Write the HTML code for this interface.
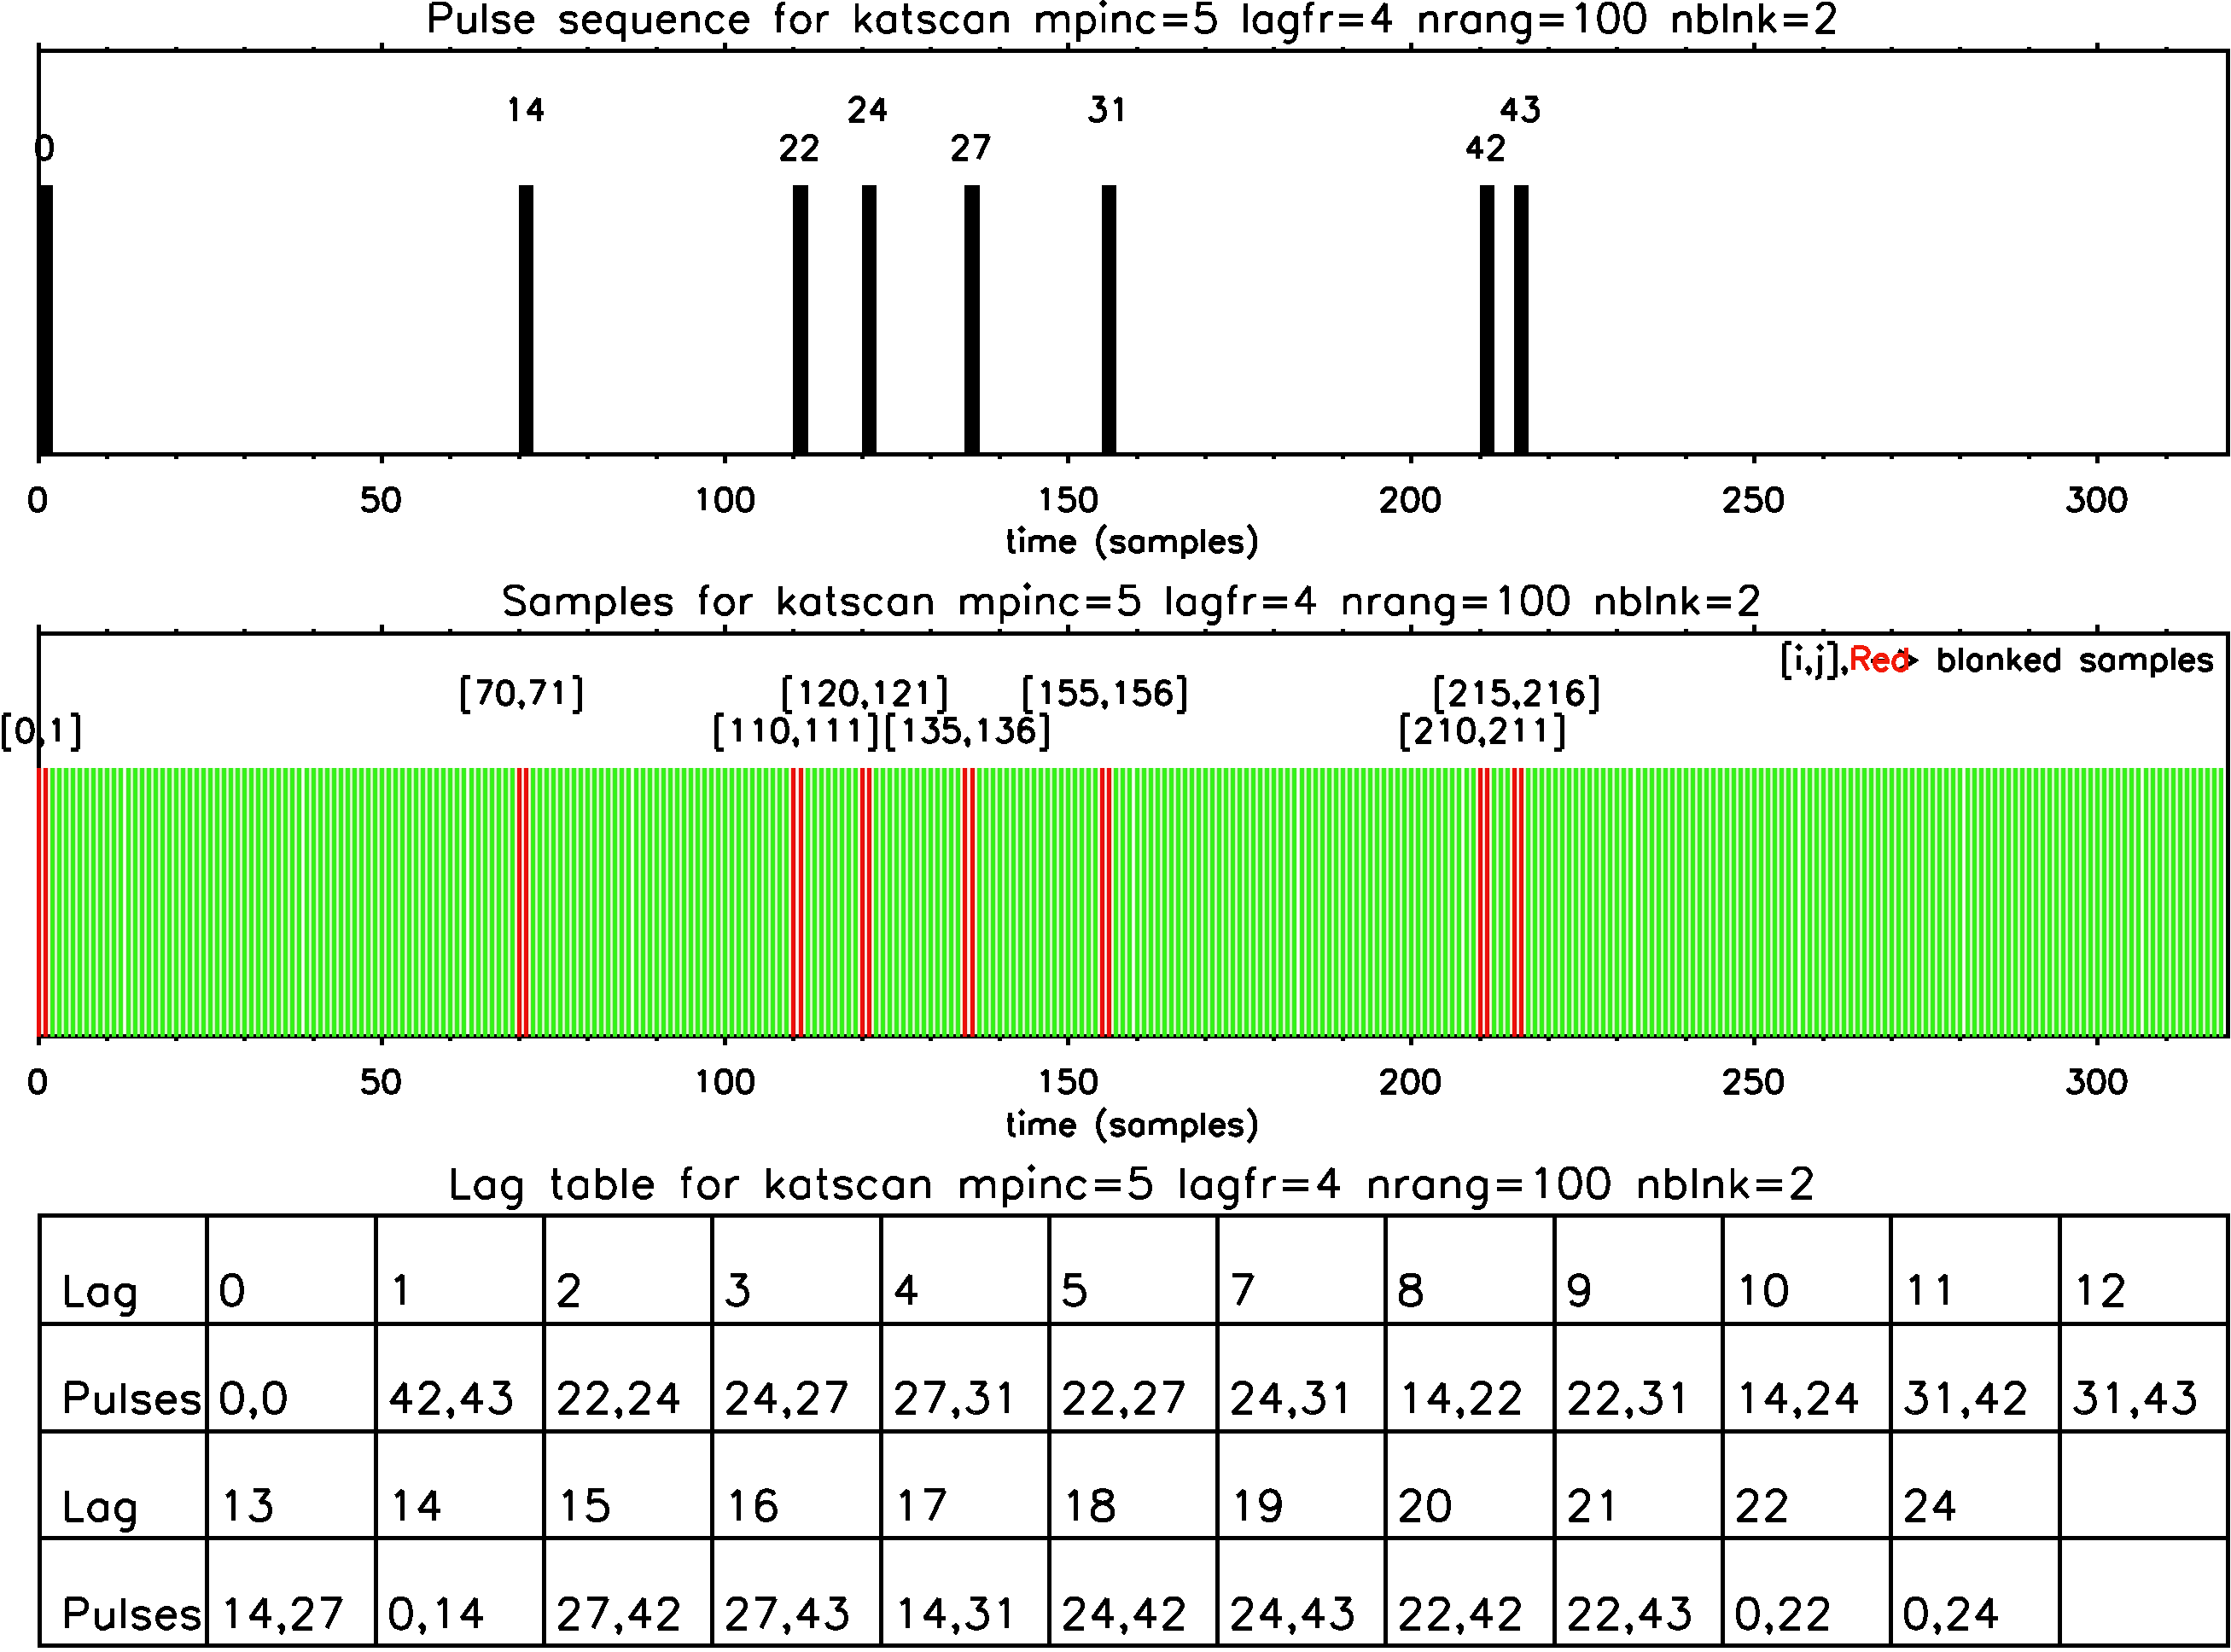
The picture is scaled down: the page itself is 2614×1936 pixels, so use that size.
<!DOCTYPE html>
<html><head><meta charset="utf-8"><title>katscan</title>
<style>html,body{margin:0;padding:0;background:#fff;overflow:hidden;font-family:"Liberation Sans",sans-serif;}svg{display:block;}</style>
</head><body>
<svg width="2614" height="1936" viewBox="0 0 2614 1936">
<rect x="0" y="0" width="2614" height="1936" fill="#fff"/>
<rect x="43.00" y="57.00" width="2570.00" height="5.00" fill="#000"/>
<rect x="43.00" y="530.00" width="2570.00" height="5.00" fill="#000"/>
<rect x="43.00" y="50.00" width="5.00" height="493.00" fill="#000"/>
<rect x="2608.00" y="57.00" width="5.00" height="478.00" fill="#000"/>
<rect x="43.00" y="50.00" width="5.00" height="8.00" fill="#000"/>
<rect x="43.00" y="534.00" width="5.00" height="9.00" fill="#000"/>
<rect x="123.00" y="55.00" width="5.00" height="3.00" fill="#000"/>
<rect x="123.00" y="534.00" width="5.00" height="4.00" fill="#000"/>
<rect x="204.00" y="55.00" width="5.00" height="3.00" fill="#000"/>
<rect x="204.00" y="534.00" width="5.00" height="4.00" fill="#000"/>
<rect x="284.00" y="55.00" width="5.00" height="3.00" fill="#000"/>
<rect x="284.00" y="534.00" width="5.00" height="4.00" fill="#000"/>
<rect x="365.00" y="55.00" width="5.00" height="3.00" fill="#000"/>
<rect x="365.00" y="534.00" width="5.00" height="4.00" fill="#000"/>
<rect x="445.00" y="50.00" width="5.00" height="8.00" fill="#000"/>
<rect x="445.00" y="534.00" width="5.00" height="9.00" fill="#000"/>
<rect x="525.00" y="55.00" width="5.00" height="3.00" fill="#000"/>
<rect x="525.00" y="534.00" width="5.00" height="4.00" fill="#000"/>
<rect x="606.00" y="55.00" width="5.00" height="3.00" fill="#000"/>
<rect x="606.00" y="534.00" width="5.00" height="4.00" fill="#000"/>
<rect x="686.00" y="55.00" width="5.00" height="3.00" fill="#000"/>
<rect x="686.00" y="534.00" width="5.00" height="4.00" fill="#000"/>
<rect x="767.00" y="55.00" width="5.00" height="3.00" fill="#000"/>
<rect x="767.00" y="534.00" width="5.00" height="4.00" fill="#000"/>
<rect x="847.00" y="50.00" width="5.00" height="8.00" fill="#000"/>
<rect x="847.00" y="534.00" width="5.00" height="9.00" fill="#000"/>
<rect x="927.00" y="55.00" width="5.00" height="3.00" fill="#000"/>
<rect x="927.00" y="534.00" width="5.00" height="4.00" fill="#000"/>
<rect x="1008.00" y="55.00" width="5.00" height="3.00" fill="#000"/>
<rect x="1008.00" y="534.00" width="5.00" height="4.00" fill="#000"/>
<rect x="1088.00" y="55.00" width="5.00" height="3.00" fill="#000"/>
<rect x="1088.00" y="534.00" width="5.00" height="4.00" fill="#000"/>
<rect x="1169.00" y="55.00" width="5.00" height="3.00" fill="#000"/>
<rect x="1169.00" y="534.00" width="5.00" height="4.00" fill="#000"/>
<rect x="1249.00" y="50.00" width="5.00" height="8.00" fill="#000"/>
<rect x="1249.00" y="534.00" width="5.00" height="9.00" fill="#000"/>
<rect x="1330.00" y="55.00" width="5.00" height="3.00" fill="#000"/>
<rect x="1330.00" y="534.00" width="5.00" height="4.00" fill="#000"/>
<rect x="1410.00" y="55.00" width="5.00" height="3.00" fill="#000"/>
<rect x="1410.00" y="534.00" width="5.00" height="4.00" fill="#000"/>
<rect x="1490.00" y="55.00" width="5.00" height="3.00" fill="#000"/>
<rect x="1490.00" y="534.00" width="5.00" height="4.00" fill="#000"/>
<rect x="1571.00" y="55.00" width="5.00" height="3.00" fill="#000"/>
<rect x="1571.00" y="534.00" width="5.00" height="4.00" fill="#000"/>
<rect x="1651.00" y="50.00" width="5.00" height="8.00" fill="#000"/>
<rect x="1651.00" y="534.00" width="5.00" height="9.00" fill="#000"/>
<rect x="1732.00" y="55.00" width="5.00" height="3.00" fill="#000"/>
<rect x="1732.00" y="534.00" width="5.00" height="4.00" fill="#000"/>
<rect x="1812.00" y="55.00" width="5.00" height="3.00" fill="#000"/>
<rect x="1812.00" y="534.00" width="5.00" height="4.00" fill="#000"/>
<rect x="1892.00" y="55.00" width="5.00" height="3.00" fill="#000"/>
<rect x="1892.00" y="534.00" width="5.00" height="4.00" fill="#000"/>
<rect x="1973.00" y="55.00" width="5.00" height="3.00" fill="#000"/>
<rect x="1973.00" y="534.00" width="5.00" height="4.00" fill="#000"/>
<rect x="2053.00" y="50.00" width="5.00" height="8.00" fill="#000"/>
<rect x="2053.00" y="534.00" width="5.00" height="9.00" fill="#000"/>
<rect x="2134.00" y="55.00" width="5.00" height="3.00" fill="#000"/>
<rect x="2134.00" y="534.00" width="5.00" height="4.00" fill="#000"/>
<rect x="2214.00" y="55.00" width="5.00" height="3.00" fill="#000"/>
<rect x="2214.00" y="534.00" width="5.00" height="4.00" fill="#000"/>
<rect x="2294.00" y="55.00" width="5.00" height="3.00" fill="#000"/>
<rect x="2294.00" y="534.00" width="5.00" height="4.00" fill="#000"/>
<rect x="2375.00" y="55.00" width="5.00" height="3.00" fill="#000"/>
<rect x="2375.00" y="534.00" width="5.00" height="4.00" fill="#000"/>
<rect x="2455.00" y="50.00" width="5.00" height="8.00" fill="#000"/>
<rect x="2455.00" y="534.00" width="5.00" height="9.00" fill="#000"/>
<rect x="2536.00" y="55.00" width="5.00" height="3.00" fill="#000"/>
<rect x="2536.00" y="534.00" width="5.00" height="4.00" fill="#000"/>
<rect x="43.00" y="217.00" width="19.00" height="313.00" fill="#000"/>
<rect x="608.00" y="217.00" width="17.00" height="313.00" fill="#000"/>
<rect x="929.00" y="217.00" width="18.00" height="313.00" fill="#000"/>
<rect x="1010.00" y="217.00" width="17.00" height="313.00" fill="#000"/>
<rect x="1130.00" y="217.00" width="18.00" height="313.00" fill="#000"/>
<rect x="1291.00" y="217.00" width="17.00" height="313.00" fill="#000"/>
<rect x="1734.00" y="217.00" width="17.00" height="313.00" fill="#000"/>
<rect x="1774.00" y="217.00" width="17.00" height="313.00" fill="#000"/>
<path fill="#f8d8d0" d="M48 900h1v315h-1zM50 900h1v315h-1zM611 900h1v315h-1zM613 900h1v315h-1zM932 900h1v315h-1zM935 900h1v315h-1zM1013 900h1v315h-1zM1015 900h1v315h-1zM1133 900h1v315h-1zM1136 900h1v315h-1zM1294 900h1v315h-1zM1296 900h1v315h-1zM1737 900h1v315h-1zM1739 900h1v315h-1zM1777 900h1v315h-1zM1779 900h1v315h-1z"/>
<path fill="#fff0ee" d="M49 900h1v315h-1zM612 900h1v315h-1zM933 900h2v315h-2zM1014 900h1v315h-1zM1134 900h2v315h-2zM1295 900h1v315h-1zM1738 900h1v315h-1zM1778 900h1v315h-1z"/>
<path fill="#f0e8c8" d="M56 900h1v315h-1zM58 900h1v315h-1zM603 900h1v315h-1zM605 900h1v315h-1zM619 900h1v315h-1zM621 900h1v315h-1zM924 900h1v315h-1zM926 900h1v315h-1zM941 900h1v315h-1zM943 900h1v315h-1zM1005 900h1v315h-1zM1007 900h1v315h-1zM1021 900h1v315h-1zM1023 900h1v315h-1zM1125 900h1v315h-1zM1127 900h1v315h-1zM1142 900h1v315h-1zM1144 900h1v315h-1zM1286 900h1v315h-1zM1288 900h1v315h-1zM1302 900h1v315h-1zM1304 900h1v315h-1zM1729 900h1v315h-1zM1731 900h1v315h-1zM1745 900h1v315h-1zM1747 900h1v315h-1zM1769 900h1v315h-1zM1771 900h1v315h-1zM1785 900h1v315h-1zM1787 900h1v315h-1z"/>
<path fill="#fbf8e8" d="M57 900h1v315h-1zM604 900h1v315h-1zM620 900h1v315h-1zM925 900h1v315h-1zM942 900h1v315h-1zM1006 900h1v315h-1zM1022 900h1v315h-1zM1126 900h1v315h-1zM1143 900h1v315h-1zM1287 900h1v315h-1zM1303 900h1v315h-1zM1730 900h1v315h-1zM1746 900h1v315h-1zM1770 900h1v315h-1zM1786 900h1v315h-1z"/>
<path fill="#c4f6b0" d="M64 900h1v315h-1zM66 900h1v315h-1zM72 900h1v315h-1zM74 900h1v315h-1zM80 900h1v315h-1zM82 900h1v315h-1zM88 900h1v315h-1zM90 900h1v315h-1zM96 900h1v315h-1zM98 900h1v315h-1zM104 900h1v315h-1zM106 900h1v315h-1zM112 900h1v315h-1zM114 900h1v315h-1zM120 900h1v315h-1zM122 900h1v315h-1zM128 900h1v315h-1zM130 900h1v315h-1zM136 900h1v315h-1zM138 900h1v315h-1zM153 900h1v315h-1zM155 900h1v315h-1zM161 900h1v315h-1zM163 900h1v315h-1zM169 900h1v315h-1zM171 900h1v315h-1zM177 900h1v315h-1zM179 900h1v315h-1zM185 900h1v315h-1zM187 900h1v315h-1zM193 900h1v315h-1zM195 900h1v315h-1zM201 900h1v315h-1zM203 900h1v315h-1zM209 900h1v315h-1zM211 900h1v315h-1zM217 900h1v315h-1zM219 900h1v315h-1zM225 900h1v315h-1zM227 900h1v315h-1zM233 900h1v315h-1zM235 900h1v315h-1zM241 900h1v315h-1zM243 900h1v315h-1zM249 900h1v315h-1zM251 900h1v315h-1zM257 900h1v315h-1zM259 900h1v315h-1zM265 900h1v315h-1zM267 900h1v315h-1zM273 900h1v315h-1zM275 900h1v315h-1zM281 900h1v315h-1zM283 900h1v315h-1zM289 900h1v315h-1zM291 900h1v315h-1zM297 900h1v315h-1zM299 900h1v315h-1zM305 900h1v315h-1zM307 900h1v315h-1zM313 900h1v315h-1zM315 900h1v315h-1zM321 900h1v315h-1zM323 900h1v315h-1zM329 900h1v315h-1zM331 900h1v315h-1zM337 900h1v315h-1zM339 900h1v315h-1zM345 900h1v315h-1zM347 900h1v315h-1zM362 900h1v315h-1zM364 900h1v315h-1zM370 900h1v315h-1zM372 900h1v315h-1zM378 900h1v315h-1zM380 900h1v315h-1zM386 900h1v315h-1zM388 900h1v315h-1zM394 900h1v315h-1zM396 900h1v315h-1zM402 900h1v315h-1zM404 900h1v315h-1zM410 900h1v315h-1zM412 900h1v315h-1zM418 900h1v315h-1zM420 900h1v315h-1zM426 900h1v315h-1zM428 900h1v315h-1zM434 900h1v315h-1zM436 900h1v315h-1zM442 900h1v315h-1zM444 900h1v315h-1zM450 900h1v315h-1zM452 900h1v315h-1zM458 900h1v315h-1zM460 900h1v315h-1zM466 900h1v315h-1zM468 900h1v315h-1zM474 900h1v315h-1zM476 900h1v315h-1zM482 900h1v315h-1zM484 900h1v315h-1zM490 900h1v315h-1zM492 900h1v315h-1zM498 900h1v315h-1zM500 900h1v315h-1zM506 900h1v315h-1zM508 900h1v315h-1zM514 900h1v315h-1zM516 900h1v315h-1zM522 900h1v315h-1zM524 900h1v315h-1zM530 900h1v315h-1zM532 900h1v315h-1zM538 900h1v315h-1zM540 900h1v315h-1zM555 900h1v315h-1zM557 900h1v315h-1zM563 900h1v315h-1zM565 900h1v315h-1zM571 900h1v315h-1zM573 900h1v315h-1zM579 900h1v315h-1zM581 900h1v315h-1zM587 900h1v315h-1zM589 900h1v315h-1zM595 900h1v315h-1zM597 900h1v315h-1zM627 900h1v315h-1zM629 900h1v315h-1zM635 900h1v315h-1zM637 900h1v315h-1zM643 900h1v315h-1zM645 900h1v315h-1zM651 900h1v315h-1zM653 900h1v315h-1zM659 900h1v315h-1zM661 900h1v315h-1zM667 900h1v315h-1zM669 900h1v315h-1zM675 900h1v315h-1zM677 900h1v315h-1zM683 900h1v315h-1zM685 900h1v315h-1zM691 900h1v315h-1zM693 900h1v315h-1zM699 900h1v315h-1zM701 900h1v315h-1zM707 900h1v315h-1zM709 900h1v315h-1zM715 900h1v315h-1zM717 900h1v315h-1zM723 900h1v315h-1zM725 900h1v315h-1zM731 900h1v315h-1zM733 900h1v315h-1zM748 900h1v315h-1zM750 900h1v315h-1zM756 900h1v315h-1zM758 900h1v315h-1zM764 900h1v315h-1zM766 900h1v315h-1zM772 900h1v315h-1zM774 900h1v315h-1zM780 900h1v315h-1zM782 900h1v315h-1zM788 900h1v315h-1zM790 900h1v315h-1zM796 900h1v315h-1zM798 900h1v315h-1zM804 900h1v315h-1zM806 900h1v315h-1zM812 900h1v315h-1zM814 900h1v315h-1zM820 900h1v315h-1zM822 900h1v315h-1zM828 900h1v315h-1zM830 900h1v315h-1zM836 900h1v315h-1zM838 900h1v315h-1zM844 900h1v315h-1zM846 900h1v315h-1zM852 900h1v315h-1zM854 900h1v315h-1zM860 900h1v315h-1zM862 900h1v315h-1zM868 900h1v315h-1zM870 900h1v315h-1zM876 900h1v315h-1zM878 900h1v315h-1zM884 900h1v315h-1zM886 900h1v315h-1zM892 900h1v315h-1zM894 900h1v315h-1zM900 900h1v315h-1zM902 900h1v315h-1zM908 900h1v315h-1zM910 900h1v315h-1zM916 900h1v315h-1zM918 900h1v315h-1zM949 900h1v315h-1zM951 900h1v315h-1zM957 900h1v315h-1zM959 900h1v315h-1zM965 900h1v315h-1zM967 900h1v315h-1zM973 900h1v315h-1zM975 900h1v315h-1zM981 900h1v315h-1zM983 900h1v315h-1zM989 900h1v315h-1zM991 900h1v315h-1zM997 900h1v315h-1zM999 900h1v315h-1zM1029 900h1v315h-1zM1031 900h1v315h-1zM1037 900h1v315h-1zM1039 900h1v315h-1zM1045 900h1v315h-1zM1047 900h1v315h-1zM1053 900h1v315h-1zM1055 900h1v315h-1zM1061 900h1v315h-1zM1063 900h1v315h-1zM1069 900h1v315h-1zM1071 900h1v315h-1zM1077 900h1v315h-1zM1079 900h1v315h-1zM1085 900h1v315h-1zM1087 900h1v315h-1zM1093 900h1v315h-1zM1095 900h1v315h-1zM1101 900h1v315h-1zM1103 900h1v315h-1zM1109 900h1v315h-1zM1111 900h1v315h-1zM1117 900h1v315h-1zM1119 900h1v315h-1zM1150 900h1v315h-1zM1152 900h1v315h-1zM1158 900h1v315h-1zM1160 900h1v315h-1zM1166 900h1v315h-1zM1168 900h1v315h-1zM1174 900h1v315h-1zM1176 900h1v315h-1zM1182 900h1v315h-1zM1184 900h1v315h-1zM1190 900h1v315h-1zM1192 900h1v315h-1zM1198 900h1v315h-1zM1200 900h1v315h-1zM1206 900h1v315h-1zM1208 900h1v315h-1zM1214 900h1v315h-1zM1216 900h1v315h-1zM1222 900h1v315h-1zM1224 900h1v315h-1zM1230 900h1v315h-1zM1232 900h1v315h-1zM1238 900h1v315h-1zM1240 900h1v315h-1zM1246 900h1v315h-1zM1248 900h1v315h-1zM1254 900h1v315h-1zM1256 900h1v315h-1zM1262 900h1v315h-1zM1264 900h1v315h-1zM1270 900h1v315h-1zM1272 900h1v315h-1zM1278 900h1v315h-1zM1280 900h1v315h-1zM1310 900h1v315h-1zM1312 900h1v315h-1zM1318 900h1v315h-1zM1320 900h1v315h-1zM1335 900h1v315h-1zM1337 900h1v315h-1zM1343 900h1v315h-1zM1345 900h1v315h-1zM1351 900h1v315h-1zM1353 900h1v315h-1zM1359 900h1v315h-1zM1361 900h1v315h-1zM1367 900h1v315h-1zM1369 900h1v315h-1zM1375 900h1v315h-1zM1377 900h1v315h-1zM1383 900h1v315h-1zM1385 900h1v315h-1zM1391 900h1v315h-1zM1393 900h1v315h-1zM1399 900h1v315h-1zM1401 900h1v315h-1zM1407 900h1v315h-1zM1409 900h1v315h-1zM1415 900h1v315h-1zM1417 900h1v315h-1zM1423 900h1v315h-1zM1425 900h1v315h-1zM1431 900h1v315h-1zM1433 900h1v315h-1zM1439 900h1v315h-1zM1441 900h1v315h-1zM1447 900h1v315h-1zM1449 900h1v315h-1zM1455 900h1v315h-1zM1457 900h1v315h-1zM1463 900h1v315h-1zM1465 900h1v315h-1zM1471 900h1v315h-1zM1473 900h1v315h-1zM1479 900h1v315h-1zM1481 900h1v315h-1zM1487 900h1v315h-1zM1489 900h1v315h-1zM1495 900h1v315h-1zM1497 900h1v315h-1zM1503 900h1v315h-1zM1505 900h1v315h-1zM1511 900h1v315h-1zM1513 900h1v315h-1zM1528 900h1v315h-1zM1530 900h1v315h-1zM1536 900h1v315h-1zM1538 900h1v315h-1zM1544 900h1v315h-1zM1546 900h1v315h-1zM1552 900h1v315h-1zM1554 900h1v315h-1zM1560 900h1v315h-1zM1562 900h1v315h-1zM1568 900h1v315h-1zM1570 900h1v315h-1zM1576 900h1v315h-1zM1578 900h1v315h-1zM1584 900h1v315h-1zM1586 900h1v315h-1zM1592 900h1v315h-1zM1594 900h1v315h-1zM1600 900h1v315h-1zM1602 900h1v315h-1zM1608 900h1v315h-1zM1610 900h1v315h-1zM1616 900h1v315h-1zM1618 900h1v315h-1zM1624 900h1v315h-1zM1626 900h1v315h-1zM1632 900h1v315h-1zM1634 900h1v315h-1zM1640 900h1v315h-1zM1642 900h1v315h-1zM1648 900h1v315h-1zM1650 900h1v315h-1zM1656 900h1v315h-1zM1658 900h1v315h-1zM1664 900h1v315h-1zM1666 900h1v315h-1zM1672 900h1v315h-1zM1674 900h1v315h-1zM1680 900h1v315h-1zM1682 900h1v315h-1zM1688 900h1v315h-1zM1690 900h1v315h-1zM1696 900h1v315h-1zM1698 900h1v315h-1zM1704 900h1v315h-1zM1706 900h1v315h-1zM1721 900h1v315h-1zM1723 900h1v315h-1zM1753 900h1v315h-1zM1755 900h1v315h-1zM1761 900h1v315h-1zM1763 900h1v315h-1zM1793 900h1v315h-1zM1795 900h1v315h-1zM1801 900h1v315h-1zM1803 900h1v315h-1zM1809 900h1v315h-1zM1811 900h1v315h-1zM1817 900h1v315h-1zM1819 900h1v315h-1zM1825 900h1v315h-1zM1827 900h1v315h-1zM1833 900h1v315h-1zM1835 900h1v315h-1zM1841 900h1v315h-1zM1843 900h1v315h-1zM1849 900h1v315h-1zM1851 900h1v315h-1zM1857 900h1v315h-1zM1859 900h1v315h-1zM1865 900h1v315h-1zM1867 900h1v315h-1zM1873 900h1v315h-1zM1875 900h1v315h-1zM1881 900h1v315h-1zM1883 900h1v315h-1zM1889 900h1v315h-1zM1891 900h1v315h-1zM1897 900h1v315h-1zM1899 900h1v315h-1zM1905 900h1v315h-1zM1907 900h1v315h-1zM1922 900h1v315h-1zM1924 900h1v315h-1zM1930 900h1v315h-1zM1932 900h1v315h-1zM1938 900h1v315h-1zM1940 900h1v315h-1zM1946 900h1v315h-1zM1948 900h1v315h-1zM1954 900h1v315h-1zM1956 900h1v315h-1zM1962 900h1v315h-1zM1964 900h1v315h-1zM1970 900h1v315h-1zM1972 900h1v315h-1zM1978 900h1v315h-1zM1980 900h1v315h-1zM1986 900h1v315h-1zM1988 900h1v315h-1zM1994 900h1v315h-1zM1996 900h1v315h-1zM2002 900h1v315h-1zM2004 900h1v315h-1zM2010 900h1v315h-1zM2012 900h1v315h-1zM2018 900h1v315h-1zM2020 900h1v315h-1zM2026 900h1v315h-1zM2028 900h1v315h-1zM2034 900h1v315h-1zM2036 900h1v315h-1zM2042 900h1v315h-1zM2044 900h1v315h-1zM2050 900h1v315h-1zM2052 900h1v315h-1zM2058 900h1v315h-1zM2060 900h1v315h-1zM2066 900h1v315h-1zM2068 900h1v315h-1zM2074 900h1v315h-1zM2076 900h1v315h-1zM2082 900h1v315h-1zM2084 900h1v315h-1zM2090 900h1v315h-1zM2092 900h1v315h-1zM2098 900h1v315h-1zM2100 900h1v315h-1zM2115 900h1v315h-1zM2117 900h1v315h-1zM2123 900h1v315h-1zM2125 900h1v315h-1zM2131 900h1v315h-1zM2133 900h1v315h-1zM2139 900h1v315h-1zM2141 900h1v315h-1zM2147 900h1v315h-1zM2149 900h1v315h-1zM2155 900h1v315h-1zM2157 900h1v315h-1zM2163 900h1v315h-1zM2165 900h1v315h-1zM2171 900h1v315h-1zM2173 900h1v315h-1zM2179 900h1v315h-1zM2181 900h1v315h-1zM2187 900h1v315h-1zM2189 900h1v315h-1zM2195 900h1v315h-1zM2197 900h1v315h-1zM2203 900h1v315h-1zM2205 900h1v315h-1zM2211 900h1v315h-1zM2213 900h1v315h-1zM2219 900h1v315h-1zM2221 900h1v315h-1zM2227 900h1v315h-1zM2229 900h1v315h-1zM2235 900h1v315h-1zM2237 900h1v315h-1zM2243 900h1v315h-1zM2245 900h1v315h-1zM2251 900h1v315h-1zM2253 900h1v315h-1zM2259 900h1v315h-1zM2261 900h1v315h-1zM2267 900h1v315h-1zM2269 900h1v315h-1zM2275 900h1v315h-1zM2277 900h1v315h-1zM2283 900h1v315h-1zM2285 900h1v315h-1zM2291 900h1v315h-1zM2293 900h1v315h-1zM2308 900h1v315h-1zM2310 900h1v315h-1zM2316 900h1v315h-1zM2318 900h1v315h-1zM2324 900h1v315h-1zM2326 900h1v315h-1zM2332 900h1v315h-1zM2334 900h1v315h-1zM2340 900h1v315h-1zM2342 900h1v315h-1zM2348 900h1v315h-1zM2350 900h1v315h-1zM2356 900h1v315h-1zM2358 900h1v315h-1zM2364 900h1v315h-1zM2366 900h1v315h-1zM2372 900h1v315h-1zM2374 900h1v315h-1zM2380 900h1v315h-1zM2382 900h1v315h-1zM2388 900h1v315h-1zM2390 900h1v315h-1zM2396 900h1v315h-1zM2398 900h1v315h-1zM2404 900h1v315h-1zM2406 900h1v315h-1zM2412 900h1v315h-1zM2414 900h1v315h-1zM2420 900h1v315h-1zM2422 900h1v315h-1zM2428 900h1v315h-1zM2430 900h1v315h-1zM2436 900h1v315h-1zM2438 900h1v315h-1zM2444 900h1v315h-1zM2446 900h1v315h-1zM2452 900h1v315h-1zM2454 900h1v315h-1zM2460 900h1v315h-1zM2462 900h1v315h-1zM2468 900h1v315h-1zM2470 900h1v315h-1zM2476 900h1v315h-1zM2478 900h1v315h-1zM2484 900h1v315h-1zM2486 900h1v315h-1zM2492 900h1v315h-1zM2494 900h1v315h-1zM2500 900h1v315h-1zM2502 900h1v315h-1zM2517 900h1v315h-1zM2519 900h1v315h-1zM2525 900h1v315h-1zM2527 900h1v315h-1zM2533 900h1v315h-1zM2535 900h1v315h-1zM2541 900h1v315h-1zM2543 900h1v315h-1zM2549 900h1v315h-1zM2551 900h1v315h-1zM2557 900h1v315h-1zM2559 900h1v315h-1zM2565 900h1v315h-1zM2567 900h1v315h-1zM2573 900h1v315h-1zM2575 900h1v315h-1zM2581 900h1v315h-1zM2583 900h1v315h-1zM2589 900h1v315h-1zM2591 900h1v315h-1zM2597 900h1v315h-1zM2599 900h1v315h-1z"/>
<path fill="#e0fcd4" d="M65 900h1v315h-1zM73 900h1v315h-1zM81 900h1v315h-1zM89 900h1v315h-1zM97 900h1v315h-1zM105 900h1v315h-1zM113 900h1v315h-1zM121 900h1v315h-1zM129 900h1v315h-1zM137 900h1v315h-1zM154 900h1v315h-1zM162 900h1v315h-1zM170 900h1v315h-1zM178 900h1v315h-1zM186 900h1v315h-1zM194 900h1v315h-1zM202 900h1v315h-1zM210 900h1v315h-1zM218 900h1v315h-1zM226 900h1v315h-1zM234 900h1v315h-1zM242 900h1v315h-1zM250 900h1v315h-1zM258 900h1v315h-1zM266 900h1v315h-1zM274 900h1v315h-1zM282 900h1v315h-1zM290 900h1v315h-1zM298 900h1v315h-1zM306 900h1v315h-1zM314 900h1v315h-1zM322 900h1v315h-1zM330 900h1v315h-1zM338 900h1v315h-1zM346 900h1v315h-1zM363 900h1v315h-1zM371 900h1v315h-1zM379 900h1v315h-1zM387 900h1v315h-1zM395 900h1v315h-1zM403 900h1v315h-1zM411 900h1v315h-1zM419 900h1v315h-1zM427 900h1v315h-1zM435 900h1v315h-1zM443 900h1v315h-1zM451 900h1v315h-1zM459 900h1v315h-1zM467 900h1v315h-1zM475 900h1v315h-1zM483 900h1v315h-1zM491 900h1v315h-1zM499 900h1v315h-1zM507 900h1v315h-1zM515 900h1v315h-1zM523 900h1v315h-1zM531 900h1v315h-1zM539 900h1v315h-1zM556 900h1v315h-1zM564 900h1v315h-1zM572 900h1v315h-1zM580 900h1v315h-1zM588 900h1v315h-1zM596 900h1v315h-1zM628 900h1v315h-1zM636 900h1v315h-1zM644 900h1v315h-1zM652 900h1v315h-1zM660 900h1v315h-1zM668 900h1v315h-1zM676 900h1v315h-1zM684 900h1v315h-1zM692 900h1v315h-1zM700 900h1v315h-1zM708 900h1v315h-1zM716 900h1v315h-1zM724 900h1v315h-1zM732 900h1v315h-1zM749 900h1v315h-1zM757 900h1v315h-1zM765 900h1v315h-1zM773 900h1v315h-1zM781 900h1v315h-1zM789 900h1v315h-1zM797 900h1v315h-1zM805 900h1v315h-1zM813 900h1v315h-1zM821 900h1v315h-1zM829 900h1v315h-1zM837 900h1v315h-1zM845 900h1v315h-1zM853 900h1v315h-1zM861 900h1v315h-1zM869 900h1v315h-1zM877 900h1v315h-1zM885 900h1v315h-1zM893 900h1v315h-1zM901 900h1v315h-1zM909 900h1v315h-1zM917 900h1v315h-1zM950 900h1v315h-1zM958 900h1v315h-1zM966 900h1v315h-1zM974 900h1v315h-1zM982 900h1v315h-1zM990 900h1v315h-1zM998 900h1v315h-1zM1030 900h1v315h-1zM1038 900h1v315h-1zM1046 900h1v315h-1zM1054 900h1v315h-1zM1062 900h1v315h-1zM1070 900h1v315h-1zM1078 900h1v315h-1zM1086 900h1v315h-1zM1094 900h1v315h-1zM1102 900h1v315h-1zM1110 900h1v315h-1zM1118 900h1v315h-1zM1151 900h1v315h-1zM1159 900h1v315h-1zM1167 900h1v315h-1zM1175 900h1v315h-1zM1183 900h1v315h-1zM1191 900h1v315h-1zM1199 900h1v315h-1zM1207 900h1v315h-1zM1215 900h1v315h-1zM1223 900h1v315h-1zM1231 900h1v315h-1zM1239 900h1v315h-1zM1247 900h1v315h-1zM1255 900h1v315h-1zM1263 900h1v315h-1zM1271 900h1v315h-1zM1279 900h1v315h-1zM1311 900h1v315h-1zM1319 900h1v315h-1zM1336 900h1v315h-1zM1344 900h1v315h-1zM1352 900h1v315h-1zM1360 900h1v315h-1zM1368 900h1v315h-1zM1376 900h1v315h-1zM1384 900h1v315h-1zM1392 900h1v315h-1zM1400 900h1v315h-1zM1408 900h1v315h-1zM1416 900h1v315h-1zM1424 900h1v315h-1zM1432 900h1v315h-1zM1440 900h1v315h-1zM1448 900h1v315h-1zM1456 900h1v315h-1zM1464 900h1v315h-1zM1472 900h1v315h-1zM1480 900h1v315h-1zM1488 900h1v315h-1zM1496 900h1v315h-1zM1504 900h1v315h-1zM1512 900h1v315h-1zM1529 900h1v315h-1zM1537 900h1v315h-1zM1545 900h1v315h-1zM1553 900h1v315h-1zM1561 900h1v315h-1zM1569 900h1v315h-1zM1577 900h1v315h-1zM1585 900h1v315h-1zM1593 900h1v315h-1zM1601 900h1v315h-1zM1609 900h1v315h-1zM1617 900h1v315h-1zM1625 900h1v315h-1zM1633 900h1v315h-1zM1641 900h1v315h-1zM1649 900h1v315h-1zM1657 900h1v315h-1zM1665 900h1v315h-1zM1673 900h1v315h-1zM1681 900h1v315h-1zM1689 900h1v315h-1zM1697 900h1v315h-1zM1705 900h1v315h-1zM1722 900h1v315h-1zM1754 900h1v315h-1zM1762 900h1v315h-1zM1794 900h1v315h-1zM1802 900h1v315h-1zM1810 900h1v315h-1zM1818 900h1v315h-1zM1826 900h1v315h-1zM1834 900h1v315h-1zM1842 900h1v315h-1zM1850 900h1v315h-1zM1858 900h1v315h-1zM1866 900h1v315h-1zM1874 900h1v315h-1zM1882 900h1v315h-1zM1890 900h1v315h-1zM1898 900h1v315h-1zM1906 900h1v315h-1zM1923 900h1v315h-1zM1931 900h1v315h-1zM1939 900h1v315h-1zM1947 900h1v315h-1zM1955 900h1v315h-1zM1963 900h1v315h-1zM1971 900h1v315h-1zM1979 900h1v315h-1zM1987 900h1v315h-1zM1995 900h1v315h-1zM2003 900h1v315h-1zM2011 900h1v315h-1zM2019 900h1v315h-1zM2027 900h1v315h-1zM2035 900h1v315h-1zM2043 900h1v315h-1zM2051 900h1v315h-1zM2059 900h1v315h-1zM2067 900h1v315h-1zM2075 900h1v315h-1zM2083 900h1v315h-1zM2091 900h1v315h-1zM2099 900h1v315h-1zM2116 900h1v315h-1zM2124 900h1v315h-1zM2132 900h1v315h-1zM2140 900h1v315h-1zM2148 900h1v315h-1zM2156 900h1v315h-1zM2164 900h1v315h-1zM2172 900h1v315h-1zM2180 900h1v315h-1zM2188 900h1v315h-1zM2196 900h1v315h-1zM2204 900h1v315h-1zM2212 900h1v315h-1zM2220 900h1v315h-1zM2228 900h1v315h-1zM2236 900h1v315h-1zM2244 900h1v315h-1zM2252 900h1v315h-1zM2260 900h1v315h-1zM2268 900h1v315h-1zM2276 900h1v315h-1zM2284 900h1v315h-1zM2292 900h1v315h-1zM2309 900h1v315h-1zM2317 900h1v315h-1zM2325 900h1v315h-1zM2333 900h1v315h-1zM2341 900h1v315h-1zM2349 900h1v315h-1zM2357 900h1v315h-1zM2365 900h1v315h-1zM2373 900h1v315h-1zM2381 900h1v315h-1zM2389 900h1v315h-1zM2397 900h1v315h-1zM2405 900h1v315h-1zM2413 900h1v315h-1zM2421 900h1v315h-1zM2429 900h1v315h-1zM2437 900h1v315h-1zM2445 900h1v315h-1zM2453 900h1v315h-1zM2461 900h1v315h-1zM2469 900h1v315h-1zM2477 900h1v315h-1zM2485 900h1v315h-1zM2493 900h1v315h-1zM2501 900h1v315h-1zM2518 900h1v315h-1zM2526 900h1v315h-1zM2534 900h1v315h-1zM2542 900h1v315h-1zM2550 900h1v315h-1zM2558 900h1v315h-1zM2566 900h1v315h-1zM2574 900h1v315h-1zM2582 900h1v315h-1zM2590 900h1v315h-1zM2598 900h1v315h-1z"/>
<path fill="#d8fac8" d="M144 900h1v315h-1zM147 900h1v315h-1zM353 900h1v315h-1zM356 900h1v315h-1zM546 900h1v315h-1zM549 900h1v315h-1zM739 900h1v315h-1zM742 900h1v315h-1zM1326 900h1v315h-1zM1329 900h1v315h-1zM1519 900h1v315h-1zM1522 900h1v315h-1zM1712 900h1v315h-1zM1715 900h1v315h-1zM1913 900h1v315h-1zM1916 900h1v315h-1zM2106 900h1v315h-1zM2109 900h1v315h-1zM2299 900h1v315h-1zM2302 900h1v315h-1zM2508 900h1v315h-1zM2511 900h1v315h-1z"/>
<path fill="#f6fff2" d="M145 900h2v315h-2zM354 900h2v315h-2zM547 900h2v315h-2zM740 900h2v315h-2zM1327 900h2v315h-2zM1520 900h2v315h-2zM1713 900h2v315h-2zM1914 900h2v315h-2zM2107 900h2v315h-2zM2300 900h2v315h-2zM2509 900h2v315h-2z"/>
<rect x="43.00" y="740.00" width="2570.00" height="5.00" fill="#000"/>
<rect x="43.00" y="1212.00" width="2570.00" height="5.00" fill="#000"/>
<rect x="43.00" y="732.00" width="5.00" height="493.00" fill="#000"/>
<rect x="2608.00" y="740.00" width="5.00" height="477.00" fill="#000"/>
<rect x="43.00" y="732.00" width="5.00" height="9.00" fill="#000"/>
<rect x="43.00" y="1216.00" width="5.00" height="9.00" fill="#000"/>
<rect x="123.00" y="737.00" width="5.00" height="4.00" fill="#000"/>
<rect x="123.00" y="1216.00" width="5.00" height="4.00" fill="#000"/>
<rect x="204.00" y="737.00" width="5.00" height="4.00" fill="#000"/>
<rect x="204.00" y="1216.00" width="5.00" height="4.00" fill="#000"/>
<rect x="284.00" y="737.00" width="5.00" height="4.00" fill="#000"/>
<rect x="284.00" y="1216.00" width="5.00" height="4.00" fill="#000"/>
<rect x="365.00" y="737.00" width="5.00" height="4.00" fill="#000"/>
<rect x="365.00" y="1216.00" width="5.00" height="4.00" fill="#000"/>
<rect x="445.00" y="732.00" width="5.00" height="9.00" fill="#000"/>
<rect x="445.00" y="1216.00" width="5.00" height="9.00" fill="#000"/>
<rect x="525.00" y="737.00" width="5.00" height="4.00" fill="#000"/>
<rect x="525.00" y="1216.00" width="5.00" height="4.00" fill="#000"/>
<rect x="606.00" y="737.00" width="5.00" height="4.00" fill="#000"/>
<rect x="606.00" y="1216.00" width="5.00" height="4.00" fill="#000"/>
<rect x="686.00" y="737.00" width="5.00" height="4.00" fill="#000"/>
<rect x="686.00" y="1216.00" width="5.00" height="4.00" fill="#000"/>
<rect x="767.00" y="737.00" width="5.00" height="4.00" fill="#000"/>
<rect x="767.00" y="1216.00" width="5.00" height="4.00" fill="#000"/>
<rect x="847.00" y="732.00" width="5.00" height="9.00" fill="#000"/>
<rect x="847.00" y="1216.00" width="5.00" height="9.00" fill="#000"/>
<rect x="927.00" y="737.00" width="5.00" height="4.00" fill="#000"/>
<rect x="927.00" y="1216.00" width="5.00" height="4.00" fill="#000"/>
<rect x="1008.00" y="737.00" width="5.00" height="4.00" fill="#000"/>
<rect x="1008.00" y="1216.00" width="5.00" height="4.00" fill="#000"/>
<rect x="1088.00" y="737.00" width="5.00" height="4.00" fill="#000"/>
<rect x="1088.00" y="1216.00" width="5.00" height="4.00" fill="#000"/>
<rect x="1169.00" y="737.00" width="5.00" height="4.00" fill="#000"/>
<rect x="1169.00" y="1216.00" width="5.00" height="4.00" fill="#000"/>
<rect x="1249.00" y="732.00" width="5.00" height="9.00" fill="#000"/>
<rect x="1249.00" y="1216.00" width="5.00" height="9.00" fill="#000"/>
<rect x="1330.00" y="737.00" width="5.00" height="4.00" fill="#000"/>
<rect x="1330.00" y="1216.00" width="5.00" height="4.00" fill="#000"/>
<rect x="1410.00" y="737.00" width="5.00" height="4.00" fill="#000"/>
<rect x="1410.00" y="1216.00" width="5.00" height="4.00" fill="#000"/>
<rect x="1490.00" y="737.00" width="5.00" height="4.00" fill="#000"/>
<rect x="1490.00" y="1216.00" width="5.00" height="4.00" fill="#000"/>
<rect x="1571.00" y="737.00" width="5.00" height="4.00" fill="#000"/>
<rect x="1571.00" y="1216.00" width="5.00" height="4.00" fill="#000"/>
<rect x="1651.00" y="732.00" width="5.00" height="9.00" fill="#000"/>
<rect x="1651.00" y="1216.00" width="5.00" height="9.00" fill="#000"/>
<rect x="1732.00" y="737.00" width="5.00" height="4.00" fill="#000"/>
<rect x="1732.00" y="1216.00" width="5.00" height="4.00" fill="#000"/>
<rect x="1812.00" y="737.00" width="5.00" height="4.00" fill="#000"/>
<rect x="1812.00" y="1216.00" width="5.00" height="4.00" fill="#000"/>
<rect x="1892.00" y="737.00" width="5.00" height="4.00" fill="#000"/>
<rect x="1892.00" y="1216.00" width="5.00" height="4.00" fill="#000"/>
<rect x="1973.00" y="737.00" width="5.00" height="4.00" fill="#000"/>
<rect x="1973.00" y="1216.00" width="5.00" height="4.00" fill="#000"/>
<rect x="2053.00" y="732.00" width="5.00" height="9.00" fill="#000"/>
<rect x="2053.00" y="1216.00" width="5.00" height="9.00" fill="#000"/>
<rect x="2134.00" y="737.00" width="5.00" height="4.00" fill="#000"/>
<rect x="2134.00" y="1216.00" width="5.00" height="4.00" fill="#000"/>
<rect x="2214.00" y="737.00" width="5.00" height="4.00" fill="#000"/>
<rect x="2214.00" y="1216.00" width="5.00" height="4.00" fill="#000"/>
<rect x="2294.00" y="737.00" width="5.00" height="4.00" fill="#000"/>
<rect x="2294.00" y="1216.00" width="5.00" height="4.00" fill="#000"/>
<rect x="2375.00" y="737.00" width="5.00" height="4.00" fill="#000"/>
<rect x="2375.00" y="1216.00" width="5.00" height="4.00" fill="#000"/>
<rect x="2455.00" y="732.00" width="5.00" height="9.00" fill="#000"/>
<rect x="2455.00" y="1216.00" width="5.00" height="9.00" fill="#000"/>
<rect x="2536.00" y="737.00" width="5.00" height="4.00" fill="#000"/>
<rect x="2536.00" y="1216.00" width="5.00" height="4.00" fill="#000"/>
<path fill="#ee0e0a" d="M43 900h5v315h-5zM51 900h5v315h-5zM606 900h5v315h-5zM614 900h5v315h-5zM927 900h5v315h-5zM936 900h5v315h-5zM1008 900h5v315h-5zM1016 900h5v315h-5zM1128 900h5v315h-5zM1137 900h5v315h-5zM1289 900h5v315h-5zM1297 900h5v315h-5zM1732 900h5v315h-5zM1740 900h5v315h-5zM1772 900h5v315h-5zM1780 900h5v315h-5z"/>
<path fill="#d01008" d="M47 900h1v315h-1zM55 900h1v315h-1zM610 900h1v315h-1zM618 900h1v315h-1zM931 900h1v315h-1zM940 900h1v315h-1zM1012 900h1v315h-1zM1020 900h1v315h-1zM1132 900h1v315h-1zM1141 900h1v315h-1zM1293 900h1v315h-1zM1301 900h1v315h-1zM1736 900h1v315h-1zM1744 900h1v315h-1zM1776 900h1v315h-1zM1784 900h1v315h-1z"/>
<path fill="#30f712" d="M60 900h3v315h-3zM68 900h3v315h-3zM76 900h3v315h-3zM84 900h3v315h-3zM92 900h3v315h-3zM100 900h3v315h-3zM108 900h3v315h-3zM116 900h3v315h-3zM124 900h3v315h-3zM132 900h3v315h-3zM140 900h3v315h-3zM149 900h3v315h-3zM157 900h3v315h-3zM165 900h3v315h-3zM173 900h3v315h-3zM181 900h3v315h-3zM189 900h3v315h-3zM197 900h3v315h-3zM205 900h3v315h-3zM213 900h3v315h-3zM221 900h3v315h-3zM229 900h3v315h-3zM237 900h3v315h-3zM245 900h3v315h-3zM253 900h3v315h-3zM261 900h3v315h-3zM269 900h3v315h-3zM277 900h3v315h-3zM285 900h3v315h-3zM293 900h3v315h-3zM301 900h3v315h-3zM309 900h3v315h-3zM317 900h3v315h-3zM325 900h3v315h-3zM333 900h3v315h-3zM341 900h3v315h-3zM349 900h3v315h-3zM358 900h3v315h-3zM366 900h3v315h-3zM374 900h3v315h-3zM382 900h3v315h-3zM390 900h3v315h-3zM398 900h3v315h-3zM406 900h3v315h-3zM414 900h3v315h-3zM422 900h3v315h-3zM430 900h3v315h-3zM438 900h3v315h-3zM446 900h3v315h-3zM454 900h3v315h-3zM462 900h3v315h-3zM470 900h3v315h-3zM478 900h3v315h-3zM486 900h3v315h-3zM494 900h3v315h-3zM502 900h3v315h-3zM510 900h3v315h-3zM518 900h3v315h-3zM526 900h3v315h-3zM534 900h3v315h-3zM542 900h3v315h-3zM551 900h3v315h-3zM559 900h3v315h-3zM567 900h3v315h-3zM575 900h3v315h-3zM583 900h3v315h-3zM591 900h3v315h-3zM599 900h3v315h-3zM623 900h3v315h-3zM631 900h3v315h-3zM639 900h3v315h-3zM647 900h3v315h-3zM655 900h3v315h-3zM663 900h3v315h-3zM671 900h3v315h-3zM679 900h3v315h-3zM687 900h3v315h-3zM695 900h3v315h-3zM703 900h3v315h-3zM711 900h3v315h-3zM719 900h3v315h-3zM727 900h3v315h-3zM735 900h3v315h-3zM744 900h3v315h-3zM752 900h3v315h-3zM760 900h3v315h-3zM768 900h3v315h-3zM776 900h3v315h-3zM784 900h3v315h-3zM792 900h3v315h-3zM800 900h3v315h-3zM808 900h3v315h-3zM816 900h3v315h-3zM824 900h3v315h-3zM832 900h3v315h-3zM840 900h3v315h-3zM848 900h3v315h-3zM856 900h3v315h-3zM864 900h3v315h-3zM872 900h3v315h-3zM880 900h3v315h-3zM888 900h3v315h-3zM896 900h3v315h-3zM904 900h3v315h-3zM912 900h3v315h-3zM920 900h3v315h-3zM945 900h3v315h-3zM953 900h3v315h-3zM961 900h3v315h-3zM969 900h3v315h-3zM977 900h3v315h-3zM985 900h3v315h-3zM993 900h3v315h-3zM1001 900h3v315h-3zM1025 900h3v315h-3zM1033 900h3v315h-3zM1041 900h3v315h-3zM1049 900h3v315h-3zM1057 900h3v315h-3zM1065 900h3v315h-3zM1073 900h3v315h-3zM1081 900h3v315h-3zM1089 900h3v315h-3zM1097 900h3v315h-3zM1105 900h3v315h-3zM1113 900h3v315h-3zM1121 900h3v315h-3zM1146 900h3v315h-3zM1154 900h3v315h-3zM1162 900h3v315h-3zM1170 900h3v315h-3zM1178 900h3v315h-3zM1186 900h3v315h-3zM1194 900h3v315h-3zM1202 900h3v315h-3zM1210 900h3v315h-3zM1218 900h3v315h-3zM1226 900h3v315h-3zM1234 900h3v315h-3zM1242 900h3v315h-3zM1250 900h3v315h-3zM1258 900h3v315h-3zM1266 900h3v315h-3zM1274 900h3v315h-3zM1282 900h3v315h-3zM1306 900h3v315h-3zM1314 900h3v315h-3zM1322 900h3v315h-3zM1331 900h3v315h-3zM1339 900h3v315h-3zM1347 900h3v315h-3zM1355 900h3v315h-3zM1363 900h3v315h-3zM1371 900h3v315h-3zM1379 900h3v315h-3zM1387 900h3v315h-3zM1395 900h3v315h-3zM1403 900h3v315h-3zM1411 900h3v315h-3zM1419 900h3v315h-3zM1427 900h3v315h-3zM1435 900h3v315h-3zM1443 900h3v315h-3zM1451 900h3v315h-3zM1459 900h3v315h-3zM1467 900h3v315h-3zM1475 900h3v315h-3zM1483 900h3v315h-3zM1491 900h3v315h-3zM1499 900h3v315h-3zM1507 900h3v315h-3zM1515 900h3v315h-3zM1524 900h3v315h-3zM1532 900h3v315h-3zM1540 900h3v315h-3zM1548 900h3v315h-3zM1556 900h3v315h-3zM1564 900h3v315h-3zM1572 900h3v315h-3zM1580 900h3v315h-3zM1588 900h3v315h-3zM1596 900h3v315h-3zM1604 900h3v315h-3zM1612 900h3v315h-3zM1620 900h3v315h-3zM1628 900h3v315h-3zM1636 900h3v315h-3zM1644 900h3v315h-3zM1652 900h3v315h-3zM1660 900h3v315h-3zM1668 900h3v315h-3zM1676 900h3v315h-3zM1684 900h3v315h-3zM1692 900h3v315h-3zM1700 900h3v315h-3zM1708 900h3v315h-3zM1717 900h3v315h-3zM1725 900h3v315h-3zM1749 900h3v315h-3zM1757 900h3v315h-3zM1765 900h3v315h-3zM1789 900h3v315h-3zM1797 900h3v315h-3zM1805 900h3v315h-3zM1813 900h3v315h-3zM1821 900h3v315h-3zM1829 900h3v315h-3zM1837 900h3v315h-3zM1845 900h3v315h-3zM1853 900h3v315h-3zM1861 900h3v315h-3zM1869 900h3v315h-3zM1877 900h3v315h-3zM1885 900h3v315h-3zM1893 900h3v315h-3zM1901 900h3v315h-3zM1909 900h3v315h-3zM1918 900h3v315h-3zM1926 900h3v315h-3zM1934 900h3v315h-3zM1942 900h3v315h-3zM1950 900h3v315h-3zM1958 900h3v315h-3zM1966 900h3v315h-3zM1974 900h3v315h-3zM1982 900h3v315h-3zM1990 900h3v315h-3zM1998 900h3v315h-3zM2006 900h3v315h-3zM2014 900h3v315h-3zM2022 900h3v315h-3zM2030 900h3v315h-3zM2038 900h3v315h-3zM2046 900h3v315h-3zM2054 900h3v315h-3zM2062 900h3v315h-3zM2070 900h3v315h-3zM2078 900h3v315h-3zM2086 900h3v315h-3zM2094 900h3v315h-3zM2102 900h3v315h-3zM2111 900h3v315h-3zM2119 900h3v315h-3zM2127 900h3v315h-3zM2135 900h3v315h-3zM2143 900h3v315h-3zM2151 900h3v315h-3zM2159 900h3v315h-3zM2167 900h3v315h-3zM2175 900h3v315h-3zM2183 900h3v315h-3zM2191 900h3v315h-3zM2199 900h3v315h-3zM2207 900h3v315h-3zM2215 900h3v315h-3zM2223 900h3v315h-3zM2231 900h3v315h-3zM2239 900h3v315h-3zM2247 900h3v315h-3zM2255 900h3v315h-3zM2263 900h3v315h-3zM2271 900h3v315h-3zM2279 900h3v315h-3zM2287 900h3v315h-3zM2295 900h3v315h-3zM2304 900h3v315h-3zM2312 900h3v315h-3zM2320 900h3v315h-3zM2328 900h3v315h-3zM2336 900h3v315h-3zM2344 900h3v315h-3zM2352 900h3v315h-3zM2360 900h3v315h-3zM2368 900h3v315h-3zM2376 900h3v315h-3zM2384 900h3v315h-3zM2392 900h3v315h-3zM2400 900h3v315h-3zM2408 900h3v315h-3zM2416 900h3v315h-3zM2424 900h3v315h-3zM2432 900h3v315h-3zM2440 900h3v315h-3zM2448 900h3v315h-3zM2456 900h3v315h-3zM2464 900h3v315h-3zM2472 900h3v315h-3zM2480 900h3v315h-3zM2488 900h3v315h-3zM2496 900h3v315h-3zM2504 900h3v315h-3zM2513 900h3v315h-3zM2521 900h3v315h-3zM2529 900h3v315h-3zM2537 900h3v315h-3zM2545 900h3v315h-3zM2553 900h3v315h-3zM2561 900h3v315h-3zM2569 900h3v315h-3zM2577 900h3v315h-3zM2585 900h3v315h-3zM2593 900h3v315h-3zM2601 900h3v315h-3z"/>
<path fill="#4cdc36" d="M59 900h1v315h-1zM67 900h1v315h-1zM75 900h1v315h-1zM83 900h1v315h-1zM91 900h1v315h-1zM99 900h1v315h-1zM107 900h1v315h-1zM115 900h1v315h-1zM123 900h1v315h-1zM131 900h1v315h-1zM139 900h1v315h-1zM148 900h1v315h-1zM156 900h1v315h-1zM164 900h1v315h-1zM172 900h1v315h-1zM180 900h1v315h-1zM188 900h1v315h-1zM196 900h1v315h-1zM204 900h1v315h-1zM212 900h1v315h-1zM220 900h1v315h-1zM228 900h1v315h-1zM236 900h1v315h-1zM244 900h1v315h-1zM252 900h1v315h-1zM260 900h1v315h-1zM268 900h1v315h-1zM276 900h1v315h-1zM284 900h1v315h-1zM292 900h1v315h-1zM300 900h1v315h-1zM308 900h1v315h-1zM316 900h1v315h-1zM324 900h1v315h-1zM332 900h1v315h-1zM340 900h1v315h-1zM348 900h1v315h-1zM357 900h1v315h-1zM365 900h1v315h-1zM373 900h1v315h-1zM381 900h1v315h-1zM389 900h1v315h-1zM397 900h1v315h-1zM405 900h1v315h-1zM413 900h1v315h-1zM421 900h1v315h-1zM429 900h1v315h-1zM437 900h1v315h-1zM445 900h1v315h-1zM453 900h1v315h-1zM461 900h1v315h-1zM469 900h1v315h-1zM477 900h1v315h-1zM485 900h1v315h-1zM493 900h1v315h-1zM501 900h1v315h-1zM509 900h1v315h-1zM517 900h1v315h-1zM525 900h1v315h-1zM533 900h1v315h-1zM541 900h1v315h-1zM550 900h1v315h-1zM558 900h1v315h-1zM566 900h1v315h-1zM574 900h1v315h-1zM582 900h1v315h-1zM590 900h1v315h-1zM598 900h1v315h-1zM622 900h1v315h-1zM630 900h1v315h-1zM638 900h1v315h-1zM646 900h1v315h-1zM654 900h1v315h-1zM662 900h1v315h-1zM670 900h1v315h-1zM678 900h1v315h-1zM686 900h1v315h-1zM694 900h1v315h-1zM702 900h1v315h-1zM710 900h1v315h-1zM718 900h1v315h-1zM726 900h1v315h-1zM734 900h1v315h-1zM743 900h1v315h-1zM751 900h1v315h-1zM759 900h1v315h-1zM767 900h1v315h-1zM775 900h1v315h-1zM783 900h1v315h-1zM791 900h1v315h-1zM799 900h1v315h-1zM807 900h1v315h-1zM815 900h1v315h-1zM823 900h1v315h-1zM831 900h1v315h-1zM839 900h1v315h-1zM847 900h1v315h-1zM855 900h1v315h-1zM863 900h1v315h-1zM871 900h1v315h-1zM879 900h1v315h-1zM887 900h1v315h-1zM895 900h1v315h-1zM903 900h1v315h-1zM911 900h1v315h-1zM919 900h1v315h-1zM944 900h1v315h-1zM952 900h1v315h-1zM960 900h1v315h-1zM968 900h1v315h-1zM976 900h1v315h-1zM984 900h1v315h-1zM992 900h1v315h-1zM1000 900h1v315h-1zM1024 900h1v315h-1zM1032 900h1v315h-1zM1040 900h1v315h-1zM1048 900h1v315h-1zM1056 900h1v315h-1zM1064 900h1v315h-1zM1072 900h1v315h-1zM1080 900h1v315h-1zM1088 900h1v315h-1zM1096 900h1v315h-1zM1104 900h1v315h-1zM1112 900h1v315h-1zM1120 900h1v315h-1zM1145 900h1v315h-1zM1153 900h1v315h-1zM1161 900h1v315h-1zM1169 900h1v315h-1zM1177 900h1v315h-1zM1185 900h1v315h-1zM1193 900h1v315h-1zM1201 900h1v315h-1zM1209 900h1v315h-1zM1217 900h1v315h-1zM1225 900h1v315h-1zM1233 900h1v315h-1zM1241 900h1v315h-1zM1249 900h1v315h-1zM1257 900h1v315h-1zM1265 900h1v315h-1zM1273 900h1v315h-1zM1281 900h1v315h-1zM1305 900h1v315h-1zM1313 900h1v315h-1zM1321 900h1v315h-1zM1330 900h1v315h-1zM1338 900h1v315h-1zM1346 900h1v315h-1zM1354 900h1v315h-1zM1362 900h1v315h-1zM1370 900h1v315h-1zM1378 900h1v315h-1zM1386 900h1v315h-1zM1394 900h1v315h-1zM1402 900h1v315h-1zM1410 900h1v315h-1zM1418 900h1v315h-1zM1426 900h1v315h-1zM1434 900h1v315h-1zM1442 900h1v315h-1zM1450 900h1v315h-1zM1458 900h1v315h-1zM1466 900h1v315h-1zM1474 900h1v315h-1zM1482 900h1v315h-1zM1490 900h1v315h-1zM1498 900h1v315h-1zM1506 900h1v315h-1zM1514 900h1v315h-1zM1523 900h1v315h-1zM1531 900h1v315h-1zM1539 900h1v315h-1zM1547 900h1v315h-1zM1555 900h1v315h-1zM1563 900h1v315h-1zM1571 900h1v315h-1zM1579 900h1v315h-1zM1587 900h1v315h-1zM1595 900h1v315h-1zM1603 900h1v315h-1zM1611 900h1v315h-1zM1619 900h1v315h-1zM1627 900h1v315h-1zM1635 900h1v315h-1zM1643 900h1v315h-1zM1651 900h1v315h-1zM1659 900h1v315h-1zM1667 900h1v315h-1zM1675 900h1v315h-1zM1683 900h1v315h-1zM1691 900h1v315h-1zM1699 900h1v315h-1zM1707 900h1v315h-1zM1716 900h1v315h-1zM1724 900h1v315h-1zM1748 900h1v315h-1zM1756 900h1v315h-1zM1764 900h1v315h-1zM1788 900h1v315h-1zM1796 900h1v315h-1zM1804 900h1v315h-1zM1812 900h1v315h-1zM1820 900h1v315h-1zM1828 900h1v315h-1zM1836 900h1v315h-1zM1844 900h1v315h-1zM1852 900h1v315h-1zM1860 900h1v315h-1zM1868 900h1v315h-1zM1876 900h1v315h-1zM1884 900h1v315h-1zM1892 900h1v315h-1zM1900 900h1v315h-1zM1908 900h1v315h-1zM1917 900h1v315h-1zM1925 900h1v315h-1zM1933 900h1v315h-1zM1941 900h1v315h-1zM1949 900h1v315h-1zM1957 900h1v315h-1zM1965 900h1v315h-1zM1973 900h1v315h-1zM1981 900h1v315h-1zM1989 900h1v315h-1zM1997 900h1v315h-1zM2005 900h1v315h-1zM2013 900h1v315h-1zM2021 900h1v315h-1zM2029 900h1v315h-1zM2037 900h1v315h-1zM2045 900h1v315h-1zM2053 900h1v315h-1zM2061 900h1v315h-1zM2069 900h1v315h-1zM2077 900h1v315h-1zM2085 900h1v315h-1zM2093 900h1v315h-1zM2101 900h1v315h-1zM2110 900h1v315h-1zM2118 900h1v315h-1zM2126 900h1v315h-1zM2134 900h1v315h-1zM2142 900h1v315h-1zM2150 900h1v315h-1zM2158 900h1v315h-1zM2166 900h1v315h-1zM2174 900h1v315h-1zM2182 900h1v315h-1zM2190 900h1v315h-1zM2198 900h1v315h-1zM2206 900h1v315h-1zM2214 900h1v315h-1zM2222 900h1v315h-1zM2230 900h1v315h-1zM2238 900h1v315h-1zM2246 900h1v315h-1zM2254 900h1v315h-1zM2262 900h1v315h-1zM2270 900h1v315h-1zM2278 900h1v315h-1zM2286 900h1v315h-1zM2294 900h1v315h-1zM2303 900h1v315h-1zM2311 900h1v315h-1zM2319 900h1v315h-1zM2327 900h1v315h-1zM2335 900h1v315h-1zM2343 900h1v315h-1zM2351 900h1v315h-1zM2359 900h1v315h-1zM2367 900h1v315h-1zM2375 900h1v315h-1zM2383 900h1v315h-1zM2391 900h1v315h-1zM2399 900h1v315h-1zM2407 900h1v315h-1zM2415 900h1v315h-1zM2423 900h1v315h-1zM2431 900h1v315h-1zM2439 900h1v315h-1zM2447 900h1v315h-1zM2455 900h1v315h-1zM2463 900h1v315h-1zM2471 900h1v315h-1zM2479 900h1v315h-1zM2487 900h1v315h-1zM2495 900h1v315h-1zM2503 900h1v315h-1zM2512 900h1v315h-1zM2520 900h1v315h-1zM2528 900h1v315h-1zM2536 900h1v315h-1zM2544 900h1v315h-1zM2552 900h1v315h-1zM2560 900h1v315h-1zM2568 900h1v315h-1zM2576 900h1v315h-1zM2584 900h1v315h-1zM2592 900h1v315h-1zM2600 900h1v315h-1z"/>
<path fill="#44e030" d="M63 900h1v315h-1zM71 900h1v315h-1zM79 900h1v315h-1zM87 900h1v315h-1zM95 900h1v315h-1zM103 900h1v315h-1zM111 900h1v315h-1zM119 900h1v315h-1zM127 900h1v315h-1zM135 900h1v315h-1zM143 900h1v315h-1zM152 900h1v315h-1zM160 900h1v315h-1zM168 900h1v315h-1zM176 900h1v315h-1zM184 900h1v315h-1zM192 900h1v315h-1zM200 900h1v315h-1zM208 900h1v315h-1zM216 900h1v315h-1zM224 900h1v315h-1zM232 900h1v315h-1zM240 900h1v315h-1zM248 900h1v315h-1zM256 900h1v315h-1zM264 900h1v315h-1zM272 900h1v315h-1zM280 900h1v315h-1zM288 900h1v315h-1zM296 900h1v315h-1zM304 900h1v315h-1zM312 900h1v315h-1zM320 900h1v315h-1zM328 900h1v315h-1zM336 900h1v315h-1zM344 900h1v315h-1zM352 900h1v315h-1zM361 900h1v315h-1zM369 900h1v315h-1zM377 900h1v315h-1zM385 900h1v315h-1zM393 900h1v315h-1zM401 900h1v315h-1zM409 900h1v315h-1zM417 900h1v315h-1zM425 900h1v315h-1zM433 900h1v315h-1zM441 900h1v315h-1zM449 900h1v315h-1zM457 900h1v315h-1zM465 900h1v315h-1zM473 900h1v315h-1zM481 900h1v315h-1zM489 900h1v315h-1zM497 900h1v315h-1zM505 900h1v315h-1zM513 900h1v315h-1zM521 900h1v315h-1zM529 900h1v315h-1zM537 900h1v315h-1zM545 900h1v315h-1zM554 900h1v315h-1zM562 900h1v315h-1zM570 900h1v315h-1zM578 900h1v315h-1zM586 900h1v315h-1zM594 900h1v315h-1zM602 900h1v315h-1zM626 900h1v315h-1zM634 900h1v315h-1zM642 900h1v315h-1zM650 900h1v315h-1zM658 900h1v315h-1zM666 900h1v315h-1zM674 900h1v315h-1zM682 900h1v315h-1zM690 900h1v315h-1zM698 900h1v315h-1zM706 900h1v315h-1zM714 900h1v315h-1zM722 900h1v315h-1zM730 900h1v315h-1zM738 900h1v315h-1zM747 900h1v315h-1zM755 900h1v315h-1zM763 900h1v315h-1zM771 900h1v315h-1zM779 900h1v315h-1zM787 900h1v315h-1zM795 900h1v315h-1zM803 900h1v315h-1zM811 900h1v315h-1zM819 900h1v315h-1zM827 900h1v315h-1zM835 900h1v315h-1zM843 900h1v315h-1zM851 900h1v315h-1zM859 900h1v315h-1zM867 900h1v315h-1zM875 900h1v315h-1zM883 900h1v315h-1zM891 900h1v315h-1zM899 900h1v315h-1zM907 900h1v315h-1zM915 900h1v315h-1zM923 900h1v315h-1zM948 900h1v315h-1zM956 900h1v315h-1zM964 900h1v315h-1zM972 900h1v315h-1zM980 900h1v315h-1zM988 900h1v315h-1zM996 900h1v315h-1zM1004 900h1v315h-1zM1028 900h1v315h-1zM1036 900h1v315h-1zM1044 900h1v315h-1zM1052 900h1v315h-1zM1060 900h1v315h-1zM1068 900h1v315h-1zM1076 900h1v315h-1zM1084 900h1v315h-1zM1092 900h1v315h-1zM1100 900h1v315h-1zM1108 900h1v315h-1zM1116 900h1v315h-1zM1124 900h1v315h-1zM1149 900h1v315h-1zM1157 900h1v315h-1zM1165 900h1v315h-1zM1173 900h1v315h-1zM1181 900h1v315h-1zM1189 900h1v315h-1zM1197 900h1v315h-1zM1205 900h1v315h-1zM1213 900h1v315h-1zM1221 900h1v315h-1zM1229 900h1v315h-1zM1237 900h1v315h-1zM1245 900h1v315h-1zM1253 900h1v315h-1zM1261 900h1v315h-1zM1269 900h1v315h-1zM1277 900h1v315h-1zM1285 900h1v315h-1zM1309 900h1v315h-1zM1317 900h1v315h-1zM1325 900h1v315h-1zM1334 900h1v315h-1zM1342 900h1v315h-1zM1350 900h1v315h-1zM1358 900h1v315h-1zM1366 900h1v315h-1zM1374 900h1v315h-1zM1382 900h1v315h-1zM1390 900h1v315h-1zM1398 900h1v315h-1zM1406 900h1v315h-1zM1414 900h1v315h-1zM1422 900h1v315h-1zM1430 900h1v315h-1zM1438 900h1v315h-1zM1446 900h1v315h-1zM1454 900h1v315h-1zM1462 900h1v315h-1zM1470 900h1v315h-1zM1478 900h1v315h-1zM1486 900h1v315h-1zM1494 900h1v315h-1zM1502 900h1v315h-1zM1510 900h1v315h-1zM1518 900h1v315h-1zM1527 900h1v315h-1zM1535 900h1v315h-1zM1543 900h1v315h-1zM1551 900h1v315h-1zM1559 900h1v315h-1zM1567 900h1v315h-1zM1575 900h1v315h-1zM1583 900h1v315h-1zM1591 900h1v315h-1zM1599 900h1v315h-1zM1607 900h1v315h-1zM1615 900h1v315h-1zM1623 900h1v315h-1zM1631 900h1v315h-1zM1639 900h1v315h-1zM1647 900h1v315h-1zM1655 900h1v315h-1zM1663 900h1v315h-1zM1671 900h1v315h-1zM1679 900h1v315h-1zM1687 900h1v315h-1zM1695 900h1v315h-1zM1703 900h1v315h-1zM1711 900h1v315h-1zM1720 900h1v315h-1zM1728 900h1v315h-1zM1752 900h1v315h-1zM1760 900h1v315h-1zM1768 900h1v315h-1zM1792 900h1v315h-1zM1800 900h1v315h-1zM1808 900h1v315h-1zM1816 900h1v315h-1zM1824 900h1v315h-1zM1832 900h1v315h-1zM1840 900h1v315h-1zM1848 900h1v315h-1zM1856 900h1v315h-1zM1864 900h1v315h-1zM1872 900h1v315h-1zM1880 900h1v315h-1zM1888 900h1v315h-1zM1896 900h1v315h-1zM1904 900h1v315h-1zM1912 900h1v315h-1zM1921 900h1v315h-1zM1929 900h1v315h-1zM1937 900h1v315h-1zM1945 900h1v315h-1zM1953 900h1v315h-1zM1961 900h1v315h-1zM1969 900h1v315h-1zM1977 900h1v315h-1zM1985 900h1v315h-1zM1993 900h1v315h-1zM2001 900h1v315h-1zM2009 900h1v315h-1zM2017 900h1v315h-1zM2025 900h1v315h-1zM2033 900h1v315h-1zM2041 900h1v315h-1zM2049 900h1v315h-1zM2057 900h1v315h-1zM2065 900h1v315h-1zM2073 900h1v315h-1zM2081 900h1v315h-1zM2089 900h1v315h-1zM2097 900h1v315h-1zM2105 900h1v315h-1zM2114 900h1v315h-1zM2122 900h1v315h-1zM2130 900h1v315h-1zM2138 900h1v315h-1zM2146 900h1v315h-1zM2154 900h1v315h-1zM2162 900h1v315h-1zM2170 900h1v315h-1zM2178 900h1v315h-1zM2186 900h1v315h-1zM2194 900h1v315h-1zM2202 900h1v315h-1zM2210 900h1v315h-1zM2218 900h1v315h-1zM2226 900h1v315h-1zM2234 900h1v315h-1zM2242 900h1v315h-1zM2250 900h1v315h-1zM2258 900h1v315h-1zM2266 900h1v315h-1zM2274 900h1v315h-1zM2282 900h1v315h-1zM2290 900h1v315h-1zM2298 900h1v315h-1zM2307 900h1v315h-1zM2315 900h1v315h-1zM2323 900h1v315h-1zM2331 900h1v315h-1zM2339 900h1v315h-1zM2347 900h1v315h-1zM2355 900h1v315h-1zM2363 900h1v315h-1zM2371 900h1v315h-1zM2379 900h1v315h-1zM2387 900h1v315h-1zM2395 900h1v315h-1zM2403 900h1v315h-1zM2411 900h1v315h-1zM2419 900h1v315h-1zM2427 900h1v315h-1zM2435 900h1v315h-1zM2443 900h1v315h-1zM2451 900h1v315h-1zM2459 900h1v315h-1zM2467 900h1v315h-1zM2475 900h1v315h-1zM2483 900h1v315h-1zM2491 900h1v315h-1zM2499 900h1v315h-1zM2507 900h1v315h-1zM2516 900h1v315h-1zM2524 900h1v315h-1zM2532 900h1v315h-1zM2540 900h1v315h-1zM2548 900h1v315h-1zM2556 900h1v315h-1zM2564 900h1v315h-1zM2572 900h1v315h-1zM2580 900h1v315h-1zM2588 900h1v315h-1zM2596 900h1v315h-1zM2604 900h1v315h-1z"/>
<rect x="44.00" y="1422.00" width="5.00" height="509.00" fill="#000"/>
<rect x="240.00" y="1422.00" width="5.00" height="509.00" fill="#000"/>
<rect x="438.00" y="1422.00" width="5.00" height="509.00" fill="#000"/>
<rect x="635.00" y="1422.00" width="5.00" height="509.00" fill="#000"/>
<rect x="832.00" y="1422.00" width="5.00" height="509.00" fill="#000"/>
<rect x="1030.00" y="1422.00" width="5.00" height="509.00" fill="#000"/>
<rect x="1227.00" y="1422.00" width="5.00" height="509.00" fill="#000"/>
<rect x="1424.00" y="1422.00" width="5.00" height="509.00" fill="#000"/>
<rect x="1621.00" y="1422.00" width="5.00" height="509.00" fill="#000"/>
<rect x="1819.00" y="1422.00" width="5.00" height="509.00" fill="#000"/>
<rect x="2016.00" y="1422.00" width="5.00" height="509.00" fill="#000"/>
<rect x="2213.00" y="1422.00" width="5.00" height="509.00" fill="#000"/>
<rect x="2411.00" y="1422.00" width="5.00" height="509.00" fill="#000"/>
<rect x="2608.00" y="1422.00" width="5.00" height="509.00" fill="#000"/>
<rect x="44.00" y="1422.00" width="2569.00" height="5.00" fill="#000"/>
<rect x="44.00" y="1549.00" width="2569.00" height="5.00" fill="#000"/>
<rect x="44.00" y="1675.00" width="2569.00" height="5.00" fill="#000"/>
<rect x="44.00" y="1800.00" width="2569.00" height="5.00" fill="#000"/>
<rect x="44.00" y="1926.00" width="2569.00" height="5.00" fill="#000"/>
<path d="M505.5 4.0 L505.5 37.8M505.5 4.0 L519.5 4.0 L524.1 5.6 L525.7 7.2 L527.3 10.4 L527.3 15.3 L525.7 18.5 L524.1 20.1 L519.5 21.7 L505.5 21.7M538.1 15.3 L538.1 31.4 L539.7 36.2 L542.8 37.8 L547.4 37.8 L550.5 36.2 L555.2 31.4M555.2 15.3 L555.2 37.8M567.6 4.0 L567.6 37.8M595.6 20.1 L594.0 16.9 L589.4 15.3 L584.7 15.3 L580.1 16.9 L578.5 20.1 L580.1 23.3 L583.2 24.9 L590.9 26.5 L594.0 28.1 L595.6 31.4 L595.6 33.0 L594.0 36.2 L589.4 37.8 L584.7 37.8 L580.1 36.2 L578.5 33.0M604.9 24.9 L623.5 24.9 L623.5 21.7 L622.0 18.5 L620.4 16.9 L617.3 15.3 L612.7 15.3 L609.6 16.9 L606.5 20.1 L604.9 24.9 L604.9 28.1 L606.5 33.0 L609.6 36.2 L612.7 37.8 L617.3 37.8 L620.4 36.2 L623.5 33.0M674.8 20.1 L673.2 16.9 L668.6 15.3 L663.9 15.3 L659.3 16.9 L657.7 20.1 L659.3 23.3 L662.4 24.9 L670.1 26.5 L673.2 28.1 L674.8 31.4 L674.8 33.0 L673.2 36.2 L668.6 37.8 L663.9 37.8 L659.3 36.2 L657.7 33.0M684.1 24.9 L702.7 24.9 L702.7 21.7 L701.2 18.5 L699.6 16.9 L696.5 15.3 L691.9 15.3 L688.8 16.9 L685.7 20.1 L684.1 24.9 L684.1 28.1 L685.7 33.0 L688.8 36.2 L691.9 37.8 L696.5 37.8 L699.6 36.2 L702.7 33.0M730.7 15.3 L730.7 49.1M730.7 20.1 L727.6 16.9 L724.5 15.3 L719.8 15.3 L716.7 16.9 L713.6 20.1 L712.1 24.9 L712.1 28.1 L713.6 33.0 L716.7 36.2 L719.8 37.8 L724.5 37.8 L727.6 36.2 L730.7 33.0M743.1 15.3 L743.1 31.4 L744.7 36.2 L747.8 37.8 L752.4 37.8 L755.5 36.2 L760.2 31.4M760.2 15.3 L760.2 37.8M771.1 24.9 L789.7 24.9 L789.7 21.7 L788.2 18.5 L786.6 16.9 L783.5 15.3 L778.8 15.3 L775.7 16.9 L772.6 20.1 L771.1 24.9 L771.1 28.1 L772.6 33.0 L775.7 36.2 L778.8 37.8 L783.5 37.8 L786.6 36.2 L789.7 33.0M800.6 15.3 L800.6 37.8M800.6 21.7 L805.2 16.9 L808.3 15.3 L813.0 15.3 L816.1 16.9 L817.7 21.7 L817.7 37.8M847.2 20.1 L844.1 16.9 L841.0 15.3 L836.3 15.3 L833.2 16.9 L830.1 20.1 L828.5 24.9 L828.5 28.1 L830.1 33.0 L833.2 36.2 L836.3 37.8 L841.0 37.8 L844.1 36.2 L847.2 33.0M856.5 24.9 L875.1 24.9 L875.1 21.7 L873.6 18.5 L872.0 16.9 L868.9 15.3 L864.3 15.3 L861.1 16.9 L858.0 20.1 L856.5 24.9 L856.5 28.1 L858.0 33.0 L861.1 36.2 L864.3 37.8 L868.9 37.8 L872.0 36.2 L875.1 33.0M920.2 4.0 L917.1 4.0 L914.0 5.6 L912.4 10.4 L912.4 37.8M907.7 15.3 L918.6 15.3M935.7 15.3 L932.6 16.9 L929.5 20.1 L927.9 24.9 L927.9 28.1 L929.5 33.0 L932.6 36.2 L935.7 37.8 L940.4 37.8 L943.5 36.2 L946.6 33.0 L948.1 28.1 L948.1 24.9 L946.6 20.1 L943.5 16.9 L940.4 15.3ZM959.0 15.3 L959.0 37.8M959.0 24.9 L960.5 20.1 L963.6 16.9 L966.8 15.3 L971.4 15.3M1004.0 4.0 L1004.0 37.8M1019.6 15.3 L1004.0 31.4M1010.2 24.9 L1021.1 37.8M1047.5 15.3 L1047.5 37.8M1047.5 20.1 L1044.4 16.9 L1041.3 15.3 L1036.6 15.3 L1033.5 16.9 L1030.4 20.1 L1028.9 24.9 L1028.9 28.1 L1030.4 33.0 L1033.5 36.2 L1036.6 37.8 L1041.3 37.8 L1044.4 36.2 L1047.5 33.0M1061.5 4.0 L1061.5 31.4 L1063.0 36.2 L1066.1 37.8 L1069.3 37.8M1056.8 15.3 L1067.7 15.3M1094.1 20.1 L1092.5 16.9 L1087.9 15.3 L1083.2 15.3 L1078.6 16.9 L1077.0 20.1 L1078.6 23.3 L1081.7 24.9 L1089.4 26.5 L1092.5 28.1 L1094.1 31.4 L1094.1 33.0 L1092.5 36.2 L1087.9 37.8 L1083.2 37.8 L1078.6 36.2 L1077.0 33.0M1122.1 20.1 L1118.9 16.9 L1115.8 15.3 L1111.2 15.3 L1108.1 16.9 L1105.0 20.1 L1103.4 24.9 L1103.4 28.1 L1105.0 33.0 L1108.1 36.2 L1111.2 37.8 L1115.8 37.8 L1118.9 36.2 L1122.1 33.0M1150.0 15.3 L1150.0 37.8M1150.0 20.1 L1146.9 16.9 L1143.8 15.3 L1139.1 15.3 L1136.0 16.9 L1132.9 20.1 L1131.4 24.9 L1131.4 28.1 L1132.9 33.0 L1136.0 36.2 L1139.1 37.8 L1143.8 37.8 L1146.9 36.2 L1150.0 33.0M1162.4 15.3 L1162.4 37.8M1162.4 21.7 L1167.1 16.9 L1170.2 15.3 L1174.9 15.3 L1178.0 16.9 L1179.5 21.7 L1179.5 37.8M1216.8 15.3 L1216.8 37.8M1216.8 21.7 L1221.4 16.9 L1224.6 15.3 L1229.2 15.3 L1232.3 16.9 L1233.9 21.7 L1233.9 37.8M1233.9 21.7 L1238.5 16.9 L1241.6 15.3 L1246.3 15.3 L1249.4 16.9 L1251.0 21.7 L1251.0 37.8M1263.4 15.3 L1263.4 49.1M1263.4 20.1 L1266.5 16.9 L1269.6 15.3 L1274.2 15.3 L1277.4 16.9 L1280.5 20.1 L1282.0 24.9 L1282.0 28.1 L1280.5 33.0 L1277.4 36.2 L1274.2 37.8 L1269.6 37.8 L1266.5 36.2 L1263.4 33.0M1291.3 4.0 L1292.9 5.6 L1294.4 4.0 L1292.9 2.4ZM1292.9 15.3 L1292.9 37.8M1305.3 15.3 L1305.3 37.8M1305.3 21.7 L1310.0 16.9 L1313.1 15.3 L1317.7 15.3 L1320.8 16.9 L1322.4 21.7 L1322.4 37.8M1351.9 20.1 L1348.8 16.9 L1345.7 15.3 L1341.0 15.3 L1337.9 16.9 L1334.8 20.1 L1333.3 24.9 L1333.3 28.1 L1334.8 33.0 L1337.9 36.2 L1341.0 37.8 L1345.7 37.8 L1348.8 36.2 L1351.9 33.0M1362.8 18.5 L1390.7 18.5M1362.8 28.1 L1390.7 28.1M1420.2 4.0 L1404.7 4.0 L1403.1 18.5 L1404.7 16.9 L1409.4 15.3 L1414.0 15.3 L1418.7 16.9 L1421.8 20.1 L1423.3 24.9 L1423.3 28.1 L1421.8 33.0 L1418.7 36.2 L1414.0 37.8 L1409.4 37.8 L1404.7 36.2 L1403.1 34.6 L1401.6 31.4M1459.1 4.0 L1459.1 37.8M1488.6 15.3 L1488.6 37.8M1488.6 20.1 L1485.5 16.9 L1482.3 15.3 L1477.7 15.3 L1474.6 16.9 L1471.5 20.1 L1469.9 24.9 L1469.9 28.1 L1471.5 33.0 L1474.6 36.2 L1477.7 37.8 L1482.3 37.8 L1485.5 36.2 L1488.6 33.0M1518.1 15.3 L1518.1 41.0 L1516.5 45.8 L1515.0 47.5 L1511.9 49.1 L1507.2 49.1 L1504.1 47.5M1518.1 20.1 L1515.0 16.9 L1511.9 15.3 L1507.2 15.3 L1504.1 16.9 L1501.0 20.1 L1499.4 24.9 L1499.4 28.1 L1501.0 33.0 L1504.1 36.2 L1507.2 37.8 L1511.9 37.8 L1515.0 36.2 L1518.1 33.0M1539.8 4.0 L1536.7 4.0 L1533.6 5.6 L1532.0 10.4 L1532.0 37.8M1527.4 15.3 L1538.3 15.3M1549.1 15.3 L1549.1 37.8M1549.1 24.9 L1550.7 20.1 L1553.8 16.9 L1556.9 15.3 L1561.6 15.3M1569.3 18.5 L1597.3 18.5M1569.3 28.1 L1597.3 28.1M1623.7 4.0 L1608.1 26.5 L1631.4 26.5M1623.7 4.0 L1623.7 37.8M1665.6 15.3 L1665.6 37.8M1665.6 21.7 L1670.3 16.9 L1673.4 15.3 L1678.0 15.3 L1681.1 16.9 L1682.7 21.7 L1682.7 37.8M1695.1 15.3 L1695.1 37.8M1695.1 24.9 L1696.7 20.1 L1699.8 16.9 L1702.9 15.3 L1707.5 15.3M1732.4 15.3 L1732.4 37.8M1732.4 20.1 L1729.3 16.9 L1726.2 15.3 L1721.5 15.3 L1718.4 16.9 L1715.3 20.1 L1713.7 24.9 L1713.7 28.1 L1715.3 33.0 L1718.4 36.2 L1721.5 37.8 L1726.2 37.8 L1729.3 36.2 L1732.4 33.0M1744.8 15.3 L1744.8 37.8M1744.8 21.7 L1749.5 16.9 L1752.6 15.3 L1757.2 15.3 L1760.3 16.9 L1761.9 21.7 L1761.9 37.8M1791.4 15.3 L1791.4 41.0 L1789.8 45.8 L1788.3 47.5 L1785.2 49.1 L1780.5 49.1 L1777.4 47.5M1791.4 20.1 L1788.3 16.9 L1785.2 15.3 L1780.5 15.3 L1777.4 16.9 L1774.3 20.1 L1772.8 24.9 L1772.8 28.1 L1774.3 33.0 L1777.4 36.2 L1780.5 37.8 L1785.2 37.8 L1788.3 36.2 L1791.4 33.0M1803.8 18.5 L1831.8 18.5M1803.8 28.1 L1831.8 28.1M1847.3 10.4 L1850.4 8.8 L1855.1 4.0 L1855.1 37.8M1883.0 4.0 L1878.4 5.6 L1875.3 10.4 L1873.7 18.5 L1873.7 23.3 L1875.3 31.4 L1878.4 36.2 L1883.0 37.8 L1886.1 37.8 L1890.8 36.2 L1893.9 31.4 L1895.4 23.3 L1895.4 18.5 L1893.9 10.4 L1890.8 5.6 L1886.1 4.0ZM1914.1 4.0 L1909.4 5.6 L1906.3 10.4 L1904.8 18.5 L1904.8 23.3 L1906.3 31.4 L1909.4 36.2 L1914.1 37.8 L1917.2 37.8 L1921.8 36.2 L1925.0 31.4 L1926.5 23.3 L1926.5 18.5 L1925.0 10.4 L1921.8 5.6 L1917.2 4.0ZM1962.2 15.3 L1962.2 37.8M1962.2 21.7 L1966.9 16.9 L1970.0 15.3 L1974.6 15.3 L1977.8 16.9 L1979.3 21.7 L1979.3 37.8M1991.7 4.0 L1991.7 37.8M1991.7 20.1 L1994.8 16.9 L1997.9 15.3 L2002.6 15.3 L2005.7 16.9 L2008.8 20.1 L2010.4 24.9 L2010.4 28.1 L2008.8 33.0 L2005.7 36.2 L2002.6 37.8 L1997.9 37.8 L1994.8 36.2 L1991.7 33.0M2021.2 4.0 L2021.2 37.8M2033.7 15.3 L2033.7 37.8M2033.7 21.7 L2038.3 16.9 L2041.4 15.3 L2046.1 15.3 L2049.2 16.9 L2050.7 21.7 L2050.7 37.8M2063.2 4.0 L2063.2 37.8M2078.7 15.3 L2063.2 31.4M2069.4 24.9 L2080.3 37.8M2089.6 18.5 L2117.5 18.5M2089.6 28.1 L2117.5 28.1M2129.9 12.0 L2129.9 10.4 L2131.5 7.2 L2133.1 5.6 L2136.2 4.0 L2142.4 4.0 L2145.5 5.6 L2147.0 7.2 L2148.6 10.4 L2148.6 13.6 L2147.0 16.9 L2143.9 21.7 L2128.4 37.8 L2150.1 37.8M613.7 691.7 L610.6 688.6 L605.9 687.0 L599.7 687.0 L595.1 688.6 L592.0 691.7 L592.0 694.8 L593.5 698.0 L595.1 699.5 L598.2 701.1 L607.5 704.2 L610.6 705.8 L612.1 707.3 L613.7 710.4 L613.7 715.1 L610.6 718.2 L605.9 719.8 L599.7 719.8 L595.1 718.2 L592.0 715.1M641.6 698.0 L641.6 719.8M641.6 702.6 L638.5 699.5 L635.4 698.0 L630.8 698.0 L627.7 699.5 L624.5 702.6 L623.0 707.3 L623.0 710.4 L624.5 715.1 L627.7 718.2 L630.8 719.8 L635.4 719.8 L638.5 718.2 L641.6 715.1M654.0 698.0 L654.0 719.8M654.0 704.2 L658.7 699.5 L661.8 698.0 L666.5 698.0 L669.6 699.5 L671.1 704.2 L671.1 719.8M671.1 704.2 L675.8 699.5 L678.9 698.0 L683.5 698.0 L686.6 699.5 L688.2 704.2 L688.2 719.8M700.6 698.0 L700.6 730.7M700.6 702.6 L703.7 699.5 L706.8 698.0 L711.5 698.0 L714.6 699.5 L717.7 702.6 L719.2 707.3 L719.2 710.4 L717.7 715.1 L714.6 718.2 L711.5 719.8 L706.8 719.8 L703.7 718.2 L700.6 715.1M730.1 687.0 L730.1 719.8M740.9 707.3 L759.6 707.3 L759.6 704.2 L758.0 701.1 L756.5 699.5 L753.4 698.0 L748.7 698.0 L745.6 699.5 L742.5 702.6 L740.9 707.3 L740.9 710.4 L742.5 715.1 L745.6 718.2 L748.7 719.8 L753.4 719.8 L756.5 718.2 L759.6 715.1M786.0 702.6 L784.4 699.5 L779.7 698.0 L775.1 698.0 L770.4 699.5 L768.9 702.6 L770.4 705.8 L773.5 707.3 L781.3 708.9 L784.4 710.4 L786.0 713.6 L786.0 715.1 L784.4 718.2 L779.7 719.8 L775.1 719.8 L770.4 718.2 L768.9 715.1M831.0 687.0 L827.9 687.0 L824.8 688.6 L823.2 693.3 L823.2 719.8M818.5 698.0 L829.4 698.0M846.5 698.0 L843.4 699.5 L840.3 702.6 L838.7 707.3 L838.7 710.4 L840.3 715.1 L843.4 718.2 L846.5 719.8 L851.1 719.8 L854.2 718.2 L857.3 715.1 L858.9 710.4 L858.9 707.3 L857.3 702.6 L854.2 699.5 L851.1 698.0ZM869.8 698.0 L869.8 719.8M869.8 707.3 L871.3 702.6 L874.4 699.5 L877.5 698.0 L882.2 698.0M914.8 687.0 L914.8 719.8M930.3 698.0 L914.8 713.6M921.0 707.3 L931.8 719.8M958.2 698.0 L958.2 719.8M958.2 702.6 L955.1 699.5 L952.0 698.0 L947.4 698.0 L944.3 699.5 L941.2 702.6 L939.6 707.3 L939.6 710.4 L941.2 715.1 L944.3 718.2 L947.4 719.8 L952.0 719.8 L955.1 718.2 L958.2 715.1M972.2 687.0 L972.2 713.6 L973.7 718.2 L976.9 719.8 L980.0 719.8M967.5 698.0 L978.4 698.0M1004.8 702.6 L1003.2 699.5 L998.6 698.0 L993.9 698.0 L989.3 699.5 L987.7 702.6 L989.3 705.8 L992.4 707.3 L1000.1 708.9 L1003.2 710.4 L1004.8 713.6 L1004.8 715.1 L1003.2 718.2 L998.6 719.8 L993.9 719.8 L989.3 718.2 L987.7 715.1M1032.7 702.6 L1029.6 699.5 L1026.5 698.0 L1021.9 698.0 L1018.8 699.5 L1015.7 702.6 L1014.1 707.3 L1014.1 710.4 L1015.7 715.1 L1018.8 718.2 L1021.9 719.8 L1026.5 719.8 L1029.6 718.2 L1032.7 715.1M1060.7 698.0 L1060.7 719.8M1060.7 702.6 L1057.6 699.5 L1054.5 698.0 L1049.8 698.0 L1046.7 699.5 L1043.6 702.6 L1042.0 707.3 L1042.0 710.4 L1043.6 715.1 L1046.7 718.2 L1049.8 719.8 L1054.5 719.8 L1057.6 718.2 L1060.7 715.1M1073.1 698.0 L1073.1 719.8M1073.1 704.2 L1077.7 699.5 L1080.8 698.0 L1085.5 698.0 L1088.6 699.5 L1090.1 704.2 L1090.1 719.8M1127.4 698.0 L1127.4 719.8M1127.4 704.2 L1132.1 699.5 L1135.2 698.0 L1139.8 698.0 L1142.9 699.5 L1144.5 704.2 L1144.5 719.8M1144.5 704.2 L1149.1 699.5 L1152.2 698.0 L1156.9 698.0 L1160.0 699.5 L1161.5 704.2 L1161.5 719.8M1174.0 698.0 L1174.0 730.7M1174.0 702.6 L1177.1 699.5 L1180.2 698.0 L1184.8 698.0 L1187.9 699.5 L1191.0 702.6 L1192.6 707.3 L1192.6 710.4 L1191.0 715.1 L1187.9 718.2 L1184.8 719.8 L1180.2 719.8 L1177.1 718.2 L1174.0 715.1M1201.9 687.0 L1203.4 688.6 L1205.0 687.0 L1203.4 685.5ZM1203.4 698.0 L1203.4 719.8M1215.9 698.0 L1215.9 719.8M1215.9 704.2 L1220.5 699.5 L1223.6 698.0 L1228.3 698.0 L1231.4 699.5 L1232.9 704.2 L1232.9 719.8M1262.4 702.6 L1259.3 699.5 L1256.2 698.0 L1251.6 698.0 L1248.5 699.5 L1245.3 702.6 L1243.8 707.3 L1243.8 710.4 L1245.3 715.1 L1248.5 718.2 L1251.6 719.8 L1256.2 719.8 L1259.3 718.2 L1262.4 715.1M1273.3 701.1 L1301.2 701.1M1273.3 710.4 L1301.2 710.4M1330.7 687.0 L1315.2 687.0 L1313.6 701.1 L1315.2 699.5 L1319.8 698.0 L1324.5 698.0 L1329.2 699.5 L1332.3 702.6 L1333.8 707.3 L1333.8 710.4 L1332.3 715.1 L1329.2 718.2 L1324.5 719.8 L1319.8 719.8 L1315.2 718.2 L1313.6 716.7 L1312.1 713.6M1369.5 687.0 L1369.5 719.8M1399.0 698.0 L1399.0 719.8M1399.0 702.6 L1395.9 699.5 L1392.8 698.0 L1388.1 698.0 L1385.0 699.5 L1381.9 702.6 L1380.4 707.3 L1380.4 710.4 L1381.9 715.1 L1385.0 718.2 L1388.1 719.8 L1392.8 719.8 L1395.9 718.2 L1399.0 715.1M1428.5 698.0 L1428.5 722.9 L1426.9 727.6 L1425.4 729.2 L1422.3 730.7 L1417.6 730.7 L1414.5 729.2M1428.5 702.6 L1425.4 699.5 L1422.3 698.0 L1417.6 698.0 L1414.5 699.5 L1411.4 702.6 L1409.9 707.3 L1409.9 710.4 L1411.4 715.1 L1414.5 718.2 L1417.6 719.8 L1422.3 719.8 L1425.4 718.2 L1428.5 715.1M1450.2 687.0 L1447.1 687.0 L1444.0 688.6 L1442.5 693.3 L1442.5 719.8M1437.8 698.0 L1448.7 698.0M1459.5 698.0 L1459.5 719.8M1459.5 707.3 L1461.1 702.6 L1464.2 699.5 L1467.3 698.0 L1471.9 698.0M1479.7 701.1 L1507.6 701.1M1479.7 710.4 L1507.6 710.4M1534.0 687.0 L1518.5 708.9 L1541.8 708.9M1534.0 687.0 L1534.0 719.8M1575.9 698.0 L1575.9 719.8M1575.9 704.2 L1580.6 699.5 L1583.7 698.0 L1588.3 698.0 L1591.4 699.5 L1593.0 704.2 L1593.0 719.8M1605.4 698.0 L1605.4 719.8M1605.4 707.3 L1607.0 702.6 L1610.1 699.5 L1613.2 698.0 L1617.8 698.0M1642.7 698.0 L1642.7 719.8M1642.7 702.6 L1639.6 699.5 L1636.5 698.0 L1631.8 698.0 L1628.7 699.5 L1625.6 702.6 L1624.0 707.3 L1624.0 710.4 L1625.6 715.1 L1628.7 718.2 L1631.8 719.8 L1636.5 719.8 L1639.6 718.2 L1642.7 715.1M1655.1 698.0 L1655.1 719.8M1655.1 704.2 L1659.7 699.5 L1662.8 698.0 L1667.5 698.0 L1670.6 699.5 L1672.1 704.2 L1672.1 719.8M1701.6 698.0 L1701.6 722.9 L1700.1 727.6 L1698.5 729.2 L1695.4 730.7 L1690.8 730.7 L1687.7 729.2M1701.6 702.6 L1698.5 699.5 L1695.4 698.0 L1690.8 698.0 L1687.7 699.5 L1684.6 702.6 L1683.0 707.3 L1683.0 710.4 L1684.6 715.1 L1687.7 718.2 L1690.8 719.8 L1695.4 719.8 L1698.5 718.2 L1701.6 715.1M1714.1 701.1 L1742.0 701.1M1714.1 710.4 L1742.0 710.4M1757.5 693.3 L1760.6 691.7 L1765.3 687.0 L1765.3 719.8M1793.2 687.0 L1788.5 688.6 L1785.4 693.3 L1783.9 701.1 L1783.9 705.8 L1785.4 713.6 L1788.5 718.2 L1793.2 719.8 L1796.3 719.8 L1801.0 718.2 L1804.1 713.6 L1805.6 705.8 L1805.6 701.1 L1804.1 693.3 L1801.0 688.6 L1796.3 687.0ZM1824.2 687.0 L1819.6 688.6 L1816.5 693.3 L1814.9 701.1 L1814.9 705.8 L1816.5 713.6 L1819.6 718.2 L1824.2 719.8 L1827.3 719.8 L1832.0 718.2 L1835.1 713.6 L1836.7 705.8 L1836.7 701.1 L1835.1 693.3 L1832.0 688.6 L1827.3 687.0ZM1872.4 698.0 L1872.4 719.8M1872.4 704.2 L1877.0 699.5 L1880.1 698.0 L1884.8 698.0 L1887.9 699.5 L1889.4 704.2 L1889.4 719.8M1901.8 687.0 L1901.8 719.8M1901.8 702.6 L1904.9 699.5 L1908.1 698.0 L1912.7 698.0 L1915.8 699.5 L1918.9 702.6 L1920.5 707.3 L1920.5 710.4 L1918.9 715.1 L1915.8 718.2 L1912.7 719.8 L1908.1 719.8 L1904.9 718.2 L1901.8 715.1M1931.3 687.0 L1931.3 719.8M1943.7 698.0 L1943.7 719.8M1943.7 704.2 L1948.4 699.5 L1951.5 698.0 L1956.2 698.0 L1959.3 699.5 L1960.8 704.2 L1960.8 719.8M1973.2 687.0 L1973.2 719.8M1988.8 698.0 L1973.2 713.6M1979.4 707.3 L1990.3 719.8M1999.6 701.1 L2027.6 701.1M1999.6 710.4 L2027.6 710.4M2040.0 694.8 L2040.0 693.3 L2041.5 690.2 L2043.1 688.6 L2046.2 687.0 L2052.4 687.0 L2055.5 688.6 L2057.0 690.2 L2058.6 693.3 L2058.6 696.4 L2057.0 699.5 L2053.9 704.2 L2038.4 719.8 L2060.1 719.8M531.3 1368.9 L531.3 1403.8M531.3 1403.8 L551.2 1403.8M577.7 1380.6 L577.7 1403.8M577.7 1385.5 L574.4 1382.2 L571.1 1380.6 L566.1 1380.6 L562.8 1382.2 L559.5 1385.5 L557.8 1390.5 L557.8 1393.8 L559.5 1398.8 L562.8 1402.1 L566.1 1403.8 L571.1 1403.8 L574.4 1402.1 L577.7 1398.8M609.2 1380.6 L609.2 1407.1 L607.5 1412.1 L605.8 1413.8 L602.5 1415.4 L597.6 1415.4 L594.3 1413.8M609.2 1385.5 L605.8 1382.2 L602.5 1380.6 L597.6 1380.6 L594.3 1382.2 L590.9 1385.5 L589.3 1390.5 L589.3 1393.8 L590.9 1398.8 L594.3 1402.1 L597.6 1403.8 L602.5 1403.8 L605.8 1402.1 L609.2 1398.8M650.6 1368.9 L650.6 1397.2 L652.2 1402.1 L655.5 1403.8 L658.8 1403.8M645.6 1380.6 L657.2 1380.6M687.0 1380.6 L687.0 1403.8M687.0 1385.5 L683.7 1382.2 L680.4 1380.6 L675.4 1380.6 L672.1 1382.2 L668.8 1385.5 L667.1 1390.5 L667.1 1393.8 L668.8 1398.8 L672.1 1402.1 L675.4 1403.8 L680.4 1403.8 L683.7 1402.1 L687.0 1398.8M700.2 1368.9 L700.2 1403.8M700.2 1385.5 L703.5 1382.2 L706.9 1380.6 L711.8 1380.6 L715.1 1382.2 L718.5 1385.5 L720.1 1390.5 L720.1 1393.8 L718.5 1398.8 L715.1 1402.1 L711.8 1403.8 L706.9 1403.8 L703.5 1402.1 L700.2 1398.8M731.7 1368.9 L731.7 1403.8M743.3 1390.5 L763.2 1390.5 L763.2 1387.2 L761.5 1383.9 L759.9 1382.2 L756.5 1380.6 L751.6 1380.6 L748.3 1382.2 L744.9 1385.5 L743.3 1390.5 L743.3 1393.8 L744.9 1398.8 L748.3 1402.1 L751.6 1403.8 L756.5 1403.8 L759.9 1402.1 L763.2 1398.8M811.2 1368.9 L807.9 1368.9 L804.6 1370.6 L802.9 1375.6 L802.9 1403.8M797.9 1380.6 L809.5 1380.6M827.7 1380.6 L824.4 1382.2 L821.1 1385.5 L819.5 1390.5 L819.5 1393.8 L821.1 1398.8 L824.4 1402.1 L827.7 1403.8 L832.7 1403.8 L836.0 1402.1 L839.3 1398.8 L841.0 1393.8 L841.0 1390.5 L839.3 1385.5 L836.0 1382.2 L832.7 1380.6ZM852.6 1380.6 L852.6 1403.8M852.6 1390.5 L854.2 1385.5 L857.6 1382.2 L860.9 1380.6 L865.8 1380.6M900.6 1368.9 L900.6 1403.8M917.2 1380.6 L900.6 1397.2M907.2 1390.5 L918.8 1403.8M947.0 1380.6 L947.0 1403.8M947.0 1385.5 L943.7 1382.2 L940.4 1380.6 L935.4 1380.6 L932.1 1382.2 L928.8 1385.5 L927.1 1390.5 L927.1 1393.8 L928.8 1398.8 L932.1 1402.1 L935.4 1403.8 L940.4 1403.8 L943.7 1402.1 L947.0 1398.8M961.9 1368.9 L961.9 1397.2 L963.5 1402.1 L966.9 1403.8 L970.2 1403.8M956.9 1380.6 L968.5 1380.6M996.7 1385.5 L995.0 1382.2 L990.0 1380.6 L985.1 1380.6 L980.1 1382.2 L978.4 1385.5 L980.1 1388.9 L983.4 1390.5 L991.7 1392.2 L995.0 1393.8 L996.7 1397.2 L996.7 1398.8 L995.0 1402.1 L990.0 1403.8 L985.1 1403.8 L980.1 1402.1 L978.4 1398.8M1026.5 1385.5 L1023.2 1382.2 L1019.8 1380.6 L1014.9 1380.6 L1011.6 1382.2 L1008.3 1385.5 L1006.6 1390.5 L1006.6 1393.8 L1008.3 1398.8 L1011.6 1402.1 L1014.9 1403.8 L1019.8 1403.8 L1023.2 1402.1 L1026.5 1398.8M1056.3 1380.6 L1056.3 1403.8M1056.3 1385.5 L1053.0 1382.2 L1049.7 1380.6 L1044.7 1380.6 L1041.4 1382.2 L1038.1 1385.5 L1036.4 1390.5 L1036.4 1393.8 L1038.1 1398.8 L1041.4 1402.1 L1044.7 1403.8 L1049.7 1403.8 L1053.0 1402.1 L1056.3 1398.8M1069.5 1380.6 L1069.5 1403.8M1069.5 1387.2 L1074.5 1382.2 L1077.8 1380.6 L1082.8 1380.6 L1086.1 1382.2 L1087.7 1387.2 L1087.7 1403.8M1127.5 1380.6 L1127.5 1403.8M1127.5 1387.2 L1132.5 1382.2 L1135.8 1380.6 L1140.7 1380.6 L1144.0 1382.2 L1145.7 1387.2 L1145.7 1403.8M1145.7 1387.2 L1150.7 1382.2 L1154.0 1380.6 L1158.9 1380.6 L1162.3 1382.2 L1163.9 1387.2 L1163.9 1403.8M1177.2 1380.6 L1177.2 1415.4M1177.2 1385.5 L1180.5 1382.2 L1183.8 1380.6 L1188.8 1380.6 L1192.1 1382.2 L1195.4 1385.5 L1197.0 1390.5 L1197.0 1393.8 L1195.4 1398.8 L1192.1 1402.1 L1188.8 1403.8 L1183.8 1403.8 L1180.5 1402.1 L1177.2 1398.8M1207.0 1368.9 L1208.6 1370.6 L1210.3 1368.9 L1208.6 1367.3ZM1208.6 1380.6 L1208.6 1403.8M1221.9 1380.6 L1221.9 1403.8M1221.9 1387.2 L1226.8 1382.2 L1230.2 1380.6 L1235.1 1380.6 L1238.4 1382.2 L1240.1 1387.2 L1240.1 1403.8M1271.6 1385.5 L1268.2 1382.2 L1264.9 1380.6 L1260.0 1380.6 L1256.7 1382.2 L1253.3 1385.5 L1251.7 1390.5 L1251.7 1393.8 L1253.3 1398.8 L1256.7 1402.1 L1260.0 1403.8 L1264.9 1403.8 L1268.2 1402.1 L1271.6 1398.8M1283.1 1383.9 L1313.0 1383.9M1283.1 1393.8 L1313.0 1393.8M1344.4 1368.9 L1327.9 1368.9 L1326.2 1383.9 L1327.9 1382.2 L1332.8 1380.6 L1337.8 1380.6 L1342.8 1382.2 L1346.1 1385.5 L1347.7 1390.5 L1347.7 1393.8 L1346.1 1398.8 L1342.8 1402.1 L1337.8 1403.8 L1332.8 1403.8 L1327.9 1402.1 L1326.2 1400.5 L1324.5 1397.2M1385.8 1368.9 L1385.8 1403.8M1417.3 1380.6 L1417.3 1403.8M1417.3 1385.5 L1414.0 1382.2 L1410.7 1380.6 L1405.7 1380.6 L1402.4 1382.2 L1399.1 1385.5 L1397.4 1390.5 L1397.4 1393.8 L1399.1 1398.8 L1402.4 1402.1 L1405.7 1403.8 L1410.7 1403.8 L1414.0 1402.1 L1417.3 1398.8M1448.7 1380.6 L1448.7 1407.1 L1447.1 1412.1 L1445.4 1413.8 L1442.1 1415.4 L1437.2 1415.4 L1433.8 1413.8M1448.7 1385.5 L1445.4 1382.2 L1442.1 1380.6 L1437.2 1380.6 L1433.8 1382.2 L1430.5 1385.5 L1428.9 1390.5 L1428.9 1393.8 L1430.5 1398.8 L1433.8 1402.1 L1437.2 1403.8 L1442.1 1403.8 L1445.4 1402.1 L1448.7 1398.8M1471.9 1368.9 L1468.6 1368.9 L1465.3 1370.6 L1463.7 1375.6 L1463.7 1403.8M1458.7 1380.6 L1470.3 1380.6M1481.9 1380.6 L1481.9 1403.8M1481.9 1390.5 L1483.5 1385.5 L1486.8 1382.2 L1490.1 1380.6 L1495.1 1380.6M1503.4 1383.9 L1533.2 1383.9M1503.4 1393.8 L1533.2 1393.8M1561.4 1368.9 L1544.8 1392.2 L1569.6 1392.2M1561.4 1368.9 L1561.4 1403.8M1606.1 1380.6 L1606.1 1403.8M1606.1 1387.2 L1611.0 1382.2 L1614.3 1380.6 L1619.3 1380.6 L1622.6 1382.2 L1624.3 1387.2 L1624.3 1403.8M1637.5 1380.6 L1637.5 1403.8M1637.5 1390.5 L1639.2 1385.5 L1642.5 1382.2 L1645.8 1380.6 L1650.8 1380.6M1677.3 1380.6 L1677.3 1403.8M1677.3 1385.5 L1674.0 1382.2 L1670.7 1380.6 L1665.7 1380.6 L1662.4 1382.2 L1659.1 1385.5 L1657.4 1390.5 L1657.4 1393.8 L1659.1 1398.8 L1662.4 1402.1 L1665.7 1403.8 L1670.7 1403.8 L1674.0 1402.1 L1677.3 1398.8M1690.5 1380.6 L1690.5 1403.8M1690.5 1387.2 L1695.5 1382.2 L1698.8 1380.6 L1703.8 1380.6 L1707.1 1382.2 L1708.7 1387.2 L1708.7 1403.8M1740.2 1380.6 L1740.2 1407.1 L1738.5 1412.1 L1736.9 1413.8 L1733.6 1415.4 L1728.6 1415.4 L1725.3 1413.8M1740.2 1385.5 L1736.9 1382.2 L1733.6 1380.6 L1728.6 1380.6 L1725.3 1382.2 L1722.0 1385.5 L1720.3 1390.5 L1720.3 1393.8 L1722.0 1398.8 L1725.3 1402.1 L1728.6 1403.8 L1733.6 1403.8 L1736.9 1402.1 L1740.2 1398.8M1753.5 1383.9 L1783.3 1383.9M1753.5 1393.8 L1783.3 1393.8M1799.8 1375.6 L1803.1 1373.9 L1808.1 1368.9 L1808.1 1403.8M1837.9 1368.9 L1832.9 1370.6 L1829.6 1375.6 L1828.0 1383.9 L1828.0 1388.9 L1829.6 1397.2 L1832.9 1402.1 L1837.9 1403.8 L1841.2 1403.8 L1846.2 1402.1 L1849.5 1397.2 L1851.2 1388.9 L1851.2 1383.9 L1849.5 1375.6 L1846.2 1370.6 L1841.2 1368.9ZM1871.0 1368.9 L1866.1 1370.6 L1862.7 1375.6 L1861.1 1383.9 L1861.1 1388.9 L1862.7 1397.2 L1866.1 1402.1 L1871.0 1403.8 L1874.3 1403.8 L1879.3 1402.1 L1882.6 1397.2 L1884.3 1388.9 L1884.3 1383.9 L1882.6 1375.6 L1879.3 1370.6 L1874.3 1368.9ZM1922.4 1380.6 L1922.4 1403.8M1922.4 1387.2 L1927.3 1382.2 L1930.6 1380.6 L1935.6 1380.6 L1938.9 1382.2 L1940.6 1387.2 L1940.6 1403.8M1953.8 1368.9 L1953.8 1403.8M1953.8 1385.5 L1957.1 1382.2 L1960.5 1380.6 L1965.4 1380.6 L1968.7 1382.2 L1972.0 1385.5 L1973.7 1390.5 L1973.7 1393.8 L1972.0 1398.8 L1968.7 1402.1 L1965.4 1403.8 L1960.5 1403.8 L1957.1 1402.1 L1953.8 1398.8M1985.3 1368.9 L1985.3 1403.8M1998.5 1380.6 L1998.5 1403.8M1998.5 1387.2 L2003.5 1382.2 L2006.8 1380.6 L2011.8 1380.6 L2015.1 1382.2 L2016.8 1387.2 L2016.8 1403.8M2030.0 1368.9 L2030.0 1403.8M2046.6 1380.6 L2030.0 1397.2M2036.6 1390.5 L2048.2 1403.8M2058.2 1383.9 L2088.0 1383.9M2058.2 1393.8 L2088.0 1393.8M2101.2 1377.2 L2101.2 1375.6 L2102.9 1372.3 L2104.5 1370.6 L2107.8 1368.9 L2114.5 1368.9 L2117.8 1370.6 L2119.4 1372.3 L2121.1 1375.6 L2121.1 1378.9 L2119.4 1382.2 L2116.1 1387.2 L2099.6 1403.8 L2122.7 1403.8" fill="none" stroke="#000" stroke-width="4.80" shape-rendering="crispEdges" stroke-linecap="butt" stroke-linejoin="miter" stroke-miterlimit="2"/>
<path d="M42.9 572.3 L39.1 573.5 L36.6 577.2 L35.4 583.5 L35.4 587.2 L36.6 593.4 L39.1 597.2 L42.9 598.4 L45.3 598.4 L49.1 597.2 L51.6 593.4 L52.8 587.2 L52.8 583.5 L51.6 577.2 L49.1 573.5 L45.3 572.3ZM439.9 572.3 L427.5 572.3 L426.2 583.5 L427.5 582.2 L431.2 581.0 L434.9 581.0 L438.7 582.2 L441.2 584.7 L442.4 588.4 L442.4 590.9 L441.2 594.7 L438.7 597.2 L434.9 598.4 L431.2 598.4 L427.5 597.2 L426.2 595.9 L425.0 593.4M457.3 572.3 L453.6 573.5 L451.1 577.2 L449.9 583.5 L449.9 587.2 L451.1 593.4 L453.6 597.2 L457.3 598.4 L459.8 598.4 L463.6 597.2 L466.1 593.4 L467.3 587.2 L467.3 583.5 L466.1 577.2 L463.6 573.5 L459.8 572.3ZM818.3 577.2 L820.8 576.0 L824.5 572.3 L824.5 598.4M846.9 572.3 L843.2 573.5 L840.7 577.2 L839.5 583.5 L839.5 587.2 L840.7 593.4 L843.2 597.2 L846.9 598.4 L849.4 598.4 L853.2 597.2 L855.7 593.4 L856.9 587.2 L856.9 583.5 L855.7 577.2 L853.2 573.5 L849.4 572.3ZM871.8 572.3 L868.1 573.5 L865.6 577.2 L864.4 583.5 L864.4 587.2 L865.6 593.4 L868.1 597.2 L871.8 598.4 L874.3 598.4 L878.1 597.2 L880.6 593.4 L881.8 587.2 L881.8 583.5 L880.6 577.2 L878.1 573.5 L874.3 572.3ZM1220.3 577.2 L1222.8 576.0 L1226.6 572.3 L1226.6 598.4M1256.4 572.3 L1244.0 572.3 L1242.8 583.5 L1244.0 582.2 L1247.7 581.0 L1251.5 581.0 L1255.2 582.2 L1257.7 584.7 L1258.9 588.4 L1258.9 590.9 L1257.7 594.7 L1255.2 597.2 L1251.5 598.4 L1247.7 598.4 L1244.0 597.2 L1242.8 595.9 L1241.5 593.4M1273.9 572.3 L1270.1 573.5 L1267.7 577.2 L1266.4 583.5 L1266.4 587.2 L1267.7 593.4 L1270.1 597.2 L1273.9 598.4 L1276.4 598.4 L1280.1 597.2 L1282.6 593.4 L1283.8 587.2 L1283.8 583.5 L1282.6 577.2 L1280.1 573.5 L1276.4 572.3ZM1619.9 578.5 L1619.9 577.2 L1621.1 574.7 L1622.4 573.5 L1624.9 572.3 L1629.9 572.3 L1632.3 573.5 L1633.6 574.7 L1634.8 577.2 L1634.8 579.7 L1633.6 582.2 L1631.1 585.9 L1618.6 598.4 L1636.1 598.4M1651.0 572.3 L1647.3 573.5 L1644.8 577.2 L1643.5 583.5 L1643.5 587.2 L1644.8 593.4 L1647.3 597.2 L1651.0 598.4 L1653.5 598.4 L1657.2 597.2 L1659.7 593.4 L1661.0 587.2 L1661.0 583.5 L1659.7 577.2 L1657.2 573.5 L1653.5 572.3ZM1675.9 572.3 L1672.2 573.5 L1669.7 577.2 L1668.4 583.5 L1668.4 587.2 L1669.7 593.4 L1672.2 597.2 L1675.9 598.4 L1678.4 598.4 L1682.1 597.2 L1684.6 593.4 L1685.9 587.2 L1685.9 583.5 L1684.6 577.2 L1682.1 573.5 L1678.4 572.3ZM2021.9 578.5 L2021.9 577.2 L2023.2 574.7 L2024.4 573.5 L2026.9 572.3 L2031.9 572.3 L2034.4 573.5 L2035.6 574.7 L2036.9 577.2 L2036.9 579.7 L2035.6 582.2 L2033.1 585.9 L2020.7 598.4 L2038.1 598.4M2060.5 572.3 L2048.1 572.3 L2046.8 583.5 L2048.1 582.2 L2051.8 581.0 L2055.5 581.0 L2059.3 582.2 L2061.8 584.7 L2063.0 588.4 L2063.0 590.9 L2061.8 594.7 L2059.3 597.2 L2055.5 598.4 L2051.8 598.4 L2048.1 597.2 L2046.8 595.9 L2045.6 593.4M2078.0 572.3 L2074.2 573.5 L2071.7 577.2 L2070.5 583.5 L2070.5 587.2 L2071.7 593.4 L2074.2 597.2 L2078.0 598.4 L2080.4 598.4 L2084.2 597.2 L2086.7 593.4 L2087.9 587.2 L2087.9 583.5 L2086.7 577.2 L2084.2 573.5 L2080.4 572.3ZM2425.2 572.3 L2438.9 572.3 L2431.4 582.2 L2435.2 582.2 L2437.7 583.5 L2438.9 584.7 L2440.2 588.4 L2440.2 590.9 L2438.9 594.7 L2436.4 597.2 L2432.7 598.4 L2429.0 598.4 L2425.2 597.2 L2424.0 595.9 L2422.7 593.4M2455.1 572.3 L2451.4 573.5 L2448.9 577.2 L2447.6 583.5 L2447.6 587.2 L2448.9 593.4 L2451.4 597.2 L2455.1 598.4 L2457.6 598.4 L2461.3 597.2 L2463.8 593.4 L2465.1 587.2 L2465.1 583.5 L2463.8 577.2 L2461.3 573.5 L2457.6 572.3ZM2480.0 572.3 L2476.3 573.5 L2473.8 577.2 L2472.5 583.5 L2472.5 587.2 L2473.8 593.4 L2476.3 597.2 L2480.0 598.4 L2482.5 598.4 L2486.2 597.2 L2488.7 593.4 L2490.0 587.2 L2490.0 583.5 L2488.7 577.2 L2486.2 573.5 L2482.5 572.3ZM1183.3 620.4 L1183.3 641.5 L1184.6 645.3 L1187.1 646.5 L1189.5 646.5M1179.6 629.1 L1188.3 629.1M1195.8 620.4 L1197.0 621.6 L1198.3 620.4 L1197.0 619.1ZM1197.0 629.1 L1197.0 646.5M1207.0 629.1 L1207.0 646.5M1207.0 634.0 L1210.7 630.3 L1213.2 629.1 L1216.9 629.1 L1219.4 630.3 L1220.7 634.0 L1220.7 646.5M1220.7 634.0 L1224.4 630.3 L1226.9 629.1 L1230.6 629.1 L1233.1 630.3 L1234.4 634.0 L1234.4 646.5M1243.1 636.5 L1258.0 636.5 L1258.0 634.0 L1256.8 631.6 L1255.5 630.3 L1253.0 629.1 L1249.3 629.1 L1246.8 630.3 L1244.3 632.8 L1243.1 636.5 L1243.1 639.0 L1244.3 642.8 L1246.8 645.3 L1249.3 646.5 L1253.0 646.5 L1255.5 645.3 L1258.0 642.8M1295.4 615.4 L1292.9 617.9 L1290.4 621.6 L1287.9 626.6 L1286.7 632.8 L1286.7 637.8 L1287.9 644.0 L1290.4 649.0 L1292.9 652.7 L1295.4 655.2M1316.5 632.8 L1315.3 630.3 L1311.6 629.1 L1307.8 629.1 L1304.1 630.3 L1302.8 632.8 L1304.1 635.3 L1306.6 636.5 L1312.8 637.8 L1315.3 639.0 L1316.5 641.5 L1316.5 642.8 L1315.3 645.3 L1311.6 646.5 L1307.8 646.5 L1304.1 645.3 L1302.8 642.8M1338.9 629.1 L1338.9 646.5M1338.9 632.8 L1336.5 630.3 L1334.0 629.1 L1330.2 629.1 L1327.7 630.3 L1325.3 632.8 L1324.0 636.5 L1324.0 639.0 L1325.3 642.8 L1327.7 645.3 L1330.2 646.5 L1334.0 646.5 L1336.5 645.3 L1338.9 642.8M1348.9 629.1 L1348.9 646.5M1348.9 634.0 L1352.6 630.3 L1355.1 629.1 L1358.9 629.1 L1361.4 630.3 L1362.6 634.0 L1362.6 646.5M1362.6 634.0 L1366.3 630.3 L1368.8 629.1 L1372.6 629.1 L1375.1 630.3 L1376.3 634.0 L1376.3 646.5M1386.3 629.1 L1386.3 655.2M1386.3 632.8 L1388.8 630.3 L1391.2 629.1 L1395.0 629.1 L1397.5 630.3 L1400.0 632.8 L1401.2 636.5 L1401.2 639.0 L1400.0 642.8 L1397.5 645.3 L1395.0 646.5 L1391.2 646.5 L1388.8 645.3 L1386.3 642.8M1409.9 620.4 L1409.9 646.5M1418.6 636.5 L1433.6 636.5 L1433.6 634.0 L1432.3 631.6 L1431.1 630.3 L1428.6 629.1 L1424.9 629.1 L1422.4 630.3 L1419.9 632.8 L1418.6 636.5 L1418.6 639.0 L1419.9 642.8 L1422.4 645.3 L1424.9 646.5 L1428.6 646.5 L1431.1 645.3 L1433.6 642.8M1454.7 632.8 L1453.5 630.3 L1449.8 629.1 L1446.0 629.1 L1442.3 630.3 L1441.0 632.8 L1442.3 635.3 L1444.8 636.5 L1451.0 637.8 L1453.5 639.0 L1454.7 641.5 L1454.7 642.8 L1453.5 645.3 L1449.8 646.5 L1446.0 646.5 L1442.3 645.3 L1441.0 642.8M1462.2 615.4 L1464.7 617.9 L1467.2 621.6 L1469.7 626.6 L1470.9 632.8 L1470.9 637.8 L1469.7 644.0 L1467.2 649.0 L1464.7 652.7 L1462.2 655.2M50.7 159.6 L47.0 160.9 L44.5 164.7 L43.2 171.1 L43.2 174.9 L44.5 181.2 L47.0 185.0 L50.7 186.3 L53.2 186.3 L56.9 185.0 L59.4 181.2 L60.7 174.9 L60.7 171.1 L59.4 164.7 L56.9 160.9 L53.2 159.6ZM597.4 120.0 L599.9 118.7 L603.6 114.9 L603.6 141.6M631.0 114.9 L618.5 132.7 L637.2 132.7M631.0 114.9 L631.0 141.6M916.5 166.0 L916.5 164.7 L917.8 162.2 L919.0 160.9 L921.5 159.6 L926.5 159.6 L929.0 160.9 L930.2 162.2 L931.4 164.7 L931.4 167.2 L930.2 169.8 L927.7 173.6 L915.3 186.3 L932.7 186.3M941.4 166.0 L941.4 164.7 L942.7 162.2 L943.9 160.9 L946.4 159.6 L951.4 159.6 L953.9 160.9 L955.1 162.2 L956.3 164.7 L956.3 167.2 L955.1 169.8 L952.6 173.6 L940.2 186.3 L957.6 186.3M996.9 121.3 L996.9 120.0 L998.2 117.5 L999.4 116.2 L1001.9 114.9 L1006.9 114.9 L1009.4 116.2 L1010.6 117.5 L1011.9 120.0 L1011.9 122.5 L1010.6 125.1 L1008.1 128.9 L995.7 141.6 L1013.1 141.6M1033.0 114.9 L1020.6 132.7 L1039.2 132.7M1033.0 114.9 L1033.0 141.6M1117.5 166.0 L1117.5 164.7 L1118.8 162.2 L1120.0 160.9 L1122.5 159.6 L1127.5 159.6 L1130.0 160.9 L1131.2 162.2 L1132.5 164.7 L1132.5 167.2 L1131.2 169.8 L1128.7 173.6 L1116.3 186.3 L1133.7 186.3M1158.6 159.6 L1146.2 186.3M1141.2 159.6 L1158.6 159.6M1279.6 114.9 L1293.3 114.9 L1285.8 125.1 L1289.5 125.1 L1292.0 126.4 L1293.3 127.6 L1294.5 131.4 L1294.5 134.0 L1293.3 137.8 L1290.8 140.3 L1287.1 141.6 L1283.3 141.6 L1279.6 140.3 L1278.3 139.1 L1277.1 136.5M1305.7 120.0 L1308.2 118.7 L1312.0 114.9 L1312.0 141.6M1731.8 159.6 L1719.3 177.4 L1738.0 177.4M1731.8 159.6 L1731.8 186.3M1745.5 166.0 L1745.5 164.7 L1746.7 162.2 L1748.0 160.9 L1750.5 159.6 L1755.4 159.6 L1757.9 160.9 L1759.2 162.2 L1760.4 164.7 L1760.4 167.2 L1759.2 169.8 L1756.7 173.6 L1744.2 186.3 L1761.7 186.3M1772.0 114.9 L1759.5 132.7 L1778.2 132.7M1772.0 114.9 L1772.0 141.6M1786.9 114.9 L1800.6 114.9 L1793.2 125.1 L1796.9 125.1 L1799.4 126.4 L1800.6 127.6 L1801.9 131.4 L1801.9 134.0 L1800.6 137.8 L1798.1 140.3 L1794.4 141.6 L1790.7 141.6 L1786.9 140.3 L1785.7 139.1 L1784.4 136.5M42.9 1254.3 L39.1 1255.5 L36.6 1259.2 L35.4 1265.5 L35.4 1269.2 L36.6 1275.4 L39.1 1279.2 L42.9 1280.4 L45.3 1280.4 L49.1 1279.2 L51.6 1275.4 L52.8 1269.2 L52.8 1265.5 L51.6 1259.2 L49.1 1255.5 L45.3 1254.3ZM439.9 1254.3 L427.5 1254.3 L426.2 1265.5 L427.5 1264.2 L431.2 1263.0 L434.9 1263.0 L438.7 1264.2 L441.2 1266.7 L442.4 1270.4 L442.4 1272.9 L441.2 1276.7 L438.7 1279.2 L434.9 1280.4 L431.2 1280.4 L427.5 1279.2 L426.2 1277.9 L425.0 1275.4M457.3 1254.3 L453.6 1255.5 L451.1 1259.2 L449.9 1265.5 L449.9 1269.2 L451.1 1275.4 L453.6 1279.2 L457.3 1280.4 L459.8 1280.4 L463.6 1279.2 L466.1 1275.4 L467.3 1269.2 L467.3 1265.5 L466.1 1259.2 L463.6 1255.5 L459.8 1254.3ZM818.3 1259.2 L820.8 1258.0 L824.5 1254.3 L824.5 1280.4M846.9 1254.3 L843.2 1255.5 L840.7 1259.2 L839.5 1265.5 L839.5 1269.2 L840.7 1275.4 L843.2 1279.2 L846.9 1280.4 L849.4 1280.4 L853.2 1279.2 L855.7 1275.4 L856.9 1269.2 L856.9 1265.5 L855.7 1259.2 L853.2 1255.5 L849.4 1254.3ZM871.8 1254.3 L868.1 1255.5 L865.6 1259.2 L864.4 1265.5 L864.4 1269.2 L865.6 1275.4 L868.1 1279.2 L871.8 1280.4 L874.3 1280.4 L878.1 1279.2 L880.6 1275.4 L881.8 1269.2 L881.8 1265.5 L880.6 1259.2 L878.1 1255.5 L874.3 1254.3ZM1220.3 1259.2 L1222.8 1258.0 L1226.6 1254.3 L1226.6 1280.4M1256.4 1254.3 L1244.0 1254.3 L1242.8 1265.5 L1244.0 1264.2 L1247.7 1263.0 L1251.5 1263.0 L1255.2 1264.2 L1257.7 1266.7 L1258.9 1270.4 L1258.9 1272.9 L1257.7 1276.7 L1255.2 1279.2 L1251.5 1280.4 L1247.7 1280.4 L1244.0 1279.2 L1242.8 1277.9 L1241.5 1275.4M1273.9 1254.3 L1270.1 1255.5 L1267.7 1259.2 L1266.4 1265.5 L1266.4 1269.2 L1267.7 1275.4 L1270.1 1279.2 L1273.9 1280.4 L1276.4 1280.4 L1280.1 1279.2 L1282.6 1275.4 L1283.8 1269.2 L1283.8 1265.5 L1282.6 1259.2 L1280.1 1255.5 L1276.4 1254.3ZM1619.9 1260.5 L1619.9 1259.2 L1621.1 1256.7 L1622.4 1255.5 L1624.9 1254.3 L1629.9 1254.3 L1632.3 1255.5 L1633.6 1256.7 L1634.8 1259.2 L1634.8 1261.7 L1633.6 1264.2 L1631.1 1268.0 L1618.6 1280.4 L1636.1 1280.4M1651.0 1254.3 L1647.3 1255.5 L1644.8 1259.2 L1643.5 1265.5 L1643.5 1269.2 L1644.8 1275.4 L1647.3 1279.2 L1651.0 1280.4 L1653.5 1280.4 L1657.2 1279.2 L1659.7 1275.4 L1661.0 1269.2 L1661.0 1265.5 L1659.7 1259.2 L1657.2 1255.5 L1653.5 1254.3ZM1675.9 1254.3 L1672.2 1255.5 L1669.7 1259.2 L1668.4 1265.5 L1668.4 1269.2 L1669.7 1275.4 L1672.2 1279.2 L1675.9 1280.4 L1678.4 1280.4 L1682.1 1279.2 L1684.6 1275.4 L1685.9 1269.2 L1685.9 1265.5 L1684.6 1259.2 L1682.1 1255.5 L1678.4 1254.3ZM2021.9 1260.5 L2021.9 1259.2 L2023.2 1256.7 L2024.4 1255.5 L2026.9 1254.3 L2031.9 1254.3 L2034.4 1255.5 L2035.6 1256.7 L2036.9 1259.2 L2036.9 1261.7 L2035.6 1264.2 L2033.1 1268.0 L2020.7 1280.4 L2038.1 1280.4M2060.5 1254.3 L2048.1 1254.3 L2046.8 1265.5 L2048.1 1264.2 L2051.8 1263.0 L2055.5 1263.0 L2059.3 1264.2 L2061.8 1266.7 L2063.0 1270.4 L2063.0 1272.9 L2061.8 1276.7 L2059.3 1279.2 L2055.5 1280.4 L2051.8 1280.4 L2048.1 1279.2 L2046.8 1277.9 L2045.6 1275.4M2078.0 1254.3 L2074.2 1255.5 L2071.7 1259.2 L2070.5 1265.5 L2070.5 1269.2 L2071.7 1275.4 L2074.2 1279.2 L2078.0 1280.4 L2080.4 1280.4 L2084.2 1279.2 L2086.7 1275.4 L2087.9 1269.2 L2087.9 1265.5 L2086.7 1259.2 L2084.2 1255.5 L2080.4 1254.3ZM2425.2 1254.3 L2438.9 1254.3 L2431.4 1264.2 L2435.2 1264.2 L2437.7 1265.5 L2438.9 1266.7 L2440.2 1270.4 L2440.2 1272.9 L2438.9 1276.7 L2436.4 1279.2 L2432.7 1280.4 L2429.0 1280.4 L2425.2 1279.2 L2424.0 1277.9 L2422.7 1275.4M2455.1 1254.3 L2451.4 1255.5 L2448.9 1259.2 L2447.6 1265.5 L2447.6 1269.2 L2448.9 1275.4 L2451.4 1279.2 L2455.1 1280.4 L2457.6 1280.4 L2461.3 1279.2 L2463.8 1275.4 L2465.1 1269.2 L2465.1 1265.5 L2463.8 1259.2 L2461.3 1255.5 L2457.6 1254.3ZM2480.0 1254.3 L2476.3 1255.5 L2473.8 1259.2 L2472.5 1265.5 L2472.5 1269.2 L2473.8 1275.4 L2476.3 1279.2 L2480.0 1280.4 L2482.5 1280.4 L2486.2 1279.2 L2488.7 1275.4 L2490.0 1269.2 L2490.0 1265.5 L2488.7 1259.2 L2486.2 1255.5 L2482.5 1254.3ZM1183.3 1303.9 L1183.3 1325.0 L1184.6 1328.8 L1187.1 1330.0 L1189.5 1330.0M1179.6 1312.6 L1188.3 1312.6M1195.8 1303.9 L1197.0 1305.1 L1198.3 1303.9 L1197.0 1302.6ZM1197.0 1312.6 L1197.0 1330.0M1207.0 1312.6 L1207.0 1330.0M1207.0 1317.5 L1210.7 1313.8 L1213.2 1312.6 L1216.9 1312.6 L1219.4 1313.8 L1220.7 1317.5 L1220.7 1330.0M1220.7 1317.5 L1224.4 1313.8 L1226.9 1312.6 L1230.6 1312.6 L1233.1 1313.8 L1234.4 1317.5 L1234.4 1330.0M1243.1 1320.0 L1258.0 1320.0 L1258.0 1317.5 L1256.8 1315.1 L1255.5 1313.8 L1253.0 1312.6 L1249.3 1312.6 L1246.8 1313.8 L1244.3 1316.3 L1243.1 1320.0 L1243.1 1322.5 L1244.3 1326.3 L1246.8 1328.8 L1249.3 1330.0 L1253.0 1330.0 L1255.5 1328.8 L1258.0 1326.3M1295.4 1298.9 L1292.9 1301.4 L1290.4 1305.1 L1287.9 1310.1 L1286.7 1316.3 L1286.7 1321.3 L1287.9 1327.5 L1290.4 1332.5 L1292.9 1336.2 L1295.4 1338.7M1316.5 1316.3 L1315.3 1313.8 L1311.6 1312.6 L1307.8 1312.6 L1304.1 1313.8 L1302.8 1316.3 L1304.1 1318.8 L1306.6 1320.0 L1312.8 1321.3 L1315.3 1322.5 L1316.5 1325.0 L1316.5 1326.3 L1315.3 1328.8 L1311.6 1330.0 L1307.8 1330.0 L1304.1 1328.8 L1302.8 1326.3M1338.9 1312.6 L1338.9 1330.0M1338.9 1316.3 L1336.5 1313.8 L1334.0 1312.6 L1330.2 1312.6 L1327.7 1313.8 L1325.3 1316.3 L1324.0 1320.0 L1324.0 1322.5 L1325.3 1326.3 L1327.7 1328.8 L1330.2 1330.0 L1334.0 1330.0 L1336.5 1328.8 L1338.9 1326.3M1348.9 1312.6 L1348.9 1330.0M1348.9 1317.5 L1352.6 1313.8 L1355.1 1312.6 L1358.9 1312.6 L1361.4 1313.8 L1362.6 1317.5 L1362.6 1330.0M1362.6 1317.5 L1366.3 1313.8 L1368.8 1312.6 L1372.6 1312.6 L1375.1 1313.8 L1376.3 1317.5 L1376.3 1330.0M1386.3 1312.6 L1386.3 1338.7M1386.3 1316.3 L1388.8 1313.8 L1391.2 1312.6 L1395.0 1312.6 L1397.5 1313.8 L1400.0 1316.3 L1401.2 1320.0 L1401.2 1322.5 L1400.0 1326.3 L1397.5 1328.8 L1395.0 1330.0 L1391.2 1330.0 L1388.8 1328.8 L1386.3 1326.3M1409.9 1303.9 L1409.9 1330.0M1418.6 1320.0 L1433.6 1320.0 L1433.6 1317.5 L1432.3 1315.1 L1431.1 1313.8 L1428.6 1312.6 L1424.9 1312.6 L1422.4 1313.8 L1419.9 1316.3 L1418.6 1320.0 L1418.6 1322.5 L1419.9 1326.3 L1422.4 1328.8 L1424.9 1330.0 L1428.6 1330.0 L1431.1 1328.8 L1433.6 1326.3M1454.7 1316.3 L1453.5 1313.8 L1449.8 1312.6 L1446.0 1312.6 L1442.3 1313.8 L1441.0 1316.3 L1442.3 1318.8 L1444.8 1320.0 L1451.0 1321.3 L1453.5 1322.5 L1454.7 1325.0 L1454.7 1326.3 L1453.5 1328.8 L1449.8 1330.0 L1446.0 1330.0 L1442.3 1328.8 L1441.0 1326.3M1462.2 1298.9 L1464.7 1301.4 L1467.2 1305.1 L1469.7 1310.1 L1470.9 1316.3 L1470.9 1321.3 L1469.7 1327.5 L1467.2 1332.5 L1464.7 1336.2 L1462.2 1338.7M4.4 837.5 L4.4 878.2M4.4 837.5 L13.2 837.5M4.4 878.2 L13.2 878.2M28.1 842.6 L24.4 843.9 L21.9 847.7 L20.6 854.1 L20.6 857.9 L21.9 864.2 L24.4 868.0 L28.1 869.3 L30.6 869.3 L34.3 868.0 L36.8 864.2 L38.1 857.9 L38.1 854.1 L36.8 847.7 L34.3 843.9 L30.6 842.6ZM49.3 868.0 L48.0 869.3 L46.8 868.0 L48.0 866.8 L49.3 868.0 L49.3 870.6 L48.0 873.1 L46.8 874.4M61.7 847.7 L64.2 846.4 L67.9 842.6 L67.9 869.3M91.6 837.5 L91.6 878.2M82.9 837.5 L91.6 837.5M82.9 878.2 L91.6 878.2M542.4 793.5 L542.4 834.2M542.4 793.5 L551.1 793.5M542.4 834.2 L551.1 834.2M576.0 798.6 L563.6 825.3M558.6 798.6 L576.0 798.6M591.0 798.6 L587.2 799.9 L584.7 803.7 L583.5 810.1 L583.5 813.9 L584.7 820.2 L587.2 824.0 L591.0 825.3 L593.4 825.3 L597.2 824.0 L599.7 820.2 L600.9 813.9 L600.9 810.1 L599.7 803.7 L597.2 799.9 L593.4 798.6ZM612.1 824.0 L610.9 825.3 L609.6 824.0 L610.9 822.8 L612.1 824.0 L612.1 826.6 L610.9 829.1 L609.6 830.4M638.3 798.6 L625.8 825.3M620.8 798.6 L638.3 798.6M649.5 803.7 L652.0 802.4 L655.7 798.6 L655.7 825.3M679.4 793.5 L679.4 834.2M670.6 793.5 L679.4 793.5M670.6 834.2 L679.4 834.2M839.1 837.5 L839.1 878.2M839.1 837.5 L847.8 837.5M839.1 878.2 L847.8 878.2M859.1 847.7 L861.5 846.4 L865.3 842.6 L865.3 869.3M884.0 847.7 L886.4 846.4 L890.2 842.6 L890.2 869.3M912.6 842.6 L908.9 843.9 L906.4 847.7 L905.1 854.1 L905.1 857.9 L906.4 864.2 L908.9 868.0 L912.6 869.3 L915.1 869.3 L918.8 868.0 L921.3 864.2 L922.5 857.9 L922.5 854.1 L921.3 847.7 L918.8 843.9 L915.1 842.6ZM933.8 868.0 L932.5 869.3 L931.3 868.0 L932.5 866.8 L933.8 868.0 L933.8 870.6 L932.5 873.1 L931.3 874.4M946.2 847.7 L948.7 846.4 L952.4 842.6 L952.4 869.3M971.1 847.7 L973.6 846.4 L977.3 842.6 L977.3 869.3M996.0 847.7 L998.5 846.4 L1002.2 842.6 L1002.2 869.3M1025.9 837.5 L1025.9 878.2M1017.2 837.5 L1025.9 837.5M1017.2 878.2 L1025.9 878.2M919.5 793.5 L919.5 834.2M919.5 793.5 L928.3 793.5M919.5 834.2 L928.3 834.2M939.5 803.7 L942.0 802.4 L945.7 798.6 L945.7 825.3M961.9 805.0 L961.9 803.7 L963.1 801.2 L964.4 799.9 L966.9 798.6 L971.8 798.6 L974.3 799.9 L975.6 801.2 L976.8 803.7 L976.8 806.2 L975.6 808.8 L973.1 812.6 L960.6 825.3 L978.1 825.3M993.0 798.6 L989.3 799.9 L986.8 803.7 L985.5 810.1 L985.5 813.9 L986.8 820.2 L989.3 824.0 L993.0 825.3 L995.5 825.3 L999.2 824.0 L1001.7 820.2 L1003.0 813.9 L1003.0 810.1 L1001.7 803.7 L999.2 799.9 L995.5 798.6ZM1014.2 824.0 L1012.9 825.3 L1011.7 824.0 L1012.9 822.8 L1014.2 824.0 L1014.2 826.6 L1012.9 829.1 L1011.7 830.4M1026.6 803.7 L1029.1 802.4 L1032.8 798.6 L1032.8 825.3M1049.0 805.0 L1049.0 803.7 L1050.3 801.2 L1051.5 799.9 L1054.0 798.6 L1059.0 798.6 L1061.5 799.9 L1062.7 801.2 L1064.0 803.7 L1064.0 806.2 L1062.7 808.8 L1060.2 812.6 L1047.8 825.3 L1065.2 825.3M1076.4 803.7 L1078.9 802.4 L1082.6 798.6 L1082.6 825.3M1106.3 793.5 L1106.3 834.2M1097.6 793.5 L1106.3 793.5M1097.6 834.2 L1106.3 834.2M1040.2 837.5 L1040.2 878.2M1040.2 837.5 L1048.9 837.5M1040.2 878.2 L1048.9 878.2M1060.1 847.7 L1062.6 846.4 L1066.3 842.6 L1066.3 869.3M1083.7 842.6 L1097.4 842.6 L1090.0 852.8 L1093.7 852.8 L1096.2 854.1 L1097.4 855.3 L1098.7 859.1 L1098.7 861.7 L1097.4 865.5 L1094.9 868.0 L1091.2 869.3 L1087.5 869.3 L1083.7 868.0 L1082.5 866.8 L1081.2 864.2M1121.1 842.6 L1108.6 842.6 L1107.4 854.1 L1108.6 852.8 L1112.4 851.5 L1116.1 851.5 L1119.8 852.8 L1122.3 855.3 L1123.6 859.1 L1123.6 861.7 L1122.3 865.5 L1119.8 868.0 L1116.1 869.3 L1112.4 869.3 L1108.6 868.0 L1107.4 866.8 L1106.1 864.2M1134.8 868.0 L1133.5 869.3 L1132.3 868.0 L1133.5 866.8 L1134.8 868.0 L1134.8 870.6 L1133.5 873.1 L1132.3 874.4M1147.2 847.7 L1149.7 846.4 L1153.4 842.6 L1153.4 869.3M1170.9 842.6 L1184.6 842.6 L1177.1 852.8 L1180.8 852.8 L1183.3 854.1 L1184.6 855.3 L1185.8 859.1 L1185.8 861.7 L1184.6 865.5 L1182.1 868.0 L1178.3 869.3 L1174.6 869.3 L1170.9 868.0 L1169.6 866.8 L1168.4 864.2M1209.5 846.4 L1208.2 843.9 L1204.5 842.6 L1202.0 842.6 L1198.3 843.9 L1195.8 847.7 L1194.5 854.1 L1194.5 860.4 L1195.8 865.5 L1198.3 868.0 L1202.0 869.3 L1203.2 869.3 L1207.0 868.0 L1209.5 865.5 L1210.7 861.7 L1210.7 860.4 L1209.5 856.6 L1207.0 854.1 L1203.2 852.8 L1202.0 852.8 L1198.3 854.1 L1195.8 856.6 L1194.5 860.4M1226.9 837.5 L1226.9 878.2M1218.2 837.5 L1226.9 837.5M1218.2 878.2 L1226.9 878.2M1201.0 793.5 L1201.0 834.2M1201.0 793.5 L1209.7 793.5M1201.0 834.2 L1209.7 834.2M1220.9 803.7 L1223.4 802.4 L1227.1 798.6 L1227.1 825.3M1257.0 798.6 L1244.5 798.6 L1243.3 810.1 L1244.5 808.8 L1248.3 807.5 L1252.0 807.5 L1255.7 808.8 L1258.2 811.3 L1259.5 815.1 L1259.5 817.7 L1258.2 821.5 L1255.7 824.0 L1252.0 825.3 L1248.3 825.3 L1244.5 824.0 L1243.3 822.8 L1242.1 820.2M1281.9 798.6 L1269.4 798.6 L1268.2 810.1 L1269.4 808.8 L1273.2 807.5 L1276.9 807.5 L1280.6 808.8 L1283.1 811.3 L1284.4 815.1 L1284.4 817.7 L1283.1 821.5 L1280.6 824.0 L1276.9 825.3 L1273.2 825.3 L1269.4 824.0 L1268.2 822.8 L1267.0 820.2M1295.6 824.0 L1294.3 825.3 L1293.1 824.0 L1294.3 822.8 L1295.6 824.0 L1295.6 826.6 L1294.3 829.1 L1293.1 830.4M1308.0 803.7 L1310.5 802.4 L1314.3 798.6 L1314.3 825.3M1344.1 798.6 L1331.7 798.6 L1330.4 810.1 L1331.7 808.8 L1335.4 807.5 L1339.2 807.5 L1342.9 808.8 L1345.4 811.3 L1346.6 815.1 L1346.6 817.7 L1345.4 821.5 L1342.9 824.0 L1339.2 825.3 L1335.4 825.3 L1331.7 824.0 L1330.4 822.8 L1329.2 820.2M1370.3 802.4 L1369.0 799.9 L1365.3 798.6 L1362.8 798.6 L1359.1 799.9 L1356.6 803.7 L1355.3 810.1 L1355.3 816.4 L1356.6 821.5 L1359.1 824.0 L1362.8 825.3 L1364.1 825.3 L1367.8 824.0 L1370.3 821.5 L1371.5 817.7 L1371.5 816.4 L1370.3 812.6 L1367.8 810.1 L1364.1 808.8 L1362.8 808.8 L1359.1 810.1 L1356.6 812.6 L1355.3 816.4M1387.7 793.5 L1387.7 834.2M1379.0 793.5 L1387.7 793.5M1379.0 834.2 L1387.7 834.2M1643.2 837.5 L1643.2 878.2M1643.2 837.5 L1651.9 837.5M1643.2 878.2 L1651.9 878.2M1660.6 849.0 L1660.6 847.7 L1661.9 845.2 L1663.1 843.9 L1665.6 842.6 L1670.6 842.6 L1673.1 843.9 L1674.3 845.2 L1675.6 847.7 L1675.6 850.2 L1674.3 852.8 L1671.8 856.6 L1659.4 869.3 L1676.8 869.3M1688.0 847.7 L1690.5 846.4 L1694.3 842.6 L1694.3 869.3M1716.7 842.6 L1712.9 843.9 L1710.4 847.7 L1709.2 854.1 L1709.2 857.9 L1710.4 864.2 L1712.9 868.0 L1716.7 869.3 L1719.2 869.3 L1722.9 868.0 L1725.4 864.2 L1726.6 857.9 L1726.6 854.1 L1725.4 847.7 L1722.9 843.9 L1719.2 842.6ZM1737.8 868.0 L1736.6 869.3 L1735.3 868.0 L1736.6 866.8 L1737.8 868.0 L1737.8 870.6 L1736.6 873.1 L1735.3 874.4M1747.8 849.0 L1747.8 847.7 L1749.0 845.2 L1750.3 843.9 L1752.8 842.6 L1757.8 842.6 L1760.2 843.9 L1761.5 845.2 L1762.7 847.7 L1762.7 850.2 L1761.5 852.8 L1759.0 856.6 L1746.5 869.3 L1764.0 869.3M1775.2 847.7 L1777.7 846.4 L1781.4 842.6 L1781.4 869.3M1800.1 847.7 L1802.6 846.4 L1806.3 842.6 L1806.3 869.3M1830.0 837.5 L1830.0 878.2M1821.2 837.5 L1830.0 837.5M1821.2 878.2 L1830.0 878.2M1683.4 793.5 L1683.4 834.2M1683.4 793.5 L1692.1 793.5M1683.4 834.2 L1692.1 834.2M1700.8 805.0 L1700.8 803.7 L1702.1 801.2 L1703.3 799.9 L1705.8 798.6 L1710.8 798.6 L1713.3 799.9 L1714.5 801.2 L1715.8 803.7 L1715.8 806.2 L1714.5 808.8 L1712.1 812.6 L1699.6 825.3 L1717.0 825.3M1728.2 803.7 L1730.7 802.4 L1734.5 798.6 L1734.5 825.3M1764.3 798.6 L1751.9 798.6 L1750.6 810.1 L1751.9 808.8 L1755.6 807.5 L1759.4 807.5 L1763.1 808.8 L1765.6 811.3 L1766.8 815.1 L1766.8 817.7 L1765.6 821.5 L1763.1 824.0 L1759.4 825.3 L1755.6 825.3 L1751.9 824.0 L1750.6 822.8 L1749.4 820.2M1778.0 824.0 L1776.8 825.3 L1775.5 824.0 L1776.8 822.8 L1778.0 824.0 L1778.0 826.6 L1776.8 829.1 L1775.5 830.4M1788.0 805.0 L1788.0 803.7 L1789.2 801.2 L1790.5 799.9 L1793.0 798.6 L1798.0 798.6 L1800.4 799.9 L1801.7 801.2 L1802.9 803.7 L1802.9 806.2 L1801.7 808.8 L1799.2 812.6 L1786.8 825.3 L1804.2 825.3M1815.4 803.7 L1817.9 802.4 L1821.6 798.6 L1821.6 825.3M1852.7 802.4 L1851.5 799.9 L1847.8 798.6 L1845.3 798.6 L1841.5 799.9 L1839.0 803.7 L1837.8 810.1 L1837.8 816.4 L1839.0 821.5 L1841.5 824.0 L1845.3 825.3 L1846.5 825.3 L1850.2 824.0 L1852.7 821.5 L1854.0 817.7 L1854.0 816.4 L1852.7 812.6 L1850.2 810.1 L1846.5 808.8 L1845.3 808.8 L1841.5 810.1 L1839.0 812.6 L1837.8 816.4M1870.2 793.5 L1870.2 834.2M1861.5 793.5 L1870.2 793.5M1861.5 834.2 L1870.2 834.2M2090.6 753.6 L2090.6 794.3M2090.6 753.6 L2099.2 753.6M2090.6 794.3 L2099.2 794.3M2106.6 758.7 L2107.9 760.0 L2109.1 758.7 L2107.9 757.5ZM2107.9 767.6 L2107.9 785.4M2120.3 784.1 L2119.0 785.4 L2117.8 784.1 L2119.0 782.9 L2120.3 784.1 L2120.3 786.7 L2119.0 789.2 L2117.8 790.5M2131.4 758.7 L2132.6 760.0 L2133.9 758.7 L2132.6 757.5ZM2132.6 767.6 L2132.6 789.2 L2131.4 793.0 L2128.9 794.3 L2126.5 794.3M2150.0 753.6 L2150.0 794.3M2141.3 753.6 L2150.0 753.6M2141.3 794.3 L2150.0 794.3M2162.4 784.1 L2161.1 785.4 L2159.9 784.1 L2161.1 782.9 L2162.4 784.1 L2162.4 786.7 L2161.1 789.2 L2159.9 790.5M2192.1 774.0 L2214.4 774.0M2224.3 762.5 L2244.1 774.0 L2224.3 785.4M2273.8 758.7 L2273.8 785.4M2273.8 771.4 L2276.3 768.9 L2278.7 767.6 L2282.4 767.6 L2284.9 768.9 L2287.4 771.4 L2288.6 775.2 L2288.6 777.8 L2287.4 781.6 L2284.9 784.1 L2282.4 785.4 L2278.7 785.4 L2276.3 784.1 L2273.8 781.6M2297.3 758.7 L2297.3 785.4M2320.8 767.6 L2320.8 785.4M2320.8 771.4 L2318.3 768.9 L2315.9 767.6 L2312.2 767.6 L2309.7 768.9 L2307.2 771.4 L2306.0 775.2 L2306.0 777.8 L2307.2 781.6 L2309.7 784.1 L2312.2 785.4 L2315.9 785.4 L2318.3 784.1 L2320.8 781.6M2330.7 767.6 L2330.7 785.4M2330.7 772.7 L2334.4 768.9 L2336.9 767.6 L2340.6 767.6 L2343.1 768.9 L2344.3 772.7 L2344.3 785.4M2354.2 758.7 L2354.2 785.4M2366.6 767.6 L2354.2 780.3M2359.2 775.2 L2367.9 785.4M2374.1 775.2 L2388.9 775.2 L2388.9 772.7 L2387.7 770.2 L2386.4 768.9 L2384.0 767.6 L2380.2 767.6 L2377.8 768.9 L2375.3 771.4 L2374.1 775.2 L2374.1 777.8 L2375.3 781.6 L2377.8 784.1 L2380.2 785.4 L2384.0 785.4 L2386.4 784.1 L2388.9 781.6M2411.2 758.7 L2411.2 785.4M2411.2 771.4 L2408.7 768.9 L2406.2 767.6 L2402.5 767.6 L2400.1 768.9 L2397.6 771.4 L2396.3 775.2 L2396.3 777.8 L2397.6 781.6 L2400.1 784.1 L2402.5 785.4 L2406.2 785.4 L2408.7 784.1 L2411.2 781.6M2453.3 771.4 L2452.0 768.9 L2448.3 767.6 L2444.6 767.6 L2440.9 768.9 L2439.7 771.4 L2440.9 774.0 L2443.4 775.2 L2449.6 776.5 L2452.0 777.8 L2453.3 780.3 L2453.3 781.6 L2452.0 784.1 L2448.3 785.4 L2444.6 785.4 L2440.9 784.1 L2439.7 781.6M2475.6 767.6 L2475.6 785.4M2475.6 771.4 L2473.1 768.9 L2470.6 767.6 L2466.9 767.6 L2464.4 768.9 L2462.0 771.4 L2460.7 775.2 L2460.7 777.8 L2462.0 781.6 L2464.4 784.1 L2466.9 785.4 L2470.6 785.4 L2473.1 784.1 L2475.6 781.6M2485.5 767.6 L2485.5 785.4M2485.5 772.7 L2489.2 768.9 L2491.7 767.6 L2495.4 767.6 L2497.9 768.9 L2499.1 772.7 L2499.1 785.4M2499.1 772.7 L2502.8 768.9 L2505.3 767.6 L2509.0 767.6 L2511.5 768.9 L2512.7 772.7 L2512.7 785.4M2522.6 767.6 L2522.6 794.3M2522.6 771.4 L2525.1 768.9 L2527.6 767.6 L2531.3 767.6 L2533.8 768.9 L2536.2 771.4 L2537.5 775.2 L2537.5 777.8 L2536.2 781.6 L2533.8 784.1 L2531.3 785.4 L2527.6 785.4 L2525.1 784.1 L2522.6 781.6M2546.1 758.7 L2546.1 785.4M2554.8 775.2 L2569.7 775.2 L2569.7 772.7 L2568.4 770.2 L2567.2 768.9 L2564.7 767.6 L2561.0 767.6 L2558.5 768.9 L2556.0 771.4 L2554.8 775.2 L2554.8 777.8 L2556.0 781.6 L2558.5 784.1 L2561.0 785.4 L2564.7 785.4 L2567.2 784.1 L2569.7 781.6M2590.7 771.4 L2589.5 768.9 L2585.8 767.6 L2582.0 767.6 L2578.3 768.9 L2577.1 771.4 L2578.3 774.0 L2580.8 775.2 L2587.0 776.5 L2589.5 777.8 L2590.7 780.3 L2590.7 781.6 L2589.5 784.1 L2585.8 785.4 L2582.0 785.4 L2578.3 784.1 L2577.1 781.6M78.2 1494.3 L78.2 1529.2M78.2 1529.2 L98.2 1529.2M124.7 1506.0 L124.7 1529.2M124.7 1510.9 L121.4 1507.6 L118.1 1506.0 L113.1 1506.0 L109.8 1507.6 L106.5 1510.9 L104.8 1515.9 L104.8 1519.2 L106.5 1524.2 L109.8 1527.5 L113.1 1529.2 L118.1 1529.2 L121.4 1527.5 L124.7 1524.2M156.3 1506.0 L156.3 1532.5 L154.6 1537.5 L152.9 1539.2 L149.6 1540.8 L144.6 1540.8 L141.3 1539.2M156.3 1510.9 L152.9 1507.6 L149.6 1506.0 L144.6 1506.0 L141.3 1507.6 L138.0 1510.9 L136.3 1515.9 L136.3 1519.2 L138.0 1524.2 L141.3 1527.5 L144.6 1529.2 L149.6 1529.2 L152.9 1527.5 L156.3 1524.2M270.1 1494.3 L265.2 1496.0 L261.8 1501.0 L260.2 1509.3 L260.2 1514.3 L261.8 1522.6 L265.2 1527.5 L270.1 1529.2 L273.5 1529.2 L278.4 1527.5 L281.8 1522.6 L283.4 1514.3 L283.4 1509.3 L281.8 1501.0 L278.4 1496.0 L273.5 1494.3ZM463.2 1501.0 L466.5 1499.3 L471.5 1494.3 L471.5 1529.2M656.8 1502.6 L656.8 1501.0 L658.5 1497.7 L660.2 1496.0 L663.5 1494.3 L670.1 1494.3 L673.4 1496.0 L675.1 1497.7 L676.8 1501.0 L676.8 1504.3 L675.1 1507.6 L671.8 1512.6 L655.2 1529.2 L678.4 1529.2M855.5 1494.3 L873.8 1494.3 L863.8 1507.6 L868.8 1507.6 L872.1 1509.3 L873.8 1510.9 L875.4 1515.9 L875.4 1519.2 L873.8 1524.2 L870.4 1527.5 L865.5 1529.2 L860.5 1529.2 L855.5 1527.5 L853.8 1525.9 L852.2 1522.6M1066.8 1494.3 L1050.2 1517.6 L1075.1 1517.6M1066.8 1494.3 L1066.8 1529.2M1267.1 1494.3 L1250.5 1494.3 L1248.8 1509.3 L1250.5 1507.6 L1255.5 1506.0 L1260.5 1506.0 L1265.4 1507.6 L1268.8 1510.9 L1270.4 1515.9 L1270.4 1519.2 L1268.8 1524.2 L1265.4 1527.5 L1260.5 1529.2 L1255.5 1529.2 L1250.5 1527.5 L1248.8 1525.9 L1247.2 1522.6M1467.4 1494.3 L1450.8 1529.2M1444.2 1494.3 L1467.4 1494.3M1649.5 1494.3 L1644.5 1496.0 L1642.8 1499.3 L1642.8 1502.6 L1644.5 1506.0 L1647.8 1507.6 L1654.5 1509.3 L1659.4 1510.9 L1662.8 1514.3 L1664.4 1517.6 L1664.4 1522.6 L1662.8 1525.9 L1661.1 1527.5 L1656.1 1529.2 L1649.5 1529.2 L1644.5 1527.5 L1642.8 1525.9 L1641.2 1522.6 L1641.2 1517.6 L1642.8 1514.3 L1646.2 1510.9 L1651.1 1509.3 L1657.8 1507.6 L1661.1 1506.0 L1662.8 1502.6 L1662.8 1499.3 L1661.1 1496.0 L1656.1 1494.3ZM1860.8 1506.0 L1859.1 1510.9 L1855.8 1514.3 L1850.8 1515.9 L1849.1 1515.9 L1844.2 1514.3 L1840.8 1510.9 L1839.2 1506.0 L1839.2 1504.3 L1840.8 1499.3 L1844.2 1496.0 L1849.1 1494.3 L1850.8 1494.3 L1855.8 1496.0 L1859.1 1499.3 L1860.8 1506.0 L1860.8 1514.3 L1859.1 1522.6 L1855.8 1527.5 L1850.8 1529.2 L1847.5 1529.2 L1842.5 1527.5 L1840.8 1524.2M2041.2 1501.0 L2044.5 1499.3 L2049.5 1494.3 L2049.5 1529.2M2079.3 1494.3 L2074.4 1496.0 L2071.0 1501.0 L2069.4 1509.3 L2069.4 1514.3 L2071.0 1522.6 L2074.4 1527.5 L2079.3 1529.2 L2082.7 1529.2 L2087.6 1527.5 L2091.0 1522.6 L2092.6 1514.3 L2092.6 1509.3 L2091.0 1501.0 L2087.6 1496.0 L2082.7 1494.3ZM2238.2 1501.0 L2241.5 1499.3 L2246.5 1494.3 L2246.5 1529.2M2271.4 1501.0 L2274.7 1499.3 L2279.7 1494.3 L2279.7 1529.2M2436.2 1501.0 L2439.5 1499.3 L2444.5 1494.3 L2444.5 1529.2M2466.0 1502.6 L2466.0 1501.0 L2467.7 1497.7 L2469.4 1496.0 L2472.7 1494.3 L2479.3 1494.3 L2482.6 1496.0 L2484.3 1497.7 L2486.0 1501.0 L2486.0 1504.3 L2484.3 1507.6 L2481.0 1512.6 L2464.4 1529.2 L2487.6 1529.2M78.2 1620.6 L78.2 1655.5M78.2 1620.6 L93.2 1620.6 L98.2 1622.3 L99.8 1623.9 L101.5 1627.2 L101.5 1632.2 L99.8 1635.5 L98.2 1637.2 L93.2 1638.9 L78.2 1638.9M113.1 1632.2 L113.1 1648.8 L114.8 1653.8 L118.1 1655.5 L123.1 1655.5 L126.4 1653.8 L131.4 1648.8M131.4 1632.2 L131.4 1655.5M144.6 1620.6 L144.6 1655.5M174.5 1637.2 L172.9 1633.9 L167.9 1632.2 L162.9 1632.2 L157.9 1633.9 L156.3 1637.2 L157.9 1640.5 L161.2 1642.2 L169.5 1643.9 L172.9 1645.5 L174.5 1648.8 L174.5 1650.5 L172.9 1653.8 L167.9 1655.5 L162.9 1655.5 L157.9 1653.8 L156.3 1650.5M184.5 1642.2 L204.4 1642.2 L204.4 1638.9 L202.7 1635.5 L201.1 1633.9 L197.8 1632.2 L192.8 1632.2 L189.5 1633.9 L186.1 1637.2 L184.5 1642.2 L184.5 1645.5 L186.1 1650.5 L189.5 1653.8 L192.8 1655.5 L197.8 1655.5 L201.1 1653.8 L204.4 1650.5M232.6 1637.2 L231.0 1633.9 L226.0 1632.2 L221.0 1632.2 L216.0 1633.9 L214.4 1637.2 L216.0 1640.5 L219.3 1642.2 L227.6 1643.9 L231.0 1645.5 L232.6 1648.8 L232.6 1650.5 L231.0 1653.8 L226.0 1655.5 L221.0 1655.5 L216.0 1653.8 L214.4 1650.5M270.1 1620.6 L265.2 1622.3 L261.8 1627.2 L260.2 1635.5 L260.2 1640.5 L261.8 1648.8 L265.2 1653.8 L270.1 1655.5 L273.5 1655.5 L278.4 1653.8 L281.8 1648.8 L283.4 1640.5 L283.4 1635.5 L281.8 1627.2 L278.4 1622.3 L273.5 1620.6ZM298.4 1653.8 L296.7 1655.5 L295.0 1653.8 L296.7 1652.2 L298.4 1653.8 L298.4 1657.1 L296.7 1660.5 L295.0 1662.1M319.9 1620.6 L315.0 1622.3 L311.6 1627.2 L310.0 1635.5 L310.0 1640.5 L311.6 1648.8 L315.0 1653.8 L319.9 1655.5 L323.3 1655.5 L328.2 1653.8 L331.6 1648.8 L333.2 1640.5 L333.2 1635.5 L331.6 1627.2 L328.2 1622.3 L323.3 1620.6ZM474.8 1620.6 L458.2 1643.9 L483.1 1643.9M474.8 1620.6 L474.8 1655.5M493.0 1628.9 L493.0 1627.2 L494.7 1623.9 L496.4 1622.3 L499.7 1620.6 L506.3 1620.6 L509.6 1622.3 L511.3 1623.9 L513.0 1627.2 L513.0 1630.6 L511.3 1633.9 L508.0 1638.9 L491.4 1655.5 L514.6 1655.5M529.6 1653.8 L527.9 1655.5 L526.2 1653.8 L527.9 1652.2 L529.6 1653.8 L529.6 1657.1 L527.9 1660.5 L526.2 1662.1M557.8 1620.6 L541.2 1643.9 L566.1 1643.9M557.8 1620.6 L557.8 1655.5M577.7 1620.6 L596.0 1620.6 L586.0 1633.9 L591.0 1633.9 L594.3 1635.5 L596.0 1637.2 L597.6 1642.2 L597.6 1645.5 L596.0 1650.5 L592.6 1653.8 L587.7 1655.5 L582.7 1655.5 L577.7 1653.8 L576.0 1652.2 L574.4 1648.8M656.8 1628.9 L656.8 1627.2 L658.5 1623.9 L660.2 1622.3 L663.5 1620.6 L670.1 1620.6 L673.4 1622.3 L675.1 1623.9 L676.8 1627.2 L676.8 1630.6 L675.1 1633.9 L671.8 1638.9 L655.2 1655.5 L678.4 1655.5M690.0 1628.9 L690.0 1627.2 L691.7 1623.9 L693.4 1622.3 L696.7 1620.6 L703.3 1620.6 L706.6 1622.3 L708.3 1623.9 L710.0 1627.2 L710.0 1630.6 L708.3 1633.9 L705.0 1638.9 L688.4 1655.5 L711.6 1655.5M726.6 1653.8 L724.9 1655.5 L723.2 1653.8 L724.9 1652.2 L726.6 1653.8 L726.6 1657.1 L724.9 1660.5 L723.2 1662.1M739.8 1628.9 L739.8 1627.2 L741.5 1623.9 L743.2 1622.3 L746.5 1620.6 L753.1 1620.6 L756.4 1622.3 L758.1 1623.9 L759.8 1627.2 L759.8 1630.6 L758.1 1633.9 L754.8 1638.9 L738.2 1655.5 L761.4 1655.5M788.0 1620.6 L771.4 1643.9 L796.3 1643.9M788.0 1620.6 L788.0 1655.5M853.8 1628.9 L853.8 1627.2 L855.5 1623.9 L857.2 1622.3 L860.5 1620.6 L867.1 1620.6 L870.4 1622.3 L872.1 1623.9 L873.8 1627.2 L873.8 1630.6 L872.1 1633.9 L868.8 1638.9 L852.2 1655.5 L875.4 1655.5M902.0 1620.6 L885.4 1643.9 L910.3 1643.9M902.0 1620.6 L902.0 1655.5M923.6 1653.8 L921.9 1655.5 L920.2 1653.8 L921.9 1652.2 L923.6 1653.8 L923.6 1657.1 L921.9 1660.5 L920.2 1662.1M936.8 1628.9 L936.8 1627.2 L938.5 1623.9 L940.2 1622.3 L943.5 1620.6 L950.1 1620.6 L953.4 1622.3 L955.1 1623.9 L956.8 1627.2 L956.8 1630.6 L955.1 1633.9 L951.8 1638.9 L935.2 1655.5 L958.4 1655.5M991.6 1620.6 L975.0 1655.5M968.4 1620.6 L991.6 1620.6M1051.8 1628.9 L1051.8 1627.2 L1053.5 1623.9 L1055.2 1622.3 L1058.5 1620.6 L1065.1 1620.6 L1068.4 1622.3 L1070.1 1623.9 L1071.8 1627.2 L1071.8 1630.6 L1070.1 1633.9 L1066.8 1638.9 L1050.2 1655.5 L1073.4 1655.5M1106.6 1620.6 L1090.0 1655.5M1083.4 1620.6 L1106.6 1620.6M1121.6 1653.8 L1119.9 1655.5 L1118.2 1653.8 L1119.9 1652.2 L1121.6 1653.8 L1121.6 1657.1 L1119.9 1660.5 L1118.2 1662.1M1136.5 1620.6 L1154.8 1620.6 L1144.8 1633.9 L1149.8 1633.9 L1153.1 1635.5 L1154.8 1637.2 L1156.4 1642.2 L1156.4 1645.5 L1154.8 1650.5 L1151.4 1653.8 L1146.5 1655.5 L1141.5 1655.5 L1136.5 1653.8 L1134.8 1652.2 L1133.2 1648.8M1171.4 1627.2 L1174.7 1625.6 L1179.7 1620.6 L1179.7 1655.5M1248.8 1628.9 L1248.8 1627.2 L1250.5 1623.9 L1252.2 1622.3 L1255.5 1620.6 L1262.1 1620.6 L1265.4 1622.3 L1267.1 1623.9 L1268.8 1627.2 L1268.8 1630.6 L1267.1 1633.9 L1263.8 1638.9 L1247.2 1655.5 L1270.4 1655.5M1282.0 1628.9 L1282.0 1627.2 L1283.7 1623.9 L1285.4 1622.3 L1288.7 1620.6 L1295.3 1620.6 L1298.6 1622.3 L1300.3 1623.9 L1302.0 1627.2 L1302.0 1630.6 L1300.3 1633.9 L1297.0 1638.9 L1280.4 1655.5 L1303.6 1655.5M1318.6 1653.8 L1316.9 1655.5 L1315.2 1653.8 L1316.9 1652.2 L1318.6 1653.8 L1318.6 1657.1 L1316.9 1660.5 L1315.2 1662.1M1331.8 1628.9 L1331.8 1627.2 L1333.5 1623.9 L1335.2 1622.3 L1338.5 1620.6 L1345.1 1620.6 L1348.4 1622.3 L1350.1 1623.9 L1351.8 1627.2 L1351.8 1630.6 L1350.1 1633.9 L1346.8 1638.9 L1330.2 1655.5 L1353.4 1655.5M1386.6 1620.6 L1370.0 1655.5M1363.4 1620.6 L1386.6 1620.6M1445.8 1628.9 L1445.8 1627.2 L1447.5 1623.9 L1449.2 1622.3 L1452.5 1620.6 L1459.1 1620.6 L1462.4 1622.3 L1464.1 1623.9 L1465.8 1627.2 L1465.8 1630.6 L1464.1 1633.9 L1460.8 1638.9 L1444.2 1655.5 L1467.4 1655.5M1494.0 1620.6 L1477.4 1643.9 L1502.3 1643.9M1494.0 1620.6 L1494.0 1655.5M1515.6 1653.8 L1513.9 1655.5 L1512.2 1653.8 L1513.9 1652.2 L1515.6 1653.8 L1515.6 1657.1 L1513.9 1660.5 L1512.2 1662.1M1530.5 1620.6 L1548.8 1620.6 L1538.8 1633.9 L1543.8 1633.9 L1547.1 1635.5 L1548.8 1637.2 L1550.4 1642.2 L1550.4 1645.5 L1548.8 1650.5 L1545.4 1653.8 L1540.5 1655.5 L1535.5 1655.5 L1530.5 1653.8 L1528.8 1652.2 L1527.2 1648.8M1565.4 1627.2 L1568.7 1625.6 L1573.7 1620.6 L1573.7 1655.5M1646.2 1627.2 L1649.5 1625.6 L1654.5 1620.6 L1654.5 1655.5M1691.0 1620.6 L1674.4 1643.9 L1699.3 1643.9M1691.0 1620.6 L1691.0 1655.5M1712.6 1653.8 L1710.9 1655.5 L1709.2 1653.8 L1710.9 1652.2 L1712.6 1653.8 L1712.6 1657.1 L1710.9 1660.5 L1709.2 1662.1M1725.8 1628.9 L1725.8 1627.2 L1727.5 1623.9 L1729.2 1622.3 L1732.5 1620.6 L1739.1 1620.6 L1742.4 1622.3 L1744.1 1623.9 L1745.8 1627.2 L1745.8 1630.6 L1744.1 1633.9 L1740.8 1638.9 L1724.2 1655.5 L1747.4 1655.5M1759.0 1628.9 L1759.0 1627.2 L1760.7 1623.9 L1762.4 1622.3 L1765.7 1620.6 L1772.3 1620.6 L1775.6 1622.3 L1777.3 1623.9 L1779.0 1627.2 L1779.0 1630.6 L1777.3 1633.9 L1774.0 1638.9 L1757.4 1655.5 L1780.6 1655.5M1840.8 1628.9 L1840.8 1627.2 L1842.5 1623.9 L1844.2 1622.3 L1847.5 1620.6 L1854.1 1620.6 L1857.4 1622.3 L1859.1 1623.9 L1860.8 1627.2 L1860.8 1630.6 L1859.1 1633.9 L1855.8 1638.9 L1839.2 1655.5 L1862.4 1655.5M1874.0 1628.9 L1874.0 1627.2 L1875.7 1623.9 L1877.4 1622.3 L1880.7 1620.6 L1887.3 1620.6 L1890.6 1622.3 L1892.3 1623.9 L1894.0 1627.2 L1894.0 1630.6 L1892.3 1633.9 L1889.0 1638.9 L1872.4 1655.5 L1895.6 1655.5M1910.6 1653.8 L1908.9 1655.5 L1907.2 1653.8 L1908.9 1652.2 L1910.6 1653.8 L1910.6 1657.1 L1908.9 1660.5 L1907.2 1662.1M1925.5 1620.6 L1943.8 1620.6 L1933.8 1633.9 L1938.8 1633.9 L1942.1 1635.5 L1943.8 1637.2 L1945.4 1642.2 L1945.4 1645.5 L1943.8 1650.5 L1940.4 1653.8 L1935.5 1655.5 L1930.5 1655.5 L1925.5 1653.8 L1923.8 1652.2 L1922.2 1648.8M1960.4 1627.2 L1963.7 1625.6 L1968.7 1620.6 L1968.7 1655.5M2041.2 1627.2 L2044.5 1625.6 L2049.5 1620.6 L2049.5 1655.5M2086.0 1620.6 L2069.4 1643.9 L2094.3 1643.9M2086.0 1620.6 L2086.0 1655.5M2107.6 1653.8 L2105.9 1655.5 L2104.2 1653.8 L2105.9 1652.2 L2107.6 1653.8 L2107.6 1657.1 L2105.9 1660.5 L2104.2 1662.1M2120.8 1628.9 L2120.8 1627.2 L2122.5 1623.9 L2124.2 1622.3 L2127.5 1620.6 L2134.1 1620.6 L2137.4 1622.3 L2139.1 1623.9 L2140.8 1627.2 L2140.8 1630.6 L2139.1 1633.9 L2135.8 1638.9 L2119.2 1655.5 L2142.4 1655.5M2169.0 1620.6 L2152.4 1643.9 L2177.3 1643.9M2169.0 1620.6 L2169.0 1655.5M2236.5 1620.6 L2254.8 1620.6 L2244.8 1633.9 L2249.8 1633.9 L2253.1 1635.5 L2254.8 1637.2 L2256.4 1642.2 L2256.4 1645.5 L2254.8 1650.5 L2251.4 1653.8 L2246.5 1655.5 L2241.5 1655.5 L2236.5 1653.8 L2234.8 1652.2 L2233.2 1648.8M2271.4 1627.2 L2274.7 1625.6 L2279.7 1620.6 L2279.7 1655.5M2304.6 1653.8 L2302.9 1655.5 L2301.2 1653.8 L2302.9 1652.2 L2304.6 1653.8 L2304.6 1657.1 L2302.9 1660.5 L2301.2 1662.1M2332.8 1620.6 L2316.2 1643.9 L2341.1 1643.9M2332.8 1620.6 L2332.8 1655.5M2351.0 1628.9 L2351.0 1627.2 L2352.7 1623.9 L2354.4 1622.3 L2357.7 1620.6 L2364.3 1620.6 L2367.6 1622.3 L2369.3 1623.9 L2371.0 1627.2 L2371.0 1630.6 L2369.3 1633.9 L2366.0 1638.9 L2349.4 1655.5 L2372.6 1655.5M2434.5 1620.6 L2452.8 1620.6 L2442.8 1633.9 L2447.8 1633.9 L2451.1 1635.5 L2452.8 1637.2 L2454.4 1642.2 L2454.4 1645.5 L2452.8 1650.5 L2449.4 1653.8 L2444.5 1655.5 L2439.5 1655.5 L2434.5 1653.8 L2432.8 1652.2 L2431.2 1648.8M2469.4 1627.2 L2472.7 1625.6 L2477.7 1620.6 L2477.7 1655.5M2502.6 1653.8 L2500.9 1655.5 L2499.2 1653.8 L2500.9 1652.2 L2502.6 1653.8 L2502.6 1657.1 L2500.9 1660.5 L2499.2 1662.1M2530.8 1620.6 L2514.2 1643.9 L2539.1 1643.9M2530.8 1620.6 L2530.8 1655.5M2550.7 1620.6 L2569.0 1620.6 L2559.0 1633.9 L2564.0 1633.9 L2567.3 1635.5 L2569.0 1637.2 L2570.6 1642.2 L2570.6 1645.5 L2569.0 1650.5 L2565.6 1653.8 L2560.7 1655.5 L2555.7 1655.5 L2550.7 1653.8 L2549.0 1652.2 L2547.4 1648.8M78.2 1746.9 L78.2 1781.7M78.2 1781.7 L98.2 1781.7M124.7 1758.5 L124.7 1781.7M124.7 1763.5 L121.4 1760.2 L118.1 1758.5 L113.1 1758.5 L109.8 1760.2 L106.5 1763.5 L104.8 1768.5 L104.8 1771.8 L106.5 1776.8 L109.8 1780.1 L113.1 1781.7 L118.1 1781.7 L121.4 1780.1 L124.7 1776.8M156.3 1758.5 L156.3 1785.1 L154.6 1790.0 L152.9 1791.7 L149.6 1793.4 L144.6 1793.4 L141.3 1791.7M156.3 1763.5 L152.9 1760.2 L149.6 1758.5 L144.6 1758.5 L141.3 1760.2 L138.0 1763.5 L136.3 1768.5 L136.3 1771.8 L138.0 1776.8 L141.3 1780.1 L144.6 1781.7 L149.6 1781.7 L152.9 1780.1 L156.3 1776.8M265.2 1753.5 L268.5 1751.9 L273.5 1746.9 L273.5 1781.7M296.7 1746.9 L315.0 1746.9 L305.0 1760.2 L310.0 1760.2 L313.3 1761.8 L315.0 1763.5 L316.6 1768.5 L316.6 1771.8 L315.0 1776.8 L311.6 1780.1 L306.7 1781.7 L301.7 1781.7 L296.7 1780.1 L295.0 1778.4 L293.4 1775.1M463.2 1753.5 L466.5 1751.9 L471.5 1746.9 L471.5 1781.7M508.0 1746.9 L491.4 1770.1 L516.3 1770.1M508.0 1746.9 L508.0 1781.7M660.2 1753.5 L663.5 1751.9 L668.5 1746.9 L668.5 1781.7M708.3 1746.9 L691.7 1746.9 L690.0 1761.8 L691.7 1760.2 L696.7 1758.5 L701.7 1758.5 L706.6 1760.2 L710.0 1763.5 L711.6 1768.5 L711.6 1771.8 L710.0 1776.8 L706.6 1780.1 L701.7 1781.7 L696.7 1781.7 L691.7 1780.1 L690.0 1778.4 L688.4 1775.1M857.2 1753.5 L860.5 1751.9 L865.5 1746.9 L865.5 1781.7M907.0 1751.9 L905.3 1748.5 L900.3 1746.9 L897.0 1746.9 L892.0 1748.5 L888.7 1753.5 L887.0 1761.8 L887.0 1770.1 L888.7 1776.8 L892.0 1780.1 L897.0 1781.7 L898.7 1781.7 L903.6 1780.1 L907.0 1776.8 L908.6 1771.8 L908.6 1770.1 L907.0 1765.1 L903.6 1761.8 L898.7 1760.2 L897.0 1760.2 L892.0 1761.8 L888.7 1765.1 L887.0 1770.1M1055.2 1753.5 L1058.5 1751.9 L1063.5 1746.9 L1063.5 1781.7M1106.6 1746.9 L1090.0 1781.7M1083.4 1746.9 L1106.6 1746.9M1252.2 1753.5 L1255.5 1751.9 L1260.5 1746.9 L1260.5 1781.7M1288.7 1746.9 L1283.7 1748.5 L1282.0 1751.9 L1282.0 1755.2 L1283.7 1758.5 L1287.0 1760.2 L1293.7 1761.8 L1298.6 1763.5 L1302.0 1766.8 L1303.6 1770.1 L1303.6 1775.1 L1302.0 1778.4 L1300.3 1780.1 L1295.3 1781.7 L1288.7 1781.7 L1283.7 1780.1 L1282.0 1778.4 L1280.4 1775.1 L1280.4 1770.1 L1282.0 1766.8 L1285.4 1763.5 L1290.3 1761.8 L1297.0 1760.2 L1300.3 1758.5 L1302.0 1755.2 L1302.0 1751.9 L1300.3 1748.5 L1295.3 1746.9ZM1449.2 1753.5 L1452.5 1751.9 L1457.5 1746.9 L1457.5 1781.7M1499.0 1758.5 L1497.3 1763.5 L1494.0 1766.8 L1489.0 1768.5 L1487.3 1768.5 L1482.4 1766.8 L1479.0 1763.5 L1477.4 1758.5 L1477.4 1756.8 L1479.0 1751.9 L1482.4 1748.5 L1487.3 1746.9 L1489.0 1746.9 L1494.0 1748.5 L1497.3 1751.9 L1499.0 1758.5 L1499.0 1766.8 L1497.3 1775.1 L1494.0 1780.1 L1489.0 1781.7 L1485.7 1781.7 L1480.7 1780.1 L1479.0 1776.8M1642.8 1755.2 L1642.8 1753.5 L1644.5 1750.2 L1646.2 1748.5 L1649.5 1746.9 L1656.1 1746.9 L1659.4 1748.5 L1661.1 1750.2 L1662.8 1753.5 L1662.8 1756.8 L1661.1 1760.2 L1657.8 1765.1 L1641.2 1781.7 L1664.4 1781.7M1684.3 1746.9 L1679.4 1748.5 L1676.0 1753.5 L1674.4 1761.8 L1674.4 1766.8 L1676.0 1775.1 L1679.4 1780.1 L1684.3 1781.7 L1687.7 1781.7 L1692.6 1780.1 L1696.0 1775.1 L1697.6 1766.8 L1697.6 1761.8 L1696.0 1753.5 L1692.6 1748.5 L1687.7 1746.9ZM1840.8 1755.2 L1840.8 1753.5 L1842.5 1750.2 L1844.2 1748.5 L1847.5 1746.9 L1854.1 1746.9 L1857.4 1748.5 L1859.1 1750.2 L1860.8 1753.5 L1860.8 1756.8 L1859.1 1760.2 L1855.8 1765.1 L1839.2 1781.7 L1862.4 1781.7M1877.4 1753.5 L1880.7 1751.9 L1885.7 1746.9 L1885.7 1781.7M2037.8 1755.2 L2037.8 1753.5 L2039.5 1750.2 L2041.2 1748.5 L2044.5 1746.9 L2051.1 1746.9 L2054.4 1748.5 L2056.1 1750.2 L2057.8 1753.5 L2057.8 1756.8 L2056.1 1760.2 L2052.8 1765.1 L2036.2 1781.7 L2059.4 1781.7M2071.0 1755.2 L2071.0 1753.5 L2072.7 1750.2 L2074.4 1748.5 L2077.7 1746.9 L2084.3 1746.9 L2087.6 1748.5 L2089.3 1750.2 L2091.0 1753.5 L2091.0 1756.8 L2089.3 1760.2 L2086.0 1765.1 L2069.4 1781.7 L2092.6 1781.7M2234.8 1755.2 L2234.8 1753.5 L2236.5 1750.2 L2238.2 1748.5 L2241.5 1746.9 L2248.1 1746.9 L2251.4 1748.5 L2253.1 1750.2 L2254.8 1753.5 L2254.8 1756.8 L2253.1 1760.2 L2249.8 1765.1 L2233.2 1781.7 L2256.4 1781.7M2283.0 1746.9 L2266.4 1770.1 L2291.3 1770.1M2283.0 1746.9 L2283.0 1781.7M78.2 1873.2 L78.2 1908.0M78.2 1873.2 L93.2 1873.2 L98.2 1874.8 L99.8 1876.5 L101.5 1879.8 L101.5 1884.8 L99.8 1888.1 L98.2 1889.8 L93.2 1891.4 L78.2 1891.4M113.1 1884.8 L113.1 1901.4 L114.8 1906.3 L118.1 1908.0 L123.1 1908.0 L126.4 1906.3 L131.4 1901.4M131.4 1884.8 L131.4 1908.0M144.6 1873.2 L144.6 1908.0M174.5 1889.8 L172.9 1886.4 L167.9 1884.8 L162.9 1884.8 L157.9 1886.4 L156.3 1889.8 L157.9 1893.1 L161.2 1894.7 L169.5 1896.4 L172.9 1898.0 L174.5 1901.4 L174.5 1903.0 L172.9 1906.3 L167.9 1908.0 L162.9 1908.0 L157.9 1906.3 L156.3 1903.0M184.5 1894.7 L204.4 1894.7 L204.4 1891.4 L202.7 1888.1 L201.1 1886.4 L197.8 1884.8 L192.8 1884.8 L189.5 1886.4 L186.1 1889.8 L184.5 1894.7 L184.5 1898.0 L186.1 1903.0 L189.5 1906.3 L192.8 1908.0 L197.8 1908.0 L201.1 1906.3 L204.4 1903.0M232.6 1889.8 L231.0 1886.4 L226.0 1884.8 L221.0 1884.8 L216.0 1886.4 L214.4 1889.8 L216.0 1893.1 L219.3 1894.7 L227.6 1896.4 L231.0 1898.0 L232.6 1901.4 L232.6 1903.0 L231.0 1906.3 L226.0 1908.0 L221.0 1908.0 L216.0 1906.3 L214.4 1903.0M265.2 1879.8 L268.5 1878.1 L273.5 1873.2 L273.5 1908.0M310.0 1873.2 L293.4 1896.4 L318.3 1896.4M310.0 1873.2 L310.0 1908.0M331.6 1906.3 L329.9 1908.0 L328.2 1906.3 L329.9 1904.7 L331.6 1906.3 L331.6 1909.7 L329.9 1913.0 L328.2 1914.7M344.8 1881.5 L344.8 1879.8 L346.5 1876.5 L348.2 1874.8 L351.5 1873.2 L358.1 1873.2 L361.4 1874.8 L363.1 1876.5 L364.8 1879.8 L364.8 1883.1 L363.1 1886.4 L359.8 1891.4 L343.2 1908.0 L366.4 1908.0M399.6 1873.2 L383.0 1908.0M376.4 1873.2 L399.6 1873.2M468.1 1873.2 L463.2 1874.8 L459.8 1879.8 L458.2 1888.1 L458.2 1893.1 L459.8 1901.4 L463.2 1906.3 L468.1 1908.0 L471.5 1908.0 L476.4 1906.3 L479.8 1901.4 L481.4 1893.1 L481.4 1888.1 L479.8 1879.8 L476.4 1874.8 L471.5 1873.2ZM496.4 1906.3 L494.7 1908.0 L493.0 1906.3 L494.7 1904.7 L496.4 1906.3 L496.4 1909.7 L494.7 1913.0 L493.0 1914.7M513.0 1879.8 L516.3 1878.1 L521.3 1873.2 L521.3 1908.0M557.8 1873.2 L541.2 1896.4 L566.1 1896.4M557.8 1873.2 L557.8 1908.0M656.8 1881.5 L656.8 1879.8 L658.5 1876.5 L660.2 1874.8 L663.5 1873.2 L670.1 1873.2 L673.4 1874.8 L675.1 1876.5 L676.8 1879.8 L676.8 1883.1 L675.1 1886.4 L671.8 1891.4 L655.2 1908.0 L678.4 1908.0M711.6 1873.2 L695.0 1908.0M688.4 1873.2 L711.6 1873.2M726.6 1906.3 L724.9 1908.0 L723.2 1906.3 L724.9 1904.7 L726.6 1906.3 L726.6 1909.7 L724.9 1913.0 L723.2 1914.7M754.8 1873.2 L738.2 1896.4 L763.1 1896.4M754.8 1873.2 L754.8 1908.0M773.0 1881.5 L773.0 1879.8 L774.7 1876.5 L776.4 1874.8 L779.7 1873.2 L786.3 1873.2 L789.6 1874.8 L791.3 1876.5 L793.0 1879.8 L793.0 1883.1 L791.3 1886.4 L788.0 1891.4 L771.4 1908.0 L794.6 1908.0M853.8 1881.5 L853.8 1879.8 L855.5 1876.5 L857.2 1874.8 L860.5 1873.2 L867.1 1873.2 L870.4 1874.8 L872.1 1876.5 L873.8 1879.8 L873.8 1883.1 L872.1 1886.4 L868.8 1891.4 L852.2 1908.0 L875.4 1908.0M908.6 1873.2 L892.0 1908.0M885.4 1873.2 L908.6 1873.2M923.6 1906.3 L921.9 1908.0 L920.2 1906.3 L921.9 1904.7 L923.6 1906.3 L923.6 1909.7 L921.9 1913.0 L920.2 1914.7M951.8 1873.2 L935.2 1896.4 L960.1 1896.4M951.8 1873.2 L951.8 1908.0M971.7 1873.2 L990.0 1873.2 L980.0 1886.4 L985.0 1886.4 L988.3 1888.1 L990.0 1889.8 L991.6 1894.7 L991.6 1898.0 L990.0 1903.0 L986.6 1906.3 L981.7 1908.0 L976.7 1908.0 L971.7 1906.3 L970.0 1904.7 L968.4 1901.4M1055.2 1879.8 L1058.5 1878.1 L1063.5 1873.2 L1063.5 1908.0M1100.0 1873.2 L1083.4 1896.4 L1108.3 1896.4M1100.0 1873.2 L1100.0 1908.0M1121.6 1906.3 L1119.9 1908.0 L1118.2 1906.3 L1119.9 1904.7 L1121.6 1906.3 L1121.6 1909.7 L1119.9 1913.0 L1118.2 1914.7M1136.5 1873.2 L1154.8 1873.2 L1144.8 1886.4 L1149.8 1886.4 L1153.1 1888.1 L1154.8 1889.8 L1156.4 1894.7 L1156.4 1898.0 L1154.8 1903.0 L1151.4 1906.3 L1146.5 1908.0 L1141.5 1908.0 L1136.5 1906.3 L1134.8 1904.7 L1133.2 1901.4M1171.4 1879.8 L1174.7 1878.1 L1179.7 1873.2 L1179.7 1908.0M1248.8 1881.5 L1248.8 1879.8 L1250.5 1876.5 L1252.2 1874.8 L1255.5 1873.2 L1262.1 1873.2 L1265.4 1874.8 L1267.1 1876.5 L1268.8 1879.8 L1268.8 1883.1 L1267.1 1886.4 L1263.8 1891.4 L1247.2 1908.0 L1270.4 1908.0M1297.0 1873.2 L1280.4 1896.4 L1305.3 1896.4M1297.0 1873.2 L1297.0 1908.0M1318.6 1906.3 L1316.9 1908.0 L1315.2 1906.3 L1316.9 1904.7 L1318.6 1906.3 L1318.6 1909.7 L1316.9 1913.0 L1315.2 1914.7M1346.8 1873.2 L1330.2 1896.4 L1355.1 1896.4M1346.8 1873.2 L1346.8 1908.0M1365.0 1881.5 L1365.0 1879.8 L1366.7 1876.5 L1368.4 1874.8 L1371.7 1873.2 L1378.3 1873.2 L1381.6 1874.8 L1383.3 1876.5 L1385.0 1879.8 L1385.0 1883.1 L1383.3 1886.4 L1380.0 1891.4 L1363.4 1908.0 L1386.6 1908.0M1445.8 1881.5 L1445.8 1879.8 L1447.5 1876.5 L1449.2 1874.8 L1452.5 1873.2 L1459.1 1873.2 L1462.4 1874.8 L1464.1 1876.5 L1465.8 1879.8 L1465.8 1883.1 L1464.1 1886.4 L1460.8 1891.4 L1444.2 1908.0 L1467.4 1908.0M1494.0 1873.2 L1477.4 1896.4 L1502.3 1896.4M1494.0 1873.2 L1494.0 1908.0M1515.6 1906.3 L1513.9 1908.0 L1512.2 1906.3 L1513.9 1904.7 L1515.6 1906.3 L1515.6 1909.7 L1513.9 1913.0 L1512.2 1914.7M1543.8 1873.2 L1527.2 1896.4 L1552.1 1896.4M1543.8 1873.2 L1543.8 1908.0M1563.7 1873.2 L1582.0 1873.2 L1572.0 1886.4 L1577.0 1886.4 L1580.3 1888.1 L1582.0 1889.8 L1583.6 1894.7 L1583.6 1898.0 L1582.0 1903.0 L1578.6 1906.3 L1573.7 1908.0 L1568.7 1908.0 L1563.7 1906.3 L1562.0 1904.7 L1560.4 1901.4M1642.8 1881.5 L1642.8 1879.8 L1644.5 1876.5 L1646.2 1874.8 L1649.5 1873.2 L1656.1 1873.2 L1659.4 1874.8 L1661.1 1876.5 L1662.8 1879.8 L1662.8 1883.1 L1661.1 1886.4 L1657.8 1891.4 L1641.2 1908.0 L1664.4 1908.0M1676.0 1881.5 L1676.0 1879.8 L1677.7 1876.5 L1679.4 1874.8 L1682.7 1873.2 L1689.3 1873.2 L1692.6 1874.8 L1694.3 1876.5 L1696.0 1879.8 L1696.0 1883.1 L1694.3 1886.4 L1691.0 1891.4 L1674.4 1908.0 L1697.6 1908.0M1712.6 1906.3 L1710.9 1908.0 L1709.2 1906.3 L1710.9 1904.7 L1712.6 1906.3 L1712.6 1909.7 L1710.9 1913.0 L1709.2 1914.7M1740.8 1873.2 L1724.2 1896.4 L1749.1 1896.4M1740.8 1873.2 L1740.8 1908.0M1759.0 1881.5 L1759.0 1879.8 L1760.7 1876.5 L1762.4 1874.8 L1765.7 1873.2 L1772.3 1873.2 L1775.6 1874.8 L1777.3 1876.5 L1779.0 1879.8 L1779.0 1883.1 L1777.3 1886.4 L1774.0 1891.4 L1757.4 1908.0 L1780.6 1908.0M1840.8 1881.5 L1840.8 1879.8 L1842.5 1876.5 L1844.2 1874.8 L1847.5 1873.2 L1854.1 1873.2 L1857.4 1874.8 L1859.1 1876.5 L1860.8 1879.8 L1860.8 1883.1 L1859.1 1886.4 L1855.8 1891.4 L1839.2 1908.0 L1862.4 1908.0M1874.0 1881.5 L1874.0 1879.8 L1875.7 1876.5 L1877.4 1874.8 L1880.7 1873.2 L1887.3 1873.2 L1890.6 1874.8 L1892.3 1876.5 L1894.0 1879.8 L1894.0 1883.1 L1892.3 1886.4 L1889.0 1891.4 L1872.4 1908.0 L1895.6 1908.0M1910.6 1906.3 L1908.9 1908.0 L1907.2 1906.3 L1908.9 1904.7 L1910.6 1906.3 L1910.6 1909.7 L1908.9 1913.0 L1907.2 1914.7M1938.8 1873.2 L1922.2 1896.4 L1947.1 1896.4M1938.8 1873.2 L1938.8 1908.0M1958.7 1873.2 L1977.0 1873.2 L1967.0 1886.4 L1972.0 1886.4 L1975.3 1888.1 L1977.0 1889.8 L1978.6 1894.7 L1978.6 1898.0 L1977.0 1903.0 L1973.6 1906.3 L1968.7 1908.0 L1963.7 1908.0 L1958.7 1906.3 L1957.0 1904.7 L1955.4 1901.4M2046.1 1873.2 L2041.2 1874.8 L2037.8 1879.8 L2036.2 1888.1 L2036.2 1893.1 L2037.8 1901.4 L2041.2 1906.3 L2046.1 1908.0 L2049.5 1908.0 L2054.4 1906.3 L2057.8 1901.4 L2059.4 1893.1 L2059.4 1888.1 L2057.8 1879.8 L2054.4 1874.8 L2049.5 1873.2ZM2074.4 1906.3 L2072.7 1908.0 L2071.0 1906.3 L2072.7 1904.7 L2074.4 1906.3 L2074.4 1909.7 L2072.7 1913.0 L2071.0 1914.7M2087.6 1881.5 L2087.6 1879.8 L2089.3 1876.5 L2091.0 1874.8 L2094.3 1873.2 L2100.9 1873.2 L2104.2 1874.8 L2105.9 1876.5 L2107.6 1879.8 L2107.6 1883.1 L2105.9 1886.4 L2102.6 1891.4 L2086.0 1908.0 L2109.2 1908.0M2120.8 1881.5 L2120.8 1879.8 L2122.5 1876.5 L2124.2 1874.8 L2127.5 1873.2 L2134.1 1873.2 L2137.4 1874.8 L2139.1 1876.5 L2140.8 1879.8 L2140.8 1883.1 L2139.1 1886.4 L2135.8 1891.4 L2119.2 1908.0 L2142.4 1908.0M2243.1 1873.2 L2238.2 1874.8 L2234.8 1879.8 L2233.2 1888.1 L2233.2 1893.1 L2234.8 1901.4 L2238.2 1906.3 L2243.1 1908.0 L2246.5 1908.0 L2251.4 1906.3 L2254.8 1901.4 L2256.4 1893.1 L2256.4 1888.1 L2254.8 1879.8 L2251.4 1874.8 L2246.5 1873.2ZM2271.4 1906.3 L2269.7 1908.0 L2268.0 1906.3 L2269.7 1904.7 L2271.4 1906.3 L2271.4 1909.7 L2269.7 1913.0 L2268.0 1914.7M2284.6 1881.5 L2284.6 1879.8 L2286.3 1876.5 L2288.0 1874.8 L2291.3 1873.2 L2297.9 1873.2 L2301.2 1874.8 L2302.9 1876.5 L2304.6 1879.8 L2304.6 1883.1 L2302.9 1886.4 L2299.6 1891.4 L2283.0 1908.0 L2306.2 1908.0M2332.8 1873.2 L2316.2 1896.4 L2341.1 1896.4M2332.8 1873.2 L2332.8 1908.0" fill="none" stroke="#000" stroke-width="5.00" shape-rendering="crispEdges" stroke-linecap="butt" stroke-linejoin="miter" stroke-miterlimit="2"/>
<path d="M2171.7 758.7 L2171.7 785.4M2171.7 758.7 L2182.8 758.7 L2186.5 760.0 L2187.7 761.3 L2189.0 763.8 L2189.0 766.4 L2187.7 768.9 L2186.5 770.2 L2182.8 771.4 L2171.7 771.4M2180.3 771.4 L2189.0 785.4M2196.4 775.2 L2211.3 775.2 L2211.3 772.7 L2210.0 770.2 L2208.8 768.9 L2206.3 767.6 L2202.6 767.6 L2200.1 768.9 L2197.6 771.4 L2196.4 775.2 L2196.4 777.8 L2197.6 781.6 L2200.1 784.1 L2202.6 785.4 L2206.3 785.4 L2208.8 784.1 L2211.3 781.6M2233.6 758.7 L2233.6 785.4M2233.6 771.4 L2231.1 768.9 L2228.6 767.6 L2224.9 767.6 L2222.4 768.9 L2219.9 771.4 L2218.7 775.2 L2218.7 777.8 L2219.9 781.6 L2222.4 784.1 L2224.9 785.4 L2228.6 785.4 L2231.1 784.1 L2233.6 781.6" fill="none" stroke="#f21a08" stroke-width="5.00" shape-rendering="crispEdges" stroke-linecap="butt" stroke-linejoin="miter" stroke-miterlimit="2"/>
</svg>
</body></html>
